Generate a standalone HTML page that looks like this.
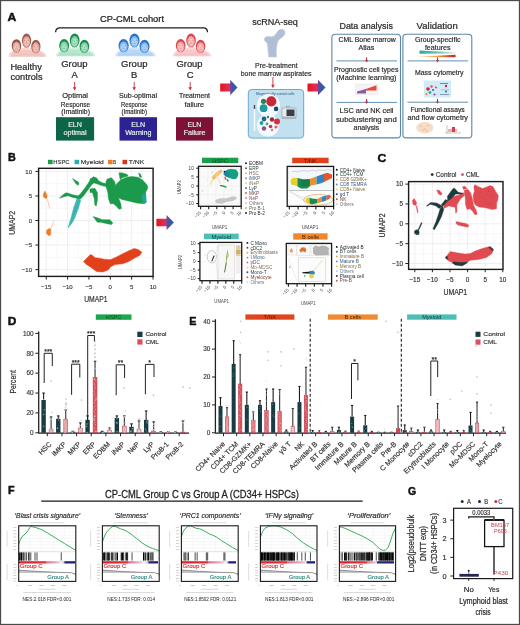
<!DOCTYPE html>
<html><head><meta charset="utf-8"><style>
html,body{margin:0;padding:0;background:#fff;}
svg{display:block;font-family:"Liberation Sans",sans-serif;will-change:transform;}
</style></head><body>
<svg width="520" height="625" viewBox="0 0 520 625">
<rect width="520" height="625" fill="#fff"/>
<text x="7.40" y="21.20" font-size="11.04" fill="#111" font-weight="bold" stroke="#111" stroke-width="0.45" textLength="8.80" lengthAdjust="spacingAndGlyphs" >A</text>
<text x="100.00" y="22.20" font-size="9.41" fill="#222" font-weight="normal" stroke="#222" stroke-width="0.24" textLength="64.00" lengthAdjust="spacingAndGlyphs" >CP-CML cohort</text>
<path d="M55.6,32.2 Q55.8,27.8 60,27.8 L203.5,27.8 Q207.4,27.8 207.5,32.2" fill="none" stroke="#1e1e1e" stroke-width="1.3" />
<path d="M8.50,56.70 Q9.26,50.85 16.48,50.05 Q21.80,47.35 26.55,47.05 Q31.30,47.35 35.86,50.05 Q45.74,50.85 46.50,56.70 Z" fill="#f7d8d4" stroke="none" stroke-width="1" />
<path d="M10.40,56.70 Q11.54,51.35 16.48,51.05 Q26.55,48.85 35.86,51.05 Q43.46,51.35 44.60,56.70 Z" fill="#eaa8a0" stroke="none" stroke-width="1" opacity="0.35"/>
<path d="M12.30,55.20 Q27.50,53.70 42.70,55.20" fill="none" stroke="#eaa8a0" stroke-width="0.5" opacity="0.6"/>
<rect x="24.27" y="44.00" width="4.56" height="3.70" fill="#eaa8a0" opacity="0.7"/>
<ellipse cx="26.55" cy="40.53" rx="4.64" ry="6.93" fill="#9a5e50"/>
<ellipse cx="26.55" cy="41.69" rx="3.62" ry="5.54" fill="#eaa8a0"/>
<ellipse cx="26.55" cy="42.15" rx="2.32" ry="3.47" fill="#f7d8d4" opacity="0.55"/>
<circle cx="24.93" cy="40.53" r="0.45" fill="#9a5e50" opacity="0.8"/>
<circle cx="28.17" cy="40.53" r="0.45" fill="#9a5e50" opacity="0.8"/>
<line x1="26.55" y1="40.99" x2="26.55" y2="42.61" stroke="#9a5e50" stroke-width="0.4" opacity="0.6"/>
<line x1="25.16" y1="43.76" x2="27.94" y2="43.76" stroke="#9a5e50" stroke-width="0.45" opacity="0.7"/>
<rect x="14.20" y="49.19" width="4.56" height="3.70" fill="#eaa8a0" opacity="0.7"/>
<ellipse cx="16.48" cy="45.84" rx="4.75" ry="6.70" fill="#8a5646"/>
<ellipse cx="16.48" cy="47.00" rx="3.71" ry="5.36" fill="#eaa8a0"/>
<ellipse cx="16.48" cy="47.46" rx="2.38" ry="3.35" fill="#f7d8d4" opacity="0.55"/>
<circle cx="14.82" cy="45.84" r="0.45" fill="#9a5e50" opacity="0.8"/>
<circle cx="18.14" cy="45.84" r="0.45" fill="#9a5e50" opacity="0.8"/>
<line x1="16.48" y1="46.31" x2="16.48" y2="47.92" stroke="#9a5e50" stroke-width="0.4" opacity="0.6"/>
<line x1="15.05" y1="49.08" x2="17.91" y2="49.08" stroke="#9a5e50" stroke-width="0.45" opacity="0.7"/>
<rect x="33.58" y="49.89" width="4.56" height="3.70" fill="#eaa8a0" opacity="0.7"/>
<ellipse cx="35.86" cy="46.54" rx="4.64" ry="6.70" fill="#9a5e50"/>
<ellipse cx="35.86" cy="47.69" rx="3.62" ry="5.36" fill="#eaa8a0"/>
<ellipse cx="35.86" cy="48.15" rx="2.32" ry="3.35" fill="#f7d8d4" opacity="0.55"/>
<circle cx="34.24" cy="46.54" r="0.45" fill="#9a5e50" opacity="0.8"/>
<circle cx="37.48" cy="46.54" r="0.45" fill="#9a5e50" opacity="0.8"/>
<line x1="35.86" y1="47.00" x2="35.86" y2="48.62" stroke="#9a5e50" stroke-width="0.4" opacity="0.6"/>
<line x1="34.47" y1="49.77" x2="37.25" y2="49.77" stroke="#9a5e50" stroke-width="0.45" opacity="0.7"/>
<path d="M55.80,56.20 Q56.59,50.52 64.14,49.72 Q69.69,47.02 74.66,46.72 Q79.62,47.02 84.38,49.72 Q94.71,50.52 95.50,56.20 Z" fill="#d2f0e0" stroke="none" stroke-width="1" />
<path d="M57.78,56.20 Q58.98,51.02 64.14,50.72 Q74.66,48.52 84.38,50.72 Q92.32,51.02 93.52,56.20 Z" fill="#86d2aa" stroke="none" stroke-width="1" opacity="0.35"/>
<path d="M59.77,54.70 Q75.65,53.20 91.53,54.70" fill="none" stroke="#86d2aa" stroke-width="0.5" opacity="0.6"/>
<rect x="72.28" y="43.77" width="4.76" height="3.62" fill="#86d2aa" opacity="0.7"/>
<ellipse cx="74.66" cy="40.38" rx="4.84" ry="6.78" fill="#1c8a4e"/>
<ellipse cx="74.66" cy="41.51" rx="3.78" ry="5.42" fill="#86d2aa"/>
<ellipse cx="74.66" cy="41.96" rx="2.42" ry="3.39" fill="#d2f0e0" opacity="0.55"/>
<circle cx="72.96" cy="40.38" r="0.45" fill="#1c8a4e" opacity="0.8"/>
<circle cx="76.35" cy="40.38" r="0.45" fill="#1c8a4e" opacity="0.8"/>
<line x1="74.66" y1="40.83" x2="74.66" y2="42.41" stroke="#1c8a4e" stroke-width="0.4" opacity="0.6"/>
<line x1="73.20" y1="43.54" x2="76.11" y2="43.54" stroke="#1c8a4e" stroke-width="0.45" opacity="0.7"/>
<rect x="61.76" y="48.86" width="4.76" height="3.62" fill="#86d2aa" opacity="0.7"/>
<ellipse cx="64.14" cy="45.58" rx="4.96" ry="6.55" fill="#1c8a4e"/>
<ellipse cx="64.14" cy="46.71" rx="3.87" ry="5.24" fill="#86d2aa"/>
<ellipse cx="64.14" cy="47.16" rx="2.48" ry="3.28" fill="#d2f0e0" opacity="0.55"/>
<circle cx="62.40" cy="45.58" r="0.45" fill="#1c8a4e" opacity="0.8"/>
<circle cx="65.87" cy="45.58" r="0.45" fill="#1c8a4e" opacity="0.8"/>
<line x1="64.14" y1="46.03" x2="64.14" y2="47.61" stroke="#1c8a4e" stroke-width="0.4" opacity="0.6"/>
<line x1="62.65" y1="48.74" x2="65.63" y2="48.74" stroke="#1c8a4e" stroke-width="0.45" opacity="0.7"/>
<rect x="82.00" y="49.53" width="4.76" height="3.62" fill="#86d2aa" opacity="0.7"/>
<ellipse cx="84.38" cy="46.26" rx="4.84" ry="6.55" fill="#1c8a4e"/>
<ellipse cx="84.38" cy="47.39" rx="3.78" ry="5.24" fill="#86d2aa"/>
<ellipse cx="84.38" cy="47.84" rx="2.42" ry="3.28" fill="#d2f0e0" opacity="0.55"/>
<circle cx="82.69" cy="46.26" r="0.45" fill="#1c8a4e" opacity="0.8"/>
<circle cx="86.08" cy="46.26" r="0.45" fill="#1c8a4e" opacity="0.8"/>
<line x1="84.38" y1="46.71" x2="84.38" y2="48.29" stroke="#1c8a4e" stroke-width="0.4" opacity="0.6"/>
<line x1="82.93" y1="49.42" x2="85.84" y2="49.42" stroke="#1c8a4e" stroke-width="0.45" opacity="0.7"/>
<path d="M115.00,56.20 Q115.82,50.52 123.61,49.72 Q129.35,47.02 134.47,46.72 Q139.60,47.02 144.52,49.72 Q155.18,50.52 156.00,56.20 Z" fill="#d2e6f9" stroke="none" stroke-width="1" />
<path d="M117.05,56.20 Q118.28,51.02 123.61,50.72 Q134.47,48.52 144.52,50.72 Q152.72,51.02 153.95,56.20 Z" fill="#8cbcee" stroke="none" stroke-width="1" opacity="0.35"/>
<path d="M119.10,54.70 Q135.50,53.20 151.90,54.70" fill="none" stroke="#8cbcee" stroke-width="0.5" opacity="0.6"/>
<rect x="132.01" y="43.77" width="4.92" height="3.62" fill="#8cbcee" opacity="0.7"/>
<ellipse cx="134.47" cy="40.38" rx="5.00" ry="6.78" fill="#2a72c8"/>
<ellipse cx="134.47" cy="41.51" rx="3.90" ry="5.42" fill="#8cbcee"/>
<ellipse cx="134.47" cy="41.96" rx="2.50" ry="3.39" fill="#d2e6f9" opacity="0.55"/>
<circle cx="132.72" cy="40.38" r="0.45" fill="#2a72c8" opacity="0.8"/>
<circle cx="136.23" cy="40.38" r="0.45" fill="#2a72c8" opacity="0.8"/>
<line x1="134.47" y1="40.83" x2="134.47" y2="42.41" stroke="#2a72c8" stroke-width="0.4" opacity="0.6"/>
<line x1="132.97" y1="43.54" x2="135.98" y2="43.54" stroke="#2a72c8" stroke-width="0.45" opacity="0.7"/>
<rect x="121.15" y="48.86" width="4.92" height="3.62" fill="#8cbcee" opacity="0.7"/>
<ellipse cx="123.61" cy="45.58" rx="5.12" ry="6.55" fill="#2a72c8"/>
<ellipse cx="123.61" cy="46.71" rx="4.00" ry="5.24" fill="#8cbcee"/>
<ellipse cx="123.61" cy="47.16" rx="2.56" ry="3.28" fill="#d2e6f9" opacity="0.55"/>
<circle cx="121.82" cy="45.58" r="0.45" fill="#2a72c8" opacity="0.8"/>
<circle cx="125.40" cy="45.58" r="0.45" fill="#2a72c8" opacity="0.8"/>
<line x1="123.61" y1="46.03" x2="123.61" y2="47.61" stroke="#2a72c8" stroke-width="0.4" opacity="0.6"/>
<line x1="122.07" y1="48.74" x2="125.15" y2="48.74" stroke="#2a72c8" stroke-width="0.45" opacity="0.7"/>
<rect x="142.06" y="49.53" width="4.92" height="3.62" fill="#8cbcee" opacity="0.7"/>
<ellipse cx="144.52" cy="46.26" rx="5.00" ry="6.55" fill="#2a72c8"/>
<ellipse cx="144.52" cy="47.39" rx="3.90" ry="5.24" fill="#8cbcee"/>
<ellipse cx="144.52" cy="47.84" rx="2.50" ry="3.28" fill="#d2e6f9" opacity="0.55"/>
<circle cx="142.77" cy="46.26" r="0.45" fill="#2a72c8" opacity="0.8"/>
<circle cx="146.27" cy="46.26" r="0.45" fill="#2a72c8" opacity="0.8"/>
<line x1="144.52" y1="46.71" x2="144.52" y2="48.29" stroke="#2a72c8" stroke-width="0.4" opacity="0.6"/>
<line x1="143.02" y1="49.42" x2="146.02" y2="49.42" stroke="#2a72c8" stroke-width="0.45" opacity="0.7"/>
<path d="M172.50,56.20 Q173.28,50.52 180.69,49.72 Q186.15,47.02 191.03,46.72 Q195.90,47.02 200.58,49.72 Q210.72,50.52 211.50,56.20 Z" fill="#fcdadb" stroke="none" stroke-width="1" />
<path d="M174.45,56.20 Q175.62,51.02 180.69,50.72 Q191.03,48.52 200.58,50.72 Q208.38,51.02 209.55,56.20 Z" fill="#f4a6a8" stroke="none" stroke-width="1" opacity="0.35"/>
<path d="M176.40,54.70 Q192.00,53.20 207.60,54.70" fill="none" stroke="#f4a6a8" stroke-width="0.5" opacity="0.6"/>
<rect x="188.69" y="43.77" width="4.68" height="3.62" fill="#f4a6a8" opacity="0.7"/>
<ellipse cx="191.03" cy="40.38" rx="4.76" ry="6.78" fill="#d84850"/>
<ellipse cx="191.03" cy="41.51" rx="3.71" ry="5.42" fill="#f4a6a8"/>
<ellipse cx="191.03" cy="41.96" rx="2.38" ry="3.39" fill="#fcdadb" opacity="0.55"/>
<circle cx="189.36" cy="40.38" r="0.45" fill="#d84850" opacity="0.8"/>
<circle cx="192.69" cy="40.38" r="0.45" fill="#d84850" opacity="0.8"/>
<line x1="191.03" y1="40.83" x2="191.03" y2="42.41" stroke="#d84850" stroke-width="0.4" opacity="0.6"/>
<line x1="189.60" y1="43.54" x2="192.45" y2="43.54" stroke="#d84850" stroke-width="0.45" opacity="0.7"/>
<rect x="178.35" y="48.86" width="4.68" height="3.62" fill="#f4a6a8" opacity="0.7"/>
<ellipse cx="180.69" cy="45.58" rx="4.88" ry="6.55" fill="#d84850"/>
<ellipse cx="180.69" cy="46.71" rx="3.80" ry="5.24" fill="#f4a6a8"/>
<ellipse cx="180.69" cy="47.16" rx="2.44" ry="3.28" fill="#fcdadb" opacity="0.55"/>
<circle cx="178.98" cy="45.58" r="0.45" fill="#d84850" opacity="0.8"/>
<circle cx="182.40" cy="45.58" r="0.45" fill="#d84850" opacity="0.8"/>
<line x1="180.69" y1="46.03" x2="180.69" y2="47.61" stroke="#d84850" stroke-width="0.4" opacity="0.6"/>
<line x1="179.23" y1="48.74" x2="182.15" y2="48.74" stroke="#d84850" stroke-width="0.45" opacity="0.7"/>
<rect x="198.24" y="49.53" width="4.68" height="3.62" fill="#f4a6a8" opacity="0.7"/>
<ellipse cx="200.58" cy="46.26" rx="4.76" ry="6.55" fill="#d84850"/>
<ellipse cx="200.58" cy="47.39" rx="3.71" ry="5.24" fill="#f4a6a8"/>
<ellipse cx="200.58" cy="47.84" rx="2.38" ry="3.28" fill="#fcdadb" opacity="0.55"/>
<circle cx="198.91" cy="46.26" r="0.45" fill="#d84850" opacity="0.8"/>
<circle cx="202.25" cy="46.26" r="0.45" fill="#d84850" opacity="0.8"/>
<line x1="200.58" y1="46.71" x2="200.58" y2="48.29" stroke="#d84850" stroke-width="0.4" opacity="0.6"/>
<line x1="199.15" y1="49.42" x2="202.01" y2="49.42" stroke="#d84850" stroke-width="0.45" opacity="0.7"/>
<text x="10.40" y="70.00" font-size="9.79" fill="#2a2a2a" font-weight="normal" stroke="#2a2a2a" stroke-width="0.24" textLength="31.50" lengthAdjust="spacingAndGlyphs" >Healthy</text>
<text x="10.40" y="80.40" font-size="9.79" fill="#2a2a2a" font-weight="normal" stroke="#2a2a2a" stroke-width="0.24" textLength="32.10" lengthAdjust="spacingAndGlyphs" >controls</text>
<text x="61.20" y="66.90" font-size="9.41" fill="#2a2a2a" font-weight="normal" stroke="#2a2a2a" stroke-width="0.24" textLength="26.50" lengthAdjust="spacingAndGlyphs" >Group</text>
<text x="74.60" y="77.70" font-size="9.41" fill="#2a2a2a" font-weight="normal" stroke="#2a2a2a" stroke-width="0.24" text-anchor="middle" >A</text>
<line x1="74.60" y1="82.00" x2="74.60" y2="88.00" stroke="#c7303c" stroke-width="0.9" />
<path d="M72.80,87.2 L76.40,87.2 L74.60,90.4 Z" fill="#c7303c" stroke="none" stroke-width="1" />
<text x="62.30" y="98.30" font-size="7.01" fill="#2a2a2a" font-weight="normal" stroke="#2a2a2a" stroke-width="0.18" textLength="25.70" lengthAdjust="spacingAndGlyphs" >Optimal</text>
<text x="60.80" y="106.50" font-size="7.01" fill="#2a2a2a" font-weight="normal" stroke="#2a2a2a" stroke-width="0.18" textLength="29.40" lengthAdjust="spacingAndGlyphs" >Response</text>
<text x="61.20" y="113.70" font-size="7.01" fill="#2a2a2a" font-weight="normal" stroke="#2a2a2a" stroke-width="0.18" textLength="28.80" lengthAdjust="spacingAndGlyphs" >(Imatinib)</text>
<rect x="56.00" y="117.20" width="38.10" height="23.40" fill="#0d6447" />
<text x="75.05" y="127.30" font-size="7.1" fill="#e4f0ec" font-weight="normal" stroke="#e4f0ec" stroke-width="0.18" text-anchor="middle" >ELN</text>
<text x="75.05" y="135.20" font-size="7.1" fill="#e4f0ec" font-weight="normal" stroke="#e4f0ec" stroke-width="0.18" text-anchor="middle" >optimal</text>
<text x="121.00" y="66.90" font-size="9.41" fill="#2a2a2a" font-weight="normal" stroke="#2a2a2a" stroke-width="0.24" textLength="26.50" lengthAdjust="spacingAndGlyphs" >Group</text>
<text x="134.20" y="77.70" font-size="9.41" fill="#2a2a2a" font-weight="normal" stroke="#2a2a2a" stroke-width="0.24" text-anchor="middle" >B</text>
<line x1="134.20" y1="82.00" x2="134.20" y2="88.00" stroke="#c7303c" stroke-width="0.9" />
<path d="M132.40,87.2 L136.00,87.2 L134.20,90.4 Z" fill="#c7303c" stroke="none" stroke-width="1" />
<text x="119.00" y="98.30" font-size="7.01" fill="#2a2a2a" font-weight="normal" stroke="#2a2a2a" stroke-width="0.18" textLength="38.00" lengthAdjust="spacingAndGlyphs" >Sub-optimal</text>
<text x="121.00" y="106.50" font-size="7.01" fill="#2a2a2a" font-weight="normal" stroke="#2a2a2a" stroke-width="0.18" textLength="26.50" lengthAdjust="spacingAndGlyphs" >Response</text>
<text x="121.40" y="113.70" font-size="7.01" fill="#2a2a2a" font-weight="normal" stroke="#2a2a2a" stroke-width="0.18" textLength="25.60" lengthAdjust="spacingAndGlyphs" >(Imatinib)</text>
<rect x="119.50" y="117.20" width="37.50" height="23.40" fill="#2c2291" />
<text x="138.25" y="127.30" font-size="7.1" fill="#e4f0ec" font-weight="normal" stroke="#e4f0ec" stroke-width="0.18" text-anchor="middle" >ELN</text>
<text x="138.25" y="135.20" font-size="7.1" fill="#e4f0ec" font-weight="normal" stroke="#e4f0ec" stroke-width="0.18" text-anchor="middle" >Warning</text>
<text x="176.50" y="66.90" font-size="9.41" fill="#2a2a2a" font-weight="normal" stroke="#2a2a2a" stroke-width="0.24" textLength="26.00" lengthAdjust="spacingAndGlyphs" >Group</text>
<text x="190.20" y="77.70" font-size="9.41" fill="#2a2a2a" font-weight="normal" stroke="#2a2a2a" stroke-width="0.24" text-anchor="middle" >C</text>
<line x1="190.20" y1="82.00" x2="190.20" y2="88.00" stroke="#c7303c" stroke-width="0.9" />
<path d="M188.40,87.2 L192.00,87.2 L190.20,90.4 Z" fill="#c7303c" stroke="none" stroke-width="1" />
<text x="179.00" y="98.30" font-size="7.01" fill="#2a2a2a" font-weight="normal" stroke="#2a2a2a" stroke-width="0.18" textLength="31.00" lengthAdjust="spacingAndGlyphs" >Treatment</text>
<text x="184.50" y="106.50" font-size="7.01" fill="#2a2a2a" font-weight="normal" stroke="#2a2a2a" stroke-width="0.18" textLength="19.50" lengthAdjust="spacingAndGlyphs" >failure</text>
<rect x="176.00" y="117.20" width="37.00" height="23.40" fill="#7e1137" />
<text x="194.50" y="127.30" font-size="7.1" fill="#e4f0ec" font-weight="normal" stroke="#e4f0ec" stroke-width="0.18" text-anchor="middle" >ELN</text>
<text x="194.50" y="135.20" font-size="7.1" fill="#e4f0ec" font-weight="normal" stroke="#e4f0ec" stroke-width="0.18" text-anchor="middle" >Failure</text>
<defs><linearGradient id="ga" x1="0" x2="1" y1="0" y2="0">
<stop offset="0" stop-color="#e8121c"/><stop offset="0.5" stop-color="#e0305a"/><stop offset="0.6" stop-color="#6a4a9a"/><stop offset="0.8" stop-color="#3458a4"/><stop offset="1" stop-color="#2a6aa8"/></linearGradient></defs>
<path d="M220.20,83.60 L230.23,83.60 L230.23,79.70 L237.50,87.50 L230.23,95.30 L230.23,91.40 L220.20,91.40 Z" fill="url(#ga)" stroke="none" stroke-width="1" />
<path d="M307.50,83.60 L317.94,83.60 L317.94,79.70 L325.50,87.50 L317.94,95.30 L317.94,91.40 L307.50,91.40 Z" fill="url(#ga)" stroke="none" stroke-width="1" />
<text x="252.20" y="25.30" font-size="9.22" fill="#2a2a2a" font-weight="normal" stroke="#2a2a2a" stroke-width="0.23" textLength="45.70" lengthAdjust="spacingAndGlyphs" >scRNA-seq</text>
<path d="M268.8,57 C268.2,53 267.8,49 267.6,45.5 C267.4,43 266,42 264.8,40.8 C263.8,39.6 264.4,37.4 266.2,36.8 C268.2,36.2 270.5,37.2 272.5,36.6 C274.5,36 276,34 277.2,32 C278.2,30 280.5,28.8 282.8,29.4 C285.2,30.2 285.6,33 284.4,35 C283.2,37 280.6,38 279.2,39.6 C277.6,41.4 277,44 276.6,47 C276.2,50.5 276.2,54 276.6,57 Z" fill="#b0bfd6" stroke="#c2cde0" stroke-width="0.6" />
<text x="255.00" y="67.80" font-size="7.39" fill="#2a2a2a" font-weight="normal" stroke="#2a2a2a" stroke-width="0.18" textLength="42.60" lengthAdjust="spacingAndGlyphs" >Pre-treatment</text>
<text x="240.70" y="75.60" font-size="7.39" fill="#2a2a2a" font-weight="normal" stroke="#2a2a2a" stroke-width="0.18" textLength="70.80" lengthAdjust="spacingAndGlyphs" >bone marrow aspirates</text>
<line x1="272.90" y1="77.00" x2="272.90" y2="85.50" stroke="#c7303c" stroke-width="0.9" />
<path d="M271.2,84.8 L274.6,84.8 L272.9,88.2 Z" fill="#c7303c" stroke="none" stroke-width="1" />
<rect x="248.3" y="89.5" width="55.4" height="48.6" rx="3.5" fill="#c1e1f1" stroke="#5e9fc6" stroke-width="0.9"/>
<text x="256.00" y="94.60" font-size="2.88" fill="#2d4f7a" font-weight="normal" textLength="38.50" lengthAdjust="spacingAndGlyphs" >Magnetically sorted cells</text>
<circle cx="268.50" cy="105.50" r="11.50" fill="#f4fafd" />
<circle cx="268.00" cy="125.50" r="11.00" fill="#f4fafd" />
<circle cx="263.50" cy="101.30" r="2.60" fill="#1f8a4e" />
<circle cx="271.30" cy="101.40" r="5.10" fill="#c8283a" />
<circle cx="263.60" cy="108.20" r="3.90" fill="#1f9b9b" />
<circle cx="276.10" cy="108.90" r="2.30" fill="#1b4a70" />
<circle cx="264.00" cy="119.00" r="2.40" fill="#1f6a80" />
<circle cx="268.00" cy="117.00" r="1.20" fill="#1f8a6e" />
<circle cx="272.00" cy="119.50" r="2.20" fill="#a02838" />
<circle cx="277.00" cy="121.50" r="3.00" fill="#d83040" />
<circle cx="261.50" cy="123.00" r="1.90" fill="#1f9b9b" />
<circle cx="267.00" cy="124.00" r="1.40" fill="#2bb08f" />
<circle cx="270.50" cy="126.50" r="1.80" fill="#d83040" />
<circle cx="264.00" cy="128.50" r="2.20" fill="#9a4a8a" />
<circle cx="276.00" cy="127.00" r="1.60" fill="#d86070" />
<circle cx="272.00" cy="130.00" r="1.20" fill="#e07080" />
<rect x="253.80" y="105.00" width="1.40" height="26.00" fill="#f7fbfd" />
<rect x="253.80" y="105.00" width="1.40" height="4.00" fill="#404850" />
<rect x="282" y="108" width="14" height="10.5" rx="1" fill="#e8ecef" stroke="#7a8088" stroke-width="0.5"/>
<rect x="286.50" y="109.50" width="8.00" height="6.50" fill="#3a3e48" />
<rect x="282.00" y="116.50" width="14.00" height="2.00" fill="#b0b4b8" />
<text x="286.00" y="106.80" font-size="2.4" fill="#333" font-weight="normal" >10X</text>
<text x="339.50" y="28.90" font-size="9.22" fill="#2a2a2a" font-weight="normal" stroke="#2a2a2a" stroke-width="0.23" textLength="53.40" lengthAdjust="spacingAndGlyphs" >Data analysis</text>
<text x="416.60" y="28.90" font-size="9.22" fill="#2a2a2a" font-weight="normal" stroke="#2a2a2a" stroke-width="0.23" textLength="41.10" lengthAdjust="spacingAndGlyphs" >Validation</text>
<rect x="331.9" y="34.3" width="68.6" height="103.6" rx="3.5" fill="none" stroke="#5a86a8" stroke-width="1.1"/>
<rect x="402.9" y="34.3" width="68.9" height="103.6" rx="3.5" fill="none" stroke="#5a86a8" stroke-width="1.1"/>
<line x1="336.50" y1="60.90" x2="397.00" y2="60.90" stroke="#4f84a8" stroke-width="0.9" />
<rect x="366.05" y="57.50" width="1.10" height="3.00" fill="#b8284a" />
<path d="M365.10,60.10 L368.10,60.10 L366.60,62.50 Z" fill="#c8283f" stroke="none" stroke-width="1" />
<line x1="336.50" y1="102.40" x2="397.00" y2="102.40" stroke="#4f84a8" stroke-width="0.9" />
<rect x="366.05" y="99.00" width="1.10" height="3.00" fill="#b8284a" />
<path d="M365.10,101.60 L368.10,101.60 L366.60,104.00 Z" fill="#c8283f" stroke="none" stroke-width="1" />
<line x1="407.50" y1="60.90" x2="468.00" y2="60.90" stroke="#4f84a8" stroke-width="0.9" />
<rect x="436.95" y="57.50" width="1.10" height="3.00" fill="#b8284a" />
<path d="M436.00,60.10 L439.00,60.10 L437.50,62.50 Z" fill="#c8283f" stroke="none" stroke-width="1" />
<line x1="407.50" y1="102.20" x2="468.00" y2="102.20" stroke="#4f84a8" stroke-width="0.9" />
<rect x="436.95" y="98.80" width="1.10" height="3.00" fill="#b8284a" />
<path d="M436.00,101.40 L439.00,101.40 L437.50,103.80 Z" fill="#c8283f" stroke="none" stroke-width="1" />
<text x="338.50" y="41.60" font-size="7.1" fill="#2a2a2a" font-weight="normal" stroke="#2a2a2a" stroke-width="0.18" textLength="57.20" lengthAdjust="spacingAndGlyphs" >CML Bone marrow</text>
<text x="366.30" y="49.70" font-size="7.1" fill="#2a2a2a" font-weight="normal" stroke="#2a2a2a" stroke-width="0.18" text-anchor="middle" >Atlas</text>
<text x="334.00" y="72.30" font-size="7.1" fill="#2a2a2a" font-weight="normal" stroke="#2a2a2a" stroke-width="0.18" textLength="64.40" lengthAdjust="spacingAndGlyphs" >Prognostic cell types</text>
<text x="336.20" y="80.10" font-size="7.1" fill="#2a2a2a" font-weight="normal" stroke="#2a2a2a" stroke-width="0.18" textLength="60.30" lengthAdjust="spacingAndGlyphs" >(Machine learning)</text>
<text x="339.50" y="112.90" font-size="7.1" fill="#2a2a2a" font-weight="normal" stroke="#2a2a2a" stroke-width="0.18" textLength="54.00" lengthAdjust="spacingAndGlyphs" >LSC and NK cell</text>
<text x="336.00" y="121.60" font-size="7.1" fill="#2a2a2a" font-weight="normal" stroke="#2a2a2a" stroke-width="0.18" textLength="60.70" lengthAdjust="spacingAndGlyphs" >subclustering and</text>
<text x="366.30" y="130.20" font-size="7.1" fill="#2a2a2a" font-weight="normal" stroke="#2a2a2a" stroke-width="0.18" text-anchor="middle" >analysis</text>
<rect x="355.50" y="84.00" width="22.50" height="10.50" fill="#f5f2f6" stroke="#ddd" stroke-width="0.3"/>
<path d="M357,91.5 L366,89 L366,93.5 L357,93.5 Z" fill="#8a5aa8" stroke="none" stroke-width="1" />
<path d="M366,89 L376.5,85.2 L376.5,90.5 L366,90.5 Z" fill="#e24a3a" stroke="none" stroke-width="1" />
<text x="415.00" y="41.60" font-size="7.1" fill="#2a2a2a" font-weight="normal" stroke="#2a2a2a" stroke-width="0.18" textLength="45.50" lengthAdjust="spacingAndGlyphs" >Group-specific</text>
<text x="437.70" y="49.80" font-size="7.1" fill="#2a2a2a" font-weight="normal" stroke="#2a2a2a" stroke-width="0.18" text-anchor="middle" >features</text>
<defs><linearGradient id="gt" x1="0" x2="1"><stop offset="0" stop-color="#2aa8a0"/><stop offset="0.6" stop-color="#7ec8c0"/><stop offset="1" stop-color="#f4f0e0"/></linearGradient>
<linearGradient id="gr" x1="0" x2="1"><stop offset="0" stop-color="#f6e6c0"/><stop offset="0.5" stop-color="#f0a040"/><stop offset="1" stop-color="#c8202a"/></linearGradient></defs>
<path d="M419.5,50.4 L455.5,52.2 L455.5,53.5 L419.5,53.8 Z" fill="url(#gt)" stroke="none" stroke-width="1" />
<path d="M419.5,56.4 L455.5,54.8 L455.5,57.2 L419.5,57 Z" fill="url(#gr)" stroke="none" stroke-width="1" />
<text x="415.00" y="74.60" font-size="7.1" fill="#2a2a2a" font-weight="normal" stroke="#2a2a2a" stroke-width="0.18" textLength="48.50" lengthAdjust="spacingAndGlyphs" >Mass cytometry</text>
<rect x="424.00" y="80.50" width="27.00" height="17.00" fill="#d2ebf6" />
<circle cx="428.00" cy="89.00" r="1.80" fill="#c8283a" />
<circle cx="431.50" cy="86.50" r="1.20" fill="#e05060" />
<circle cx="430.00" cy="92.50" r="1.30" fill="#1f9b9b" />
<circle cx="433.00" cy="90.00" r="1.00" fill="#2a5aa0" />
<circle cx="426.50" cy="94.00" r="1.00" fill="#e88030" />
<circle cx="434.50" cy="94.50" r="1.10" fill="#9a4a8a" />
<circle cx="436.00" cy="87.50" r="0.90" fill="#d83040" />
<circle cx="446.00" cy="86.00" r="1.20" fill="#c8283a" />
<circle cx="446.00" cy="91.50" r="1.00" fill="#2a5aa0" />
<rect x="440.00" y="83.00" width="8.00" height="1.00" fill="#6a8aa8" />
<rect x="440.00" y="94.00" width="9.00" height="0.80" fill="#6a8aa8" />
<rect x="441.00" y="89.50" width="8.00" height="0.80" fill="#a0b8c8" />
<text x="410.40" y="111.80" font-size="7.1" fill="#2a2a2a" font-weight="normal" stroke="#2a2a2a" stroke-width="0.18" textLength="54.30" lengthAdjust="spacingAndGlyphs" >Functional assays</text>
<text x="407.40" y="120.20" font-size="7.1" fill="#2a2a2a" font-weight="normal" stroke="#2a2a2a" stroke-width="0.18" textLength="60.60" lengthAdjust="spacingAndGlyphs" >and flow cytometry</text>
<ellipse cx="424.8" cy="127.7" rx="8.6" ry="5.8" fill="#f7dcc6"/>
<circle cx="421.00" cy="126.00" r="0.45" fill="#8a5a4a" />
<circle cx="425.00" cy="129.00" r="0.45" fill="#8a5a4a" />
<circle cx="428.00" cy="125.50" r="0.45" fill="#8a5a4a" />
<circle cx="423.00" cy="130.00" r="0.45" fill="#8a5a4a" />
<circle cx="427.00" cy="131.00" r="0.45" fill="#8a5a4a" />
<line x1="447.00" y1="125.00" x2="447.00" y2="133.00" stroke="#666" stroke-width="0.4" />
<line x1="445.00" y1="133.00" x2="461.00" y2="133.00" stroke="#666" stroke-width="0.4" />
<rect x="448.00" y="129.00" width="9.00" height="3.00" fill="#f0b0b0" />
<rect x="452.00" y="127.00" width="3.00" height="5.00" fill="#d04050" />
<text x="8.00" y="161.20" font-size="11.04" fill="#111" font-weight="bold" stroke="#111" stroke-width="0.45" textLength="7.80" lengthAdjust="spacingAndGlyphs" >B</text>
<rect x="48.00" y="159.80" width="4.60" height="4.40" fill="#1e9b4c" />
<text x="53.30" y="164.10" font-size="6.05" fill="#333" font-weight="normal" stroke="#333" stroke-width="0.15" textLength="16.30" lengthAdjust="spacingAndGlyphs" >HSPC</text>
<rect x="74.50" y="159.80" width="4.60" height="4.40" fill="#25b1ad" />
<text x="80.80" y="164.10" font-size="6.05" fill="#333" font-weight="normal" stroke="#333" stroke-width="0.15" textLength="23.00" lengthAdjust="spacingAndGlyphs" >Myeloid</text>
<rect x="108.00" y="159.80" width="4.60" height="4.40" fill="#f07a28" />
<text x="113.00" y="164.10" font-size="6.05" fill="#333" font-weight="normal" stroke="#333" stroke-width="0.15" textLength="3.20" lengthAdjust="spacingAndGlyphs" >B</text>
<rect x="122.50" y="159.80" width="4.60" height="4.40" fill="#de3219" />
<text x="128.80" y="164.10" font-size="6.05" fill="#333" font-weight="normal" stroke="#333" stroke-width="0.15" textLength="15.40" lengthAdjust="spacingAndGlyphs" >T/NK</text>
<line x1="46.25" y1="168.30" x2="46.25" y2="276.40" stroke="#e4e4e4" stroke-width="0.6" />
<line x1="67.60" y1="168.30" x2="67.60" y2="276.40" stroke="#e4e4e4" stroke-width="0.6" />
<line x1="88.95" y1="168.30" x2="88.95" y2="276.40" stroke="#e4e4e4" stroke-width="0.6" />
<line x1="110.30" y1="168.30" x2="110.30" y2="276.40" stroke="#e4e4e4" stroke-width="0.6" />
<line x1="131.65" y1="168.30" x2="131.65" y2="276.40" stroke="#e4e4e4" stroke-width="0.6" />
<line x1="153.00" y1="168.30" x2="153.00" y2="276.40" stroke="#e4e4e4" stroke-width="0.6" />
<line x1="38.60" y1="171.40" x2="153.10" y2="171.40" stroke="#e4e4e4" stroke-width="0.6" />
<line x1="38.60" y1="195.95" x2="153.10" y2="195.95" stroke="#e4e4e4" stroke-width="0.6" />
<line x1="38.60" y1="220.50" x2="153.10" y2="220.50" stroke="#e4e4e4" stroke-width="0.6" />
<line x1="38.60" y1="245.05" x2="153.10" y2="245.05" stroke="#e4e4e4" stroke-width="0.6" />
<line x1="38.60" y1="269.60" x2="153.10" y2="269.60" stroke="#e4e4e4" stroke-width="0.6" />
<line x1="56.92" y1="168.30" x2="56.92" y2="276.40" stroke="#f0f0f0" stroke-width="0.5" />
<line x1="78.28" y1="168.30" x2="78.28" y2="276.40" stroke="#f0f0f0" stroke-width="0.5" />
<line x1="99.62" y1="168.30" x2="99.62" y2="276.40" stroke="#f0f0f0" stroke-width="0.5" />
<line x1="120.97" y1="168.30" x2="120.97" y2="276.40" stroke="#f0f0f0" stroke-width="0.5" />
<line x1="142.32" y1="168.30" x2="142.32" y2="276.40" stroke="#f0f0f0" stroke-width="0.5" />
<line x1="38.60" y1="183.68" x2="153.10" y2="183.68" stroke="#f0f0f0" stroke-width="0.5" />
<line x1="38.60" y1="208.22" x2="153.10" y2="208.22" stroke="#f0f0f0" stroke-width="0.5" />
<line x1="38.60" y1="232.78" x2="153.10" y2="232.78" stroke="#f0f0f0" stroke-width="0.5" />
<line x1="38.60" y1="257.33" x2="153.10" y2="257.33" stroke="#f0f0f0" stroke-width="0.5" />
<path d="M120.80,179.70 L126.90,177.20 L131.80,176.60 L138.00,177.20 L142.90,180.30 L147.20,185.20 L147.80,188.30 L146.00,191.40 L144.20,196.30 L146.00,202.50 L144.20,203.70 L136.80,203.10 L129.40,201.20 L122.00,199.40 L117.70,197.50 L115.20,193.80 L114.60,188.90 L116.50,184.00 Z" fill="#1a9a4a" stroke="#1a9a4a" stroke-width="0.5" stroke-linejoin="round"/>
<path d="M118.90,172.90 L121.40,172.70 L126.90,174.20 L128.20,176.00 L122.00,177.80 L120.20,179.70 Z" fill="#1a9a4a" stroke="#1a9a4a" stroke-width="0.5" stroke-linejoin="round"/>
<path d="M138.60,172.90 L140.50,174.20 L141.70,177.20 L139.80,177.20 Z" fill="#1a9a4a" stroke="#1a9a4a" stroke-width="0.5" stroke-linejoin="round"/>
<path d="M107.20,179.10 L111.50,177.80 L114.60,181.50 L115.80,186.50 L116.50,192.60 L118.30,197.50 L120.80,203.70 L121.40,208.60 L118.90,209.20 L116.50,206.20 L113.40,203.70 L110.30,203.70 L108.50,198.80 L107.80,192.60 L106.00,186.50 L106.00,181.50 Z" fill="#1a9a4a" stroke="#1a9a4a" stroke-width="0.5" stroke-linejoin="round"/>
<path d="M90.00,179.10 L93.70,177.20 L97.40,180.30 L102.30,182.80 L107.20,184.00 L107.20,186.50 L102.30,185.80 L97.40,184.00 L93.70,182.80 L90.00,184.00 Z" fill="#1a9a4a" stroke="#1a9a4a" stroke-width="0.5" stroke-linejoin="round"/>
<path d="M90.00,188.90 L94.90,188.30 L97.40,192.60 L97.40,200.00 L96.20,206.20 L94.90,204.90 L94.30,198.80 L92.50,192.60 L90.00,192.60 Z" fill="#1a9a4a" stroke="#1a9a4a" stroke-width="0.5" stroke-linejoin="round"/>
<path d="M76.10,198.00 L80.70,193.40 L85.30,187.60 L89.90,180.70 L93.40,176.70 L96.20,177.80 L98.00,179.50 L98.00,182.50 L95.00,181.50 L91.50,185.00 L87.50,190.50 L83.50,196.00 L80.20,199.20 Z" fill="#1a9a4a" stroke="#1a9a4a" stroke-width="0.5" stroke-linejoin="round"/>
<path d="M59.30,198.20 L64.50,193.60 L66.80,192.80 L72.60,194.80 L77.80,195.70 L77.20,198.20 L72.60,197.40 L68.00,195.70 L64.00,196.80 Z" fill="#1a9a4a" stroke="#1a9a4a" stroke-width="0.5" stroke-linejoin="round"/>
<path d="M72.60,178.40 L76.10,180.70 L78.90,182.40 L78.40,185.30 L76.10,184.10 L74.30,181.30 Z" fill="#1a9a4a" stroke="#1a9a4a" stroke-width="0.5" stroke-linejoin="round"/>
<path d="M93.10,216.60 L97.40,217.80 L102.30,219.70 L109.70,219.70 L112.80,222.80 L111.50,224.60 L106.00,223.40 L101.10,222.20 L97.40,222.20 L95.50,219.70 Z" fill="#1a9a4a" stroke="#1a9a4a" stroke-width="0.5" stroke-linejoin="round"/>
<path d="M77.20,198.00 L80.70,200.30 L78.40,208.40 L74.90,217.60 L72.60,222.20 L68.00,228.00 L69.70,222.20 L71.40,216.40 L73.80,207.20 Z" fill="#26aeab" stroke="#26aeab" stroke-width="0.5" stroke-linejoin="round" opacity="0.9"/>
<path d="M43.20,194.50 L44.90,191.10 L47.20,195.70 L46.70,198.60 L43.80,197.40 Z" fill="#f07a28" stroke="#f07a28" stroke-width="0.5" stroke-linejoin="round"/>
<path d="M47.20,199.20 L47.60,199.10 L49.80,208.30 L49.40,208.40 Z" fill="#f07a28" stroke="#f07a28" stroke-width="0.2" stroke-linejoin="round" opacity="0.55"/>
<path d="M46.70,230.30 L49.00,228.60 L50.70,229.10 L50.70,234.90 L48.40,235.50 L46.30,233.20 Z" fill="#f07a28" stroke="#f07a28" stroke-width="0.5" stroke-linejoin="round"/>
<path d="M53.90,220.40 L54.30,220.60 L50.90,228.70 L50.50,228.50 Z" fill="#f07a28" stroke="#f07a28" stroke-width="0.2" stroke-linejoin="round" opacity="0.55"/>
<path d="M83.50,261.50 L87.30,257.70 L90.40,254.60 L92.70,255.40 L95.00,257.70 L99.60,258.20 L104.20,259.20 L110.40,259.70 L116.50,256.90 L122.70,253.80 L128.80,250.80 L134.20,248.50 L138.10,249.50 L141.90,252.30 L139.60,255.40 L135.00,257.70 L128.80,261.50 L122.70,263.80 L115.00,264.60 L110.40,266.90 L108.10,270.00 L102.70,272.00 L96.50,271.50 L93.50,269.20 L90.40,266.90 L86.50,264.60 Z" fill="#e2401b" stroke="#e2401b" stroke-width="0.5" stroke-linejoin="round"/>
<path d="M141.70,195.10 L146.00,192.60 L146.60,202.50 L142.90,203.70 Z" fill="#1fa596" stroke="none" stroke-width="1" />
<rect x="38.60" y="168.30" width="114.50" height="108.10" fill="none" stroke="#1a1a1a" stroke-width="1.4"/>
<line x1="35.40" y1="171.40" x2="38.60" y2="171.40" stroke="#222" stroke-width="1.0" />
<text x="32.10" y="173.60" font-size="6.05" fill="#3a3a3a" font-weight="normal" stroke="#3a3a3a" stroke-width="0.15" text-anchor="end" >10</text>
<line x1="35.40" y1="195.95" x2="38.60" y2="195.95" stroke="#222" stroke-width="1.0" />
<text x="32.10" y="198.15" font-size="6.05" fill="#3a3a3a" font-weight="normal" stroke="#3a3a3a" stroke-width="0.15" text-anchor="end" >5</text>
<line x1="35.40" y1="220.50" x2="38.60" y2="220.50" stroke="#222" stroke-width="1.0" />
<text x="32.10" y="222.70" font-size="6.05" fill="#3a3a3a" font-weight="normal" stroke="#3a3a3a" stroke-width="0.15" text-anchor="end" >0</text>
<line x1="35.40" y1="245.05" x2="38.60" y2="245.05" stroke="#222" stroke-width="1.0" />
<text x="32.10" y="247.25" font-size="6.05" fill="#3a3a3a" font-weight="normal" stroke="#3a3a3a" stroke-width="0.15" text-anchor="end" >−5</text>
<line x1="35.40" y1="269.60" x2="38.60" y2="269.60" stroke="#222" stroke-width="1.0" />
<text x="32.10" y="271.80" font-size="6.05" fill="#3a3a3a" font-weight="normal" stroke="#3a3a3a" stroke-width="0.15" text-anchor="end" >−10</text>
<line x1="46.25" y1="276.40" x2="46.25" y2="279.60" stroke="#222" stroke-width="1.0" />
<text x="46.25" y="289.10" font-size="6.05" fill="#3a3a3a" font-weight="normal" stroke="#3a3a3a" stroke-width="0.15" text-anchor="middle" >−15</text>
<line x1="67.60" y1="276.40" x2="67.60" y2="279.60" stroke="#222" stroke-width="1.0" />
<text x="67.60" y="289.10" font-size="6.05" fill="#3a3a3a" font-weight="normal" stroke="#3a3a3a" stroke-width="0.15" text-anchor="middle" >−10</text>
<line x1="88.95" y1="276.40" x2="88.95" y2="279.60" stroke="#222" stroke-width="1.0" />
<text x="88.95" y="289.10" font-size="6.05" fill="#3a3a3a" font-weight="normal" stroke="#3a3a3a" stroke-width="0.15" text-anchor="middle" >−5</text>
<line x1="110.30" y1="276.40" x2="110.30" y2="279.60" stroke="#222" stroke-width="1.0" />
<text x="110.30" y="289.10" font-size="6.05" fill="#3a3a3a" font-weight="normal" stroke="#3a3a3a" stroke-width="0.15" text-anchor="middle" >0</text>
<line x1="131.65" y1="276.40" x2="131.65" y2="279.60" stroke="#222" stroke-width="1.0" />
<text x="131.65" y="289.10" font-size="6.05" fill="#3a3a3a" font-weight="normal" stroke="#3a3a3a" stroke-width="0.15" text-anchor="middle" >5</text>
<line x1="153.00" y1="276.40" x2="153.00" y2="279.60" stroke="#222" stroke-width="1.0" />
<text x="153.00" y="289.10" font-size="6.05" fill="#3a3a3a" font-weight="normal" stroke="#3a3a3a" stroke-width="0.15" text-anchor="middle" >10</text>
<text x="84.20" y="301.90" font-size="8.26" fill="#3a3a3a" font-weight="normal" stroke="#3a3a3a" stroke-width="0.21" textLength="23.30" lengthAdjust="spacingAndGlyphs" >UMAP1</text>
<text x="-12.00" y="0.00" font-size="8.26" fill="#3a3a3a" font-weight="normal" stroke="#3a3a3a" stroke-width="0.21" textLength="24.00" lengthAdjust="spacingAndGlyphs" transform="translate(15.4,222.8) rotate(-90)">UMAP2</text>
<path d="M156.40,218.80 L166.55,218.80 L166.55,215.10 L173.90,222.50 L166.55,229.90 L166.55,226.20 L156.40,226.20 Z" fill="url(#ga)" stroke="none" stroke-width="1" />
<rect x="202.00" y="157.70" width="36.30" height="5.40" fill="#1aa04c" />
<text x="220.10" y="162.60" font-size="5.66" fill="#0e4a22" font-weight="normal" text-anchor="middle" >HSPC</text>
<rect x="198.50" y="166.30" width="42.70" height="40.00" fill="#fafafa" />
<line x1="198.50" y1="168.20" x2="241.20" y2="168.20" stroke="#e8e8e8" stroke-width="0.4" />
<line x1="198.50" y1="177.03" x2="241.20" y2="177.03" stroke="#e8e8e8" stroke-width="0.4" />
<line x1="198.50" y1="185.86" x2="241.20" y2="185.86" stroke="#e8e8e8" stroke-width="0.4" />
<line x1="198.50" y1="194.69" x2="241.20" y2="194.69" stroke="#e8e8e8" stroke-width="0.4" />
<line x1="198.50" y1="203.52" x2="241.20" y2="203.52" stroke="#e8e8e8" stroke-width="0.4" />
<line x1="200.00" y1="166.30" x2="200.00" y2="206.30" stroke="#e8e8e8" stroke-width="0.4" />
<line x1="207.90" y1="166.30" x2="207.90" y2="206.30" stroke="#e8e8e8" stroke-width="0.4" />
<line x1="215.80" y1="166.30" x2="215.80" y2="206.30" stroke="#e8e8e8" stroke-width="0.4" />
<line x1="223.70" y1="166.30" x2="223.70" y2="206.30" stroke="#e8e8e8" stroke-width="0.4" />
<line x1="231.60" y1="166.30" x2="231.60" y2="206.30" stroke="#e8e8e8" stroke-width="0.4" />
<line x1="239.50" y1="166.30" x2="239.50" y2="206.30" stroke="#e8e8e8" stroke-width="0.4" />
<path d="M215.40,200.00 L219.10,198.60 L226.50,198.20 L232.90,196.30 L236.20,196.80 L236.60,199.10 L232.90,200.90 L226.50,201.90 L221.90,203.70 L217.20,203.20 L215.40,201.90 Z" fill="#c6c6c6" stroke="none" stroke-width="1" stroke-linejoin="round" />
<path d="M223.80,172.20 L227.60,169.50 L230.70,169.10 L236.10,169.50 L238.40,172.90 L238.00,176.00 L236.10,179.10 L232.20,179.10 L228.40,177.50 L225.30,176.00 L223.80,174.50 Z" fill="#12a083" stroke="none" stroke-width="1" stroke-linejoin="round" />
<path d="M223.80,172.20 L226.50,170.50 L228.50,172.50 L229.00,176.50 L228.40,177.50 L225.30,176.00 L223.80,174.50 Z" fill="#1f84a0" stroke="none" stroke-width="1" stroke-linejoin="round" />
<path d="M210.7,183.7 L212.3,180.5 L213.8,177.5" fill="none" stroke="#e8e0a0" stroke-width="2.2" stroke-linecap="round" opacity="0.7"/>
<path d="M213.8,177.5 L216.5,174.5 L220.7,171.4" fill="none" stroke="#f2b458" stroke-width="3.6" stroke-linecap="round" opacity="0.85"/>
<path d="M216,174.5 L219.5,172" fill="none" stroke="#f6cc68" stroke-width="2.0" stroke-linecap="round"/>
<path d="M216.5,176 L219,180 L220,183" fill="none" stroke="#f4e0b0" stroke-width="2.0" stroke-linecap="round" opacity="0.6"/>
<path d="M211.30,171.40 L213.00,171.20 L213.20,173.00 L211.60,173.20 Z" fill="#b8ccd8" stroke="none" stroke-width="1" stroke-linejoin="round" opacity="0.7"/>
<path d="M224.50,176.80 L226.00,176.60 L226.20,179.50 L224.70,179.70 Z" fill="#e05a30" stroke="none" stroke-width="1" stroke-linejoin="round" />
<path d="M226.8,179.1 L228.4,181.4" fill="none" stroke="#1a7a50" stroke-width="1.2" />
<path d="M220.7,185.6 L223.5,186.2 L226,187.2" fill="none" stroke="#1f8a48" stroke-width="1.3" stroke-linecap="round"/>
<circle cx="224.50" cy="171.50" r="0.80" fill="#111" />
<circle cx="202.50" cy="190.80" r="0.70" fill="#c8c8c8" />
<circle cx="207.50" cy="180.00" r="0.40" fill="#c8c8c8" />
<rect x="198.50" y="166.30" width="42.70" height="40.00" fill="none" stroke="#1a1a1a" stroke-width="1.3"/>
<line x1="196.30" y1="168.20" x2="198.50" y2="168.20" stroke="#1a1a1a" stroke-width="1.1" />
<text x="193.80" y="169.90" font-size="4.7" fill="#3a3a3a" font-weight="normal" text-anchor="end" >10</text>
<line x1="196.30" y1="176.90" x2="198.50" y2="176.90" stroke="#1a1a1a" stroke-width="1.1" />
<text x="193.80" y="178.60" font-size="4.7" fill="#3a3a3a" font-weight="normal" text-anchor="end" >5</text>
<line x1="196.30" y1="186.00" x2="198.50" y2="186.00" stroke="#1a1a1a" stroke-width="1.1" />
<text x="193.80" y="187.70" font-size="4.7" fill="#3a3a3a" font-weight="normal" text-anchor="end" >0</text>
<line x1="196.30" y1="194.80" x2="198.50" y2="194.80" stroke="#1a1a1a" stroke-width="1.1" />
<text x="193.80" y="196.50" font-size="4.7" fill="#3a3a3a" font-weight="normal" text-anchor="end" >−5</text>
<line x1="196.30" y1="203.50" x2="198.50" y2="203.50" stroke="#1a1a1a" stroke-width="1.1" />
<text x="193.80" y="205.20" font-size="4.7" fill="#3a3a3a" font-weight="normal" text-anchor="end" >−10</text>
<text x="-7.00" y="0.00" font-size="5.18" fill="#4a4a4a" font-weight="normal" textLength="14.00" lengthAdjust="spacingAndGlyphs" transform="translate(180.9,187.2) rotate(-90)">UMAP2</text>
<line x1="200.60" y1="206.30" x2="200.60" y2="209.30" stroke="#1a1a1a" stroke-width="1.1" />
<text x="0.00" y="0.00" font-size="4.42" fill="#3a3a3a" font-weight="normal" text-anchor="end" transform="translate(201.20,212.90) rotate(-45)">−15</text>
<line x1="208.72" y1="206.30" x2="208.72" y2="209.30" stroke="#1a1a1a" stroke-width="1.1" />
<text x="0.00" y="0.00" font-size="4.42" fill="#3a3a3a" font-weight="normal" text-anchor="end" transform="translate(209.32,212.90) rotate(-45)">−10</text>
<line x1="216.84" y1="206.30" x2="216.84" y2="209.30" stroke="#1a1a1a" stroke-width="1.1" />
<text x="0.00" y="0.00" font-size="4.42" fill="#3a3a3a" font-weight="normal" text-anchor="end" transform="translate(217.44,212.90) rotate(-45)">−5</text>
<line x1="224.96" y1="206.30" x2="224.96" y2="209.30" stroke="#1a1a1a" stroke-width="1.1" />
<text x="0.00" y="0.00" font-size="4.42" fill="#3a3a3a" font-weight="normal" text-anchor="end" transform="translate(225.56,212.90) rotate(-45)">0</text>
<line x1="233.08" y1="206.30" x2="233.08" y2="209.30" stroke="#1a1a1a" stroke-width="1.1" />
<text x="0.00" y="0.00" font-size="4.42" fill="#3a3a3a" font-weight="normal" text-anchor="end" transform="translate(233.68,212.90) rotate(-45)">5</text>
<line x1="241.20" y1="206.30" x2="241.20" y2="209.30" stroke="#1a1a1a" stroke-width="1.1" />
<text x="0.00" y="0.00" font-size="4.42" fill="#3a3a3a" font-weight="normal" text-anchor="end" transform="translate(241.80,212.90) rotate(-45)">10</text>
<text x="211.90" y="228.60" font-size="5.47" fill="#4a4a4a" font-weight="normal" textLength="15.40" lengthAdjust="spacingAndGlyphs" >UMAP1</text>
<circle cx="246.00" cy="163.30" r="0.95" fill="#111" />
<text x="249.00" y="165.05" font-size="4.7" fill="#1e1e27" font-weight="normal" >EOBM</text>
<circle cx="246.00" cy="168.26" r="0.95" fill="#2a6a4a" />
<text x="249.00" y="170.01" font-size="4.7" fill="#2a4641" font-weight="normal" >ERP</text>
<circle cx="246.00" cy="173.22" r="0.95" fill="#e8b070" />
<text x="249.00" y="174.97" font-size="4.7" fill="#7f6652" font-weight="normal" >HSC</text>
<circle cx="246.00" cy="178.18" r="0.95" fill="#6a9ad0" />
<text x="249.00" y="179.93" font-size="4.7" fill="#465c7d" font-weight="normal" >iMKP</text>
<circle cx="246.00" cy="183.14" r="0.95" fill="#e0e060" />
<text x="249.00" y="184.89" font-size="4.7" fill="#7b7b4b" font-weight="normal" >iNeP</text>
<circle cx="246.00" cy="188.10" r="0.95" fill="#2a4a9a" />
<text x="249.00" y="189.85" font-size="4.7" fill="#2a3865" font-weight="normal" >LyP</text>
<circle cx="246.00" cy="193.06" r="0.95" fill="#d06040" />
<text x="249.00" y="194.81" font-size="4.7" fill="#74423c" font-weight="normal" >MKP</text>
<circle cx="246.00" cy="198.02" r="0.95" fill="#d08090" />
<text x="249.00" y="199.77" font-size="4.7" fill="#745060" font-weight="normal" >NeP</text>
<circle cx="246.00" cy="202.98" r="0.95" fill="#c8c8c8" />
<text x="249.00" y="204.73" font-size="4.7" fill="#717179" font-weight="normal" >Others</text>
<circle cx="246.00" cy="207.94" r="0.95" fill="#90c070" />
<text x="249.00" y="209.69" font-size="4.7" fill="#576d52" font-weight="normal" >Pro B-1</text>
<circle cx="246.00" cy="212.90" r="0.95" fill="#111" />
<text x="249.00" y="214.65" font-size="4.7" fill="#1e1e27" font-weight="normal" >Pro B-2</text>
<rect x="292.20" y="157.70" width="36.40" height="5.50" fill="#e0401b" />
<text x="310.40" y="162.60" font-size="5.66" fill="#5a1406" font-weight="normal" text-anchor="middle" >T/NK</text>
<rect x="287.20" y="166.40" width="46.40" height="40.00" fill="#fdfdfd" />
<rect x="288.70" y="167.90" width="43.40" height="22.50" fill="#f6f6f6" stroke="#cfcfcf" stroke-width="0.4"/>
<line x1="287.20" y1="170.00" x2="333.60" y2="170.00" stroke="#ececec" stroke-width="0.35" />
<line x1="287.20" y1="178.80" x2="333.60" y2="178.80" stroke="#ececec" stroke-width="0.35" />
<line x1="287.20" y1="187.60" x2="333.60" y2="187.60" stroke="#ececec" stroke-width="0.35" />
<line x1="287.20" y1="196.40" x2="333.60" y2="196.40" stroke="#ececec" stroke-width="0.35" />
<line x1="287.20" y1="205.20" x2="333.60" y2="205.20" stroke="#ececec" stroke-width="0.35" />
<line x1="288.70" y1="190.20" x2="332.10" y2="190.20" stroke="#b0b0b0" stroke-width="0.5" />
<line x1="289.00" y1="192.00" x2="306.00" y2="199.00" stroke="#c8c8c8" stroke-width="0.4" />
<defs><clipPath id="rt"><path d="M290.5,180 L293,177.7 L297.7,178 L303,179.3 L309.5,179 L316.4,176.5 L322,174.5 L327,172.8 L332,174.5 L332.1,178 L327,180.5 L322,183 L316.4,184.6 L311,185.5 L307,188.5 L301,188.5 L296.8,186 L291,184.6 Z"/></clipPath><clipPath id="rb"><path d="M305.5,199 L308,197.3 L312,198.5 L317,199 L321,197 L326,195.5 L329.5,194.8 L331,196.5 L329,199 L325,201 L320,202.5 L316,203.5 L312,204.2 L308,203 L305.5,201.5 Z"/></clipPath></defs>
<rect x="289.00" y="168.20" width="44.00" height="22.20" fill="#f4f8fb" />
<line x1="289.00" y1="190.50" x2="333.00" y2="190.50" stroke="#a8a8a8" stroke-width="0.6" />
<path d="M292,171.5 L300,171.2 L304,170.5 L308,171.3 L312,170 L316,171 L320,169.8 L324,170.6 L328,169.5 L332,170.5" fill="none" stroke="#b0a8b8" stroke-width="0.5" />
<line x1="289.90" y1="190.50" x2="304.60" y2="201.30" stroke="#c8c8c8" stroke-width="0.5" />
<rect x="290.00" y="170.00" width="7.50" height="20.00" fill="#e2d032" clip-path="url(#rt)"/>
<rect x="297.50" y="170.00" width="12.50" height="20.00" fill="#1a8a4e" clip-path="url(#rt)"/>
<rect x="310.00" y="170.00" width="6.50" height="20.00" fill="#e8922e" clip-path="url(#rt)"/>
<rect x="316.50" y="170.00" width="7.50" height="20.00" fill="#2a86c6" clip-path="url(#rt)"/>
<rect x="324.00" y="170.00" width="9.00" height="20.00" fill="#e25a2a" clip-path="url(#rt)"/>
<rect x="301.00" y="180.00" width="8.00" height="6.00" fill="#127040" clip-path="url(#rt)" opacity="0.5"/>
<rect x="305.00" y="193.00" width="4.50" height="13.00" fill="#e2d032" clip-path="url(#rb)"/>
<rect x="309.50" y="193.00" width="8.00" height="13.00" fill="#1a8a4e" clip-path="url(#rb)"/>
<rect x="317.50" y="193.00" width="4.00" height="13.00" fill="#e8922e" clip-path="url(#rb)"/>
<rect x="321.50" y="193.00" width="5.00" height="13.00" fill="#2a86c6" clip-path="url(#rb)"/>
<rect x="326.50" y="193.00" width="5.50" height="13.00" fill="#e25a2a" clip-path="url(#rb)"/>
<ellipse cx="318.3" cy="199.8" rx="14.7" ry="5.4" fill="none" stroke="#d89050" stroke-width="0.6"/>
<rect x="287.20" y="166.40" width="46.40" height="40.00" fill="none" stroke="#1a1a1a" stroke-width="1.3"/>
<line x1="289.30" y1="206.40" x2="289.30" y2="209.40" stroke="#1a1a1a" stroke-width="1.1" />
<text x="0.00" y="0.00" font-size="4.42" fill="#3a3a3a" font-weight="normal" text-anchor="end" transform="translate(289.90,213.00) rotate(-45)">−15</text>
<line x1="298.16" y1="206.40" x2="298.16" y2="209.40" stroke="#1a1a1a" stroke-width="1.1" />
<text x="0.00" y="0.00" font-size="4.42" fill="#3a3a3a" font-weight="normal" text-anchor="end" transform="translate(298.76,213.00) rotate(-45)">−10</text>
<line x1="307.02" y1="206.40" x2="307.02" y2="209.40" stroke="#1a1a1a" stroke-width="1.1" />
<text x="0.00" y="0.00" font-size="4.42" fill="#3a3a3a" font-weight="normal" text-anchor="end" transform="translate(307.62,213.00) rotate(-45)">−5</text>
<line x1="315.88" y1="206.40" x2="315.88" y2="209.40" stroke="#1a1a1a" stroke-width="1.1" />
<text x="0.00" y="0.00" font-size="4.42" fill="#3a3a3a" font-weight="normal" text-anchor="end" transform="translate(316.48,213.00) rotate(-45)">0</text>
<line x1="324.74" y1="206.40" x2="324.74" y2="209.40" stroke="#1a1a1a" stroke-width="1.1" />
<text x="0.00" y="0.00" font-size="4.42" fill="#3a3a3a" font-weight="normal" text-anchor="end" transform="translate(325.34,213.00) rotate(-45)">5</text>
<line x1="333.60" y1="206.40" x2="333.60" y2="209.40" stroke="#1a1a1a" stroke-width="1.1" />
<text x="0.00" y="0.00" font-size="4.42" fill="#3a3a3a" font-weight="normal" text-anchor="end" transform="translate(334.20,213.00) rotate(-45)">10</text>
<text x="301.90" y="228.60" font-size="5.47" fill="#4a4a4a" font-weight="normal" textLength="16.60" lengthAdjust="spacingAndGlyphs" >UMAP1</text>
<circle cx="336.80" cy="169.80" r="0.95" fill="#111" />
<text x="339.80" y="171.55" font-size="4.7" fill="#1e1e27" font-weight="normal" >CD4+ Naive</text>
<circle cx="336.80" cy="174.70" r="0.95" fill="#2a6a4a" />
<text x="339.80" y="176.45" font-size="4.7" fill="#2a4641" font-weight="normal" >CD4+ TCM</text>
<circle cx="336.80" cy="179.60" r="0.95" fill="#e8a040" />
<text x="339.80" y="181.35" font-size="4.7" fill="#7f5f3c" font-weight="normal" >CD8 GZMK+</text>
<circle cx="336.80" cy="184.50" r="0.95" fill="#4a90d0" />
<text x="339.80" y="186.25" font-size="4.7" fill="#38577d" font-weight="normal" >CD8 TEMRA</text>
<circle cx="336.80" cy="189.40" r="0.95" fill="#e8d040" />
<text x="339.80" y="191.15" font-size="4.7" fill="#7f743c" font-weight="normal" >CD8+ Naive</text>
<circle cx="336.80" cy="194.30" r="0.95" fill="#2a4a9a" />
<text x="339.80" y="196.05" font-size="4.7" fill="#2a3865" font-weight="normal" >gd T</text>
<circle cx="336.80" cy="199.20" r="0.95" fill="#d05030" />
<text x="339.80" y="200.95" font-size="4.7" fill="#743b35" font-weight="normal" >NK</text>
<circle cx="336.80" cy="204.10" r="0.95" fill="#c8c8c8" />
<text x="339.80" y="205.85" font-size="4.7" fill="#717179" font-weight="normal" >Others</text>
<rect x="204.00" y="233.60" width="34.70" height="5.60" fill="#4cbfb7" />
<text x="221.30" y="238.60" font-size="5.66" fill="#0c3a35" font-weight="normal" text-anchor="middle" >Myeloid</text>
<rect x="199.90" y="242.40" width="41.80" height="38.30" fill="#fcfcfc" />
<ellipse cx="211.8" cy="256.8" rx="4.6" ry="6.2" fill="none" stroke="#9a9a9a" stroke-width="0.5"/>
<rect x="218.00" y="245.00" width="16.50" height="34.00" fill="#f7f7f7" stroke="#c0c0c0" stroke-width="0.4"/>
<line x1="216.00" y1="253.00" x2="218.00" y2="245.00" stroke="#c0c0c0" stroke-width="0.3" />
<line x1="216.00" y1="261.00" x2="218.00" y2="279.00" stroke="#c0c0c0" stroke-width="0.3" />
<path d="M224.1,272.3 L225.6,264 L227.4,249 L227.6,252 L226.6,264 L225,272.5 Z" fill="#3f7a3a" stroke="none" stroke-width="1" />
<path d="M225.6,264 L227.2,256 L226.9,262 Z" fill="#e0d060" stroke="none" stroke-width="1" />
<path d="M227,258 L229,252 L228.6,257 Z" fill="#e0c050" stroke="none" stroke-width="1" />
<rect x="236.00" y="245.30" width="4.50" height="10.60" fill="#d8cdb8" />
<rect x="236.00" y="250.00" width="4.50" height="4.00" fill="#dcb058" />
<rect x="236.00" y="256.00" width="4.50" height="17.50" fill="#efefef" />
<path d="M211.3,261.2 L213.6,255.3 L214.6,255.9 L212.2,261.4 Z" fill="#2a3a2a" stroke="none" stroke-width="1" />
<circle cx="205.00" cy="255.00" r="0.40" fill="#aaa" />
<circle cx="204.00" cy="262.00" r="0.40" fill="#aaa" />
<rect x="199.90" y="242.40" width="41.80" height="38.30" fill="none" stroke="#1a1a1a" stroke-width="1.3"/>
<line x1="197.70" y1="243.70" x2="199.90" y2="243.70" stroke="#1a1a1a" stroke-width="1.1" />
<text x="195.60" y="245.40" font-size="4.7" fill="#3a3a3a" font-weight="normal" text-anchor="end" >10</text>
<line x1="197.70" y1="252.60" x2="199.90" y2="252.60" stroke="#1a1a1a" stroke-width="1.1" />
<text x="195.60" y="254.30" font-size="4.7" fill="#3a3a3a" font-weight="normal" text-anchor="end" >5</text>
<line x1="197.70" y1="261.50" x2="199.90" y2="261.50" stroke="#1a1a1a" stroke-width="1.1" />
<text x="195.60" y="263.20" font-size="4.7" fill="#3a3a3a" font-weight="normal" text-anchor="end" >0</text>
<line x1="197.70" y1="270.00" x2="199.90" y2="270.00" stroke="#1a1a1a" stroke-width="1.1" />
<text x="195.60" y="271.70" font-size="4.7" fill="#3a3a3a" font-weight="normal" text-anchor="end" >−5</text>
<line x1="197.70" y1="278.60" x2="199.90" y2="278.60" stroke="#1a1a1a" stroke-width="1.1" />
<text x="195.60" y="280.30" font-size="4.7" fill="#3a3a3a" font-weight="normal" text-anchor="end" >−10</text>
<text x="-7.00" y="0.00" font-size="5.18" fill="#4a4a4a" font-weight="normal" textLength="14.00" lengthAdjust="spacingAndGlyphs" transform="translate(182,262) rotate(-90)">UMAP2</text>
<line x1="202.00" y1="280.70" x2="202.00" y2="283.70" stroke="#1a1a1a" stroke-width="1.1" />
<text x="0.00" y="0.00" font-size="4.42" fill="#3a3a3a" font-weight="normal" text-anchor="end" transform="translate(202.60,287.30) rotate(-45)">−15</text>
<line x1="209.94" y1="280.70" x2="209.94" y2="283.70" stroke="#1a1a1a" stroke-width="1.1" />
<text x="0.00" y="0.00" font-size="4.42" fill="#3a3a3a" font-weight="normal" text-anchor="end" transform="translate(210.54,287.30) rotate(-45)">−10</text>
<line x1="217.88" y1="280.70" x2="217.88" y2="283.70" stroke="#1a1a1a" stroke-width="1.1" />
<text x="0.00" y="0.00" font-size="4.42" fill="#3a3a3a" font-weight="normal" text-anchor="end" transform="translate(218.48,287.30) rotate(-45)">−5</text>
<line x1="225.82" y1="280.70" x2="225.82" y2="283.70" stroke="#1a1a1a" stroke-width="1.1" />
<text x="0.00" y="0.00" font-size="4.42" fill="#3a3a3a" font-weight="normal" text-anchor="end" transform="translate(226.42,287.30) rotate(-45)">0</text>
<line x1="233.76" y1="280.70" x2="233.76" y2="283.70" stroke="#1a1a1a" stroke-width="1.1" />
<text x="0.00" y="0.00" font-size="4.42" fill="#3a3a3a" font-weight="normal" text-anchor="end" transform="translate(234.36,287.30) rotate(-45)">5</text>
<line x1="241.70" y1="280.70" x2="241.70" y2="283.70" stroke="#1a1a1a" stroke-width="1.1" />
<text x="0.00" y="0.00" font-size="4.42" fill="#3a3a3a" font-weight="normal" text-anchor="end" transform="translate(242.30,287.30) rotate(-45)">10</text>
<text x="214.30" y="303.40" font-size="5.47" fill="#4a4a4a" font-weight="normal" textLength="14.70" lengthAdjust="spacingAndGlyphs" >UMAP1</text>
<circle cx="247.40" cy="242.90" r="0.95" fill="#111" />
<text x="250.40" y="244.65" font-size="4.7" fill="#1e1e27" font-weight="normal" >C Mono</text>
<circle cx="247.40" cy="247.80" r="0.95" fill="#2a6a4a" />
<text x="250.40" y="249.55" font-size="4.7" fill="#2a4641" font-weight="normal" >cDC2</text>
<circle cx="247.40" cy="252.70" r="0.95" fill="#e8a070" />
<text x="250.40" y="254.45" font-size="4.7" fill="#7f5f52" font-weight="normal" >Erythroblasts</text>
<circle cx="247.40" cy="257.60" r="0.95" fill="#4aa0c0" />
<text x="250.40" y="259.35" font-size="4.7" fill="#385f76" font-weight="normal" >I Mono</text>
<circle cx="247.40" cy="262.50" r="0.95" fill="#c070c0" />
<text x="250.40" y="264.25" font-size="4.7" fill="#6d4976" font-weight="normal" >pDC</text>
<circle cx="247.40" cy="267.40" r="0.95" fill="#f0d080" />
<text x="250.40" y="269.15" font-size="4.7" fill="#837459" font-weight="normal" >Mo-MDSC</text>
<circle cx="247.40" cy="272.30" r="0.95" fill="#2a4a9a" />
<text x="250.40" y="274.05" font-size="4.7" fill="#2a3865" font-weight="normal" >Mono-T</text>
<circle cx="247.40" cy="277.20" r="0.95" fill="#e06030" />
<text x="250.40" y="278.95" font-size="4.7" fill="#7b4235" font-weight="normal" >Myelocyte</text>
<circle cx="247.40" cy="282.10" r="0.95" fill="#c8d8f0" />
<text x="250.40" y="283.85" font-size="4.7" fill="#71788b" font-weight="normal" >Others</text>
<rect x="293.20" y="233.30" width="34.40" height="6.30" fill="#f0872e" />
<text x="310.40" y="238.70" font-size="5.66" fill="#3e1c04" font-weight="normal" text-anchor="middle" >B cells</text>
<rect x="286.30" y="243.40" width="45.30" height="40.30" fill="#fdfdfd" />
<rect x="288.00" y="245.00" width="8.50" height="10.00" fill="#fbfbfb" stroke="#d0d0d0" stroke-width="0.4"/>
<rect x="297.00" y="244.80" width="13.00" height="11.00" fill="#fbfbfb" stroke="#d0d0d0" stroke-width="0.4"/>
<rect x="311.00" y="244.80" width="19.00" height="11.00" fill="#fbfbfb" stroke="#d0d0d0" stroke-width="0.4"/>
<path d="M289.5,250 L292,248 L293,252 L290.5,253 Z" fill="#f0a060" stroke="none" stroke-width="1" />
<path d="M299.4,250 L301.5,247.4 L304.5,247.2 L306.4,249.5 L305.5,252.5 L303,251.2 L300.5,252.5 Z" fill="#e0702e" stroke="none" stroke-width="1" />
<path d="M312.8,248 L315,245.6 L319,246.5 L322,245.4 L326,246 L329,248 L328.5,252 L329,255 L322,255.2 L316,255.4 L313,253.5 Z" fill="#b2b2b2" stroke="none" stroke-width="1" />
<rect x="298.40" y="257.80" width="27.00" height="23.50" fill="#fcfcfc" stroke="#c4c4c4" stroke-width="0.5"/>
<line x1="312.80" y1="271.70" x2="322.50" y2="260.20" stroke="#f0c890" stroke-width="0.7" />
<path d="M302.3,272.2 L308,271.8 L312.8,272 L313,273.4 L307,273.6 L302.5,273.3 Z" fill="#151515" stroke="none" stroke-width="1" />
<path d="M309,271 L313.5,270.8 L314.8,272.5 L314.5,274.6 L310,274.6 Z" fill="#2a8ab0" stroke="none" stroke-width="1" />
<path d="M309,274.6 L313.8,274.6 L313.8,277.6 L311,278.5 L309.2,277 Z" fill="#f0d040" stroke="none" stroke-width="1" />
<circle cx="304.70" cy="276.00" r="0.70" fill="#2a8a50" />
<line x1="288.50" y1="259.00" x2="297.00" y2="281.00" stroke="#dcdcdc" stroke-width="0.4" />
<circle cx="289.80" cy="266.90" r="0.60" fill="#666" />
<rect x="286.30" y="243.40" width="45.30" height="40.30" fill="none" stroke="#1a1a1a" stroke-width="1.3"/>
<line x1="288.40" y1="283.70" x2="288.40" y2="286.70" stroke="#1a1a1a" stroke-width="1.1" />
<text x="0.00" y="0.00" font-size="4.42" fill="#3a3a3a" font-weight="normal" text-anchor="end" transform="translate(289.00,290.30) rotate(-45)">−15</text>
<line x1="297.04" y1="283.70" x2="297.04" y2="286.70" stroke="#1a1a1a" stroke-width="1.1" />
<text x="0.00" y="0.00" font-size="4.42" fill="#3a3a3a" font-weight="normal" text-anchor="end" transform="translate(297.64,290.30) rotate(-45)">−10</text>
<line x1="305.68" y1="283.70" x2="305.68" y2="286.70" stroke="#1a1a1a" stroke-width="1.1" />
<text x="0.00" y="0.00" font-size="4.42" fill="#3a3a3a" font-weight="normal" text-anchor="end" transform="translate(306.28,290.30) rotate(-45)">−5</text>
<line x1="314.32" y1="283.70" x2="314.32" y2="286.70" stroke="#1a1a1a" stroke-width="1.1" />
<text x="0.00" y="0.00" font-size="4.42" fill="#3a3a3a" font-weight="normal" text-anchor="end" transform="translate(314.92,290.30) rotate(-45)">0</text>
<line x1="322.96" y1="283.70" x2="322.96" y2="286.70" stroke="#1a1a1a" stroke-width="1.1" />
<text x="0.00" y="0.00" font-size="4.42" fill="#3a3a3a" font-weight="normal" text-anchor="end" transform="translate(323.56,290.30) rotate(-45)">5</text>
<line x1="331.60" y1="283.70" x2="331.60" y2="286.70" stroke="#1a1a1a" stroke-width="1.1" />
<text x="0.00" y="0.00" font-size="4.42" fill="#3a3a3a" font-weight="normal" text-anchor="end" transform="translate(332.20,290.30) rotate(-45)">10</text>
<text x="300.90" y="305.20" font-size="5.47" fill="#4a4a4a" font-weight="normal" textLength="14.70" lengthAdjust="spacingAndGlyphs" >UMAP1</text>
<circle cx="336.80" cy="246.90" r="0.95" fill="#111" />
<text x="339.80" y="248.65" font-size="4.7" fill="#1e1e27" font-weight="normal" >Activated B</text>
<circle cx="336.80" cy="251.73" r="0.95" fill="#2a6a4a" />
<text x="339.80" y="253.48" font-size="4.7" fill="#2a4641" font-weight="normal" >BT cells</text>
<circle cx="336.80" cy="256.56" r="0.95" fill="#e8a040" />
<text x="339.80" y="258.31" font-size="4.7" fill="#7f5f3c" font-weight="normal" >Immature B</text>
<circle cx="336.80" cy="261.39" r="0.95" fill="#4a90d0" />
<text x="339.80" y="263.14" font-size="4.7" fill="#38577d" font-weight="normal" >Mature B</text>
<circle cx="336.80" cy="266.22" r="0.95" fill="#e8d040" />
<text x="339.80" y="267.97" font-size="4.7" fill="#7f743c" font-weight="normal" >Memory B</text>
<circle cx="336.80" cy="271.05" r="0.95" fill="#b8d0f0" />
<text x="339.80" y="272.80" font-size="4.7" fill="#69748b" font-weight="normal" >Others</text>
<circle cx="336.80" cy="275.88" r="0.95" fill="#1a2a3a" />
<text x="339.80" y="277.63" font-size="4.7" fill="#222a3a" font-weight="normal" >Plasma cell</text>
<circle cx="336.80" cy="280.71" r="0.95" fill="#d06040" />
<text x="339.80" y="282.46" font-size="4.7" fill="#74423c" font-weight="normal" >Pre-B</text>
<text x="377.50" y="161.90" font-size="11.04" fill="#111" font-weight="bold" stroke="#111" stroke-width="0.45" textLength="8.80" lengthAdjust="spacingAndGlyphs" >C</text>
<circle cx="432.20" cy="174.60" r="1.45" fill="#1f2e30" />
<text x="435.70" y="176.60" font-size="6.43" fill="#333" font-weight="normal" stroke="#333" stroke-width="0.16" textLength="20.70" lengthAdjust="spacingAndGlyphs" >Control</text>
<circle cx="462.50" cy="174.60" r="1.45" fill="#e04850" />
<text x="465.90" y="176.60" font-size="6.43" fill="#333" font-weight="normal" stroke="#333" stroke-width="0.16" textLength="13.50" lengthAdjust="spacingAndGlyphs" >CML</text>
<line x1="414.80" y1="181.60" x2="414.80" y2="269.40" stroke="#e4e4e4" stroke-width="0.6" />
<line x1="432.40" y1="181.60" x2="432.40" y2="269.40" stroke="#e4e4e4" stroke-width="0.6" />
<line x1="450.00" y1="181.60" x2="450.00" y2="269.40" stroke="#e4e4e4" stroke-width="0.6" />
<line x1="467.60" y1="181.60" x2="467.60" y2="269.40" stroke="#e4e4e4" stroke-width="0.6" />
<line x1="485.20" y1="181.60" x2="485.20" y2="269.40" stroke="#e4e4e4" stroke-width="0.6" />
<line x1="502.80" y1="181.60" x2="502.80" y2="269.40" stroke="#e4e4e4" stroke-width="0.6" />
<line x1="408.60" y1="184.10" x2="503.00" y2="184.10" stroke="#e4e4e4" stroke-width="0.6" />
<line x1="408.60" y1="203.95" x2="503.00" y2="203.95" stroke="#e4e4e4" stroke-width="0.6" />
<line x1="408.60" y1="223.80" x2="503.00" y2="223.80" stroke="#e4e4e4" stroke-width="0.6" />
<line x1="408.60" y1="243.65" x2="503.00" y2="243.65" stroke="#e4e4e4" stroke-width="0.6" />
<line x1="408.60" y1="263.50" x2="503.00" y2="263.50" stroke="#e4e4e4" stroke-width="0.6" />
<line x1="423.60" y1="181.60" x2="423.60" y2="269.40" stroke="#f0f0f0" stroke-width="0.5" />
<line x1="441.20" y1="181.60" x2="441.20" y2="269.40" stroke="#f0f0f0" stroke-width="0.5" />
<line x1="458.80" y1="181.60" x2="458.80" y2="269.40" stroke="#f0f0f0" stroke-width="0.5" />
<line x1="476.40" y1="181.60" x2="476.40" y2="269.40" stroke="#f0f0f0" stroke-width="0.5" />
<line x1="494.00" y1="181.60" x2="494.00" y2="269.40" stroke="#f0f0f0" stroke-width="0.5" />
<line x1="408.60" y1="194.03" x2="503.00" y2="194.03" stroke="#f0f0f0" stroke-width="0.5" />
<line x1="408.60" y1="213.88" x2="503.00" y2="213.88" stroke="#f0f0f0" stroke-width="0.5" />
<line x1="408.60" y1="233.73" x2="503.00" y2="233.73" stroke="#f0f0f0" stroke-width="0.5" />
<line x1="408.60" y1="253.57" x2="503.00" y2="253.57" stroke="#f0f0f0" stroke-width="0.5" />
<path d="M474.90,184.70 L478.10,186.50 L482.70,188.40 L490.10,185.60 L492.90,186.50 L495.60,191.20 L498.40,195.80 L497.90,199.50 L496.60,203.20 L496.60,208.70 L491.90,209.60 L485.50,207.80 L479.00,206.90 L475.30,205.00 L473.50,201.30 L473.00,195.80 L474.40,191.20 L473.90,186.50 Z" fill="#e24a52" stroke="#e24a52" stroke-width="0.4" stroke-linejoin="round"/>
<path d="M464.20,190.20 L467.90,189.30 L470.70,193.00 L472.50,199.50 L473.50,205.00 L476.20,210.50 L477.20,214.20 L474.90,214.70 L472.10,210.50 L469.80,208.70 L467.00,209.60 L465.60,205.00 L465.20,197.60 Z" fill="#e24a52" stroke="#e24a52" stroke-width="0.4" stroke-linejoin="round"/>
<path d="M443.80,203.60 L448.50,198.90 L453.30,196.50 L458.10,195.30 L462.00,193.50 L465.00,195.00 L460.40,198.90 L456.90,204.80 L456.90,212.00 L455.70,213.20 L455.10,207.20 L448.50,206.00 L443.80,208.40 Z" fill="#e24a52" stroke="#e24a52" stroke-width="0.4" stroke-linejoin="round"/>
<path d="M436.60,189.90 L439.50,190.50 L442.00,193.50 L441.00,195.30 L438.50,194.00 Z" fill="#e24a52" stroke="#e24a52" stroke-width="0.4" stroke-linejoin="round"/>
<path d="M455.90,221.60 L460.50,222.60 L466.10,223.50 L468.90,225.30 L467.90,227.20 L463.30,226.20 L458.70,225.30 L456.40,223.90 Z" fill="#e24a52" stroke="#e24a52" stroke-width="0.4" stroke-linejoin="round"/>
<path d="M412.40,200.50 L414.20,198.50 L416.50,202.50 L416.00,205.50 L413.00,204.50 Z" fill="#e24a52" stroke="#e24a52" stroke-width="0.4" stroke-linejoin="round"/>
<path d="M416.20,206.00 L416.90,205.80 L418.10,212.50 L417.40,212.70 Z" fill="#e24a52" stroke="#e24a52" stroke-width="0.4" stroke-linejoin="round"/>
<path d="M462.50,186.80 L465.00,186.20 L467.00,188.50 L463.50,189.60 Z" fill="#e24a52" stroke="#e24a52" stroke-width="0.4" stroke-linejoin="round"/>
<path d="M445.50,257.50 L450.20,251.40 L456.90,252.80 L465.00,254.10 L470.40,253.50 L475.80,250.80 L483.80,248.10 L489.20,246.70 L493.30,249.40 L491.90,253.50 L486.50,257.50 L478.50,259.50 L470.40,260.20 L466.30,262.90 L462.30,265.60 L455.60,264.90 L451.50,262.20 L447.50,260.20 Z" fill="#e24a52" stroke="#e24a52" stroke-width="0.4" stroke-linejoin="round"/>
<path d="M453.50,261.80 L460.00,262.50 L467.50,262.20 L466.30,263.60 L462.30,265.80 L455.60,265.10 L452.50,263.20 Z" fill="#1f3a3c" stroke="#1f3a3c" stroke-width="0.4" stroke-linejoin="round"/>
<path d="M445.30,257.20 L447.20,256.20 L448.00,258.80 L446.20,258.80 Z" fill="#1f3a3c" stroke="#1f3a3c" stroke-width="0.4" stroke-linejoin="round"/>
<path d="M488.50,247.30 L490.30,246.60 L493.40,249.30 L492.60,251.20 L490.50,249.50 Z" fill="#5a3a40" stroke="#5a3a40" stroke-width="0.4" stroke-linejoin="round"/>
<path d="M447.30,196.50 L450.30,192.20 L453.30,188.20 L455.10,188.70 L458.10,192.30 L461.60,192.90 L464.50,193.20 L461.00,193.90 L455.70,194.10 L450.90,198.90 L447.90,200.70 Z" fill="#1f3a3c" stroke="#1f3a3c" stroke-width="0.4" stroke-linejoin="round"/>
<path d="M426.50,206.00 L430.60,202.50 L436.60,203.00 L440.20,204.80 L442.60,206.60 L439.00,208.40 L436.00,206.00 L430.60,204.20 L427.10,206.30 Z" fill="#1f3a3c" stroke="#1f3a3c" stroke-width="0.4" stroke-linejoin="round"/>
<path d="M440.20,208.40 L442.60,206.60 L443.80,209.60 L441.40,216.80 L437.80,223.90 L434.20,229.90 L433.00,228.70 L436.00,221.50 L438.40,214.40 Z" fill="#1f3a3c" stroke="#1f3a3c" stroke-width="0.4" stroke-linejoin="round"/>
<path d="M445.50,199.50 L447.90,200.70 L444.50,204.50 L442.60,206.60 L441.50,204.50 Z" fill="#1f3a3c" stroke="#1f3a3c" stroke-width="0.4" stroke-linejoin="round"/>
<path d="M414.60,230.80 L417.20,229.60 L419.20,231.50 L419.00,234.40 L416.20,234.80 L414.40,233.00 Z" fill="#1f3a3c" stroke="#1f3a3c" stroke-width="0.4" stroke-linejoin="round"/>
<path d="M421.30,222.50 L422.10,222.90 L418.60,230.80 L417.80,230.40 Z" fill="#1f3a3c" stroke="#1f3a3c" stroke-width="0.4" stroke-linejoin="round"/>
<circle cx="481.81" cy="197.71" r="0.45" fill="#9a3a42" opacity="0.45"/>
<circle cx="483.92" cy="198.66" r="0.45" fill="#9a3a42" opacity="0.45"/>
<circle cx="488.01" cy="190.05" r="0.45" fill="#9a3a42" opacity="0.45"/>
<circle cx="478.21" cy="202.40" r="0.45" fill="#9a3a42" opacity="0.45"/>
<circle cx="482.15" cy="192.75" r="0.45" fill="#9a3a42" opacity="0.45"/>
<circle cx="493.93" cy="196.52" r="0.45" fill="#9a3a42" opacity="0.45"/>
<circle cx="491.38" cy="196.62" r="0.45" fill="#9a3a42" opacity="0.45"/>
<circle cx="488.23" cy="191.41" r="0.45" fill="#9a3a42" opacity="0.45"/>
<circle cx="488.16" cy="202.89" r="0.45" fill="#9a3a42" opacity="0.45"/>
<circle cx="486.37" cy="200.86" r="0.45" fill="#9a3a42" opacity="0.45"/>
<circle cx="488.74" cy="190.02" r="0.45" fill="#9a3a42" opacity="0.45"/>
<circle cx="490.13" cy="198.46" r="0.45" fill="#9a3a42" opacity="0.45"/>
<circle cx="482.82" cy="189.50" r="0.45" fill="#9a3a42" opacity="0.45"/>
<circle cx="491.85" cy="196.56" r="0.45" fill="#9a3a42" opacity="0.45"/>
<circle cx="489.50" cy="203.06" r="0.45" fill="#9a3a42" opacity="0.45"/>
<circle cx="489.43" cy="203.74" r="0.45" fill="#9a3a42" opacity="0.45"/>
<circle cx="484.32" cy="201.81" r="0.45" fill="#9a3a42" opacity="0.45"/>
<circle cx="485.11" cy="203.97" r="0.45" fill="#9a3a42" opacity="0.45"/>
<circle cx="492.06" cy="190.56" r="0.45" fill="#9a3a42" opacity="0.45"/>
<circle cx="480.18" cy="192.47" r="0.45" fill="#9a3a42" opacity="0.45"/>
<circle cx="493.45" cy="195.98" r="0.45" fill="#9a3a42" opacity="0.45"/>
<circle cx="488.03" cy="193.82" r="0.45" fill="#9a3a42" opacity="0.45"/>
<circle cx="486.12" cy="195.17" r="0.45" fill="#9a3a42" opacity="0.45"/>
<circle cx="483.61" cy="198.36" r="0.45" fill="#9a3a42" opacity="0.45"/>
<circle cx="487.35" cy="203.47" r="0.45" fill="#9a3a42" opacity="0.45"/>
<circle cx="488.91" cy="203.86" r="0.45" fill="#9a3a42" opacity="0.45"/>
<circle cx="491.70" cy="204.86" r="0.45" fill="#9a3a42" opacity="0.45"/>
<circle cx="488.74" cy="191.61" r="0.45" fill="#9a3a42" opacity="0.45"/>
<circle cx="491.77" cy="204.43" r="0.45" fill="#9a3a42" opacity="0.45"/>
<circle cx="492.48" cy="198.11" r="0.45" fill="#9a3a42" opacity="0.45"/>
<rect x="408.60" y="181.60" width="94.40" height="87.80" fill="none" stroke="#1a1a1a" stroke-width="1.4"/>
<line x1="405.40" y1="184.10" x2="408.60" y2="184.10" stroke="#222" stroke-width="1.0" />
<text x="403.00" y="186.40" font-size="6.34" fill="#333" font-weight="normal" stroke="#333" stroke-width="0.16" text-anchor="end" >10</text>
<line x1="405.40" y1="203.95" x2="408.60" y2="203.95" stroke="#222" stroke-width="1.0" />
<text x="403.00" y="206.25" font-size="6.34" fill="#333" font-weight="normal" stroke="#333" stroke-width="0.16" text-anchor="end" >5</text>
<line x1="405.40" y1="223.80" x2="408.60" y2="223.80" stroke="#222" stroke-width="1.0" />
<text x="403.00" y="226.10" font-size="6.34" fill="#333" font-weight="normal" stroke="#333" stroke-width="0.16" text-anchor="end" >0</text>
<line x1="405.40" y1="243.65" x2="408.60" y2="243.65" stroke="#222" stroke-width="1.0" />
<text x="403.00" y="245.95" font-size="6.34" fill="#333" font-weight="normal" stroke="#333" stroke-width="0.16" text-anchor="end" >−5</text>
<line x1="405.40" y1="263.50" x2="408.60" y2="263.50" stroke="#222" stroke-width="1.0" />
<text x="403.00" y="265.80" font-size="6.34" fill="#333" font-weight="normal" stroke="#333" stroke-width="0.16" text-anchor="end" >−10</text>
<line x1="414.80" y1="269.40" x2="414.80" y2="272.20" stroke="#222" stroke-width="1.0" />
<text x="414.80" y="282.20" font-size="6.34" fill="#333" font-weight="normal" stroke="#333" stroke-width="0.16" text-anchor="middle" >−15</text>
<line x1="432.40" y1="269.40" x2="432.40" y2="272.20" stroke="#222" stroke-width="1.0" />
<text x="432.40" y="282.20" font-size="6.34" fill="#333" font-weight="normal" stroke="#333" stroke-width="0.16" text-anchor="middle" >−10</text>
<line x1="450.00" y1="269.40" x2="450.00" y2="272.20" stroke="#222" stroke-width="1.0" />
<text x="450.00" y="282.20" font-size="6.34" fill="#333" font-weight="normal" stroke="#333" stroke-width="0.16" text-anchor="middle" >−5</text>
<line x1="467.60" y1="269.40" x2="467.60" y2="272.20" stroke="#222" stroke-width="1.0" />
<text x="467.60" y="282.20" font-size="6.34" fill="#333" font-weight="normal" stroke="#333" stroke-width="0.16" text-anchor="middle" >0</text>
<line x1="485.20" y1="269.40" x2="485.20" y2="272.20" stroke="#222" stroke-width="1.0" />
<text x="485.20" y="282.20" font-size="6.34" fill="#333" font-weight="normal" stroke="#333" stroke-width="0.16" text-anchor="middle" >5</text>
<line x1="502.80" y1="269.40" x2="502.80" y2="272.20" stroke="#222" stroke-width="1.0" />
<text x="502.80" y="282.20" font-size="6.34" fill="#333" font-weight="normal" stroke="#333" stroke-width="0.16" text-anchor="middle" >10</text>
<text x="443.40" y="295.30" font-size="8.64" fill="#333" font-weight="normal" stroke="#333" stroke-width="0.22" textLength="23.80" lengthAdjust="spacingAndGlyphs" >UMAP1</text>
<text x="-12.00" y="0.00" font-size="8.64" fill="#333" font-weight="normal" stroke="#333" stroke-width="0.22" textLength="24.00" lengthAdjust="spacingAndGlyphs" transform="translate(385.4,225.4) rotate(-90)">UMAP2</text>
<text x="7.70" y="325.20" font-size="11.04" fill="#111" font-weight="bold" stroke="#111" stroke-width="0.45" textLength="8.60" lengthAdjust="spacingAndGlyphs" >D</text>
<rect x="95.80" y="314.40" width="35.70" height="5.40" fill="#1ba84b" />
<text x="113.60" y="319.10" font-size="5.57" fill="#0f4a22" font-weight="normal" text-anchor="middle" >HSPC</text>
<line x1="38.70" y1="331.40" x2="38.70" y2="433.40" stroke="#222" stroke-width="1.3" />
<line x1="35.30" y1="432.80" x2="38.70" y2="432.80" stroke="#222" stroke-width="1.0" />
<text x="33.60" y="435.10" font-size="6.43" fill="#3a3a3a" font-weight="normal" stroke="#3a3a3a" stroke-width="0.16" text-anchor="end" >0</text>
<line x1="35.30" y1="412.92" x2="38.70" y2="412.92" stroke="#222" stroke-width="1.0" />
<text x="33.60" y="415.22" font-size="6.43" fill="#3a3a3a" font-weight="normal" stroke="#3a3a3a" stroke-width="0.16" text-anchor="end" >20</text>
<line x1="35.30" y1="393.04" x2="38.70" y2="393.04" stroke="#222" stroke-width="1.0" />
<text x="33.60" y="395.34" font-size="6.43" fill="#3a3a3a" font-weight="normal" stroke="#3a3a3a" stroke-width="0.16" text-anchor="end" >40</text>
<line x1="35.30" y1="373.16" x2="38.70" y2="373.16" stroke="#222" stroke-width="1.0" />
<text x="33.60" y="375.46" font-size="6.43" fill="#3a3a3a" font-weight="normal" stroke="#3a3a3a" stroke-width="0.16" text-anchor="end" >60</text>
<line x1="35.30" y1="353.28" x2="38.70" y2="353.28" stroke="#222" stroke-width="1.0" />
<text x="33.60" y="355.58" font-size="6.43" fill="#3a3a3a" font-weight="normal" stroke="#3a3a3a" stroke-width="0.16" text-anchor="end" >80</text>
<line x1="35.30" y1="333.40" x2="38.70" y2="333.40" stroke="#222" stroke-width="1.0" />
<text x="33.60" y="335.70" font-size="6.43" fill="#3a3a3a" font-weight="normal" stroke="#3a3a3a" stroke-width="0.16" text-anchor="end" >100</text>
<text x="-11.70" y="0.00" font-size="9.22" fill="#333" font-weight="normal" stroke="#333" stroke-width="0.23" textLength="23.40" lengthAdjust="spacingAndGlyphs" transform="translate(15.7,381.8) rotate(-90)">Percent</text>
<line x1="38.70" y1="433.10" x2="189.00" y2="433.10" stroke="#222" stroke-width="1.2" />
<line x1="47.30" y1="433.10" x2="47.30" y2="436.20" stroke="#222" stroke-width="1.0" />
<rect x="41.40" y="400.00" width="4.40" height="32.80" fill="#193c42" />
<rect x="49.15" y="429.07" width="3.90" height="3.73" fill="#efc0c2" stroke="#b8384a" stroke-width="0.5"/>
<circle cx="50.99" cy="430.07" r="0.45" fill="#fbe8ea" opacity="0.85"/>
<line x1="43.60" y1="400.00" x2="43.60" y2="393.04" stroke="#222" stroke-width="1.1" />
<line x1="42.30" y1="393.04" x2="44.90" y2="393.04" stroke="#222" stroke-width="1.1" />
<line x1="51.10" y1="428.82" x2="51.10" y2="416.90" stroke="#333" stroke-width="1.1" />
<line x1="49.80" y1="416.90" x2="52.40" y2="416.90" stroke="#333" stroke-width="1.1" />
<circle cx="43.53" cy="399.45" r="0.70" fill="#9ab4b6" opacity="0.85"/>
<circle cx="43.77" cy="414.48" r="0.70" fill="#9ab4b6" opacity="0.85"/>
<circle cx="43.62" cy="426.14" r="0.70" fill="#9ab4b6" opacity="0.85"/>
<circle cx="44.19" cy="410.07" r="0.70" fill="#9ab4b6" opacity="0.85"/>
<circle cx="50.63" cy="430.85" r="0.75" fill="#c4c4c4" opacity="0.9"/>
<circle cx="51.84" cy="430.93" r="0.75" fill="#c4c4c4" opacity="0.9"/>
<circle cx="50.00" cy="418.46" r="0.75" fill="#c4c4c4" opacity="0.9"/>
<circle cx="52.22" cy="412.49" r="0.75" fill="#c4c4c4" opacity="0.9"/>
<circle cx="51.38" cy="419.28" r="0.75" fill="#c4c4c4" opacity="0.9"/>
<circle cx="49.94" cy="429.54" r="0.75" fill="#c4c4c4" opacity="0.9"/>
<circle cx="50.04" cy="421.88" r="0.75" fill="#c4c4c4" opacity="0.9"/>
<text x="0.00" y="0.00" font-size="7.01" fill="#333" font-weight="normal" stroke="#333" stroke-width="0.18" text-anchor="end" transform="translate(52.00,444.70) rotate(-45)">HSC</text>
<line x1="61.95" y1="433.10" x2="61.95" y2="436.20" stroke="#222" stroke-width="1.0" />
<rect x="56.05" y="418.88" width="4.40" height="13.92" fill="#193c42" />
<rect x="63.80" y="419.13" width="3.90" height="13.67" fill="#e6a4a8" stroke="#b8384a" stroke-width="0.5"/>
<circle cx="65.01" cy="419.88" r="0.45" fill="#fbe8ea" opacity="0.85"/>
<circle cx="64.62" cy="422.26" r="0.45" fill="#fbe8ea" opacity="0.85"/>
<circle cx="65.61" cy="424.76" r="0.45" fill="#fbe8ea" opacity="0.85"/>
<circle cx="65.80" cy="426.80" r="0.45" fill="#fbe8ea" opacity="0.85"/>
<circle cx="65.75" cy="429.01" r="0.45" fill="#fbe8ea" opacity="0.85"/>
<circle cx="65.65" cy="430.91" r="0.45" fill="#fbe8ea" opacity="0.85"/>
<line x1="58.25" y1="418.88" x2="58.25" y2="415.90" stroke="#222" stroke-width="1.1" />
<line x1="56.95" y1="415.90" x2="59.55" y2="415.90" stroke="#222" stroke-width="1.1" />
<line x1="65.75" y1="418.88" x2="65.75" y2="409.94" stroke="#333" stroke-width="1.1" />
<line x1="64.45" y1="409.94" x2="67.05" y2="409.94" stroke="#333" stroke-width="1.1" />
<circle cx="59.24" cy="417.53" r="0.70" fill="#9ab4b6" opacity="0.85"/>
<circle cx="58.67" cy="419.94" r="0.70" fill="#9ab4b6" opacity="0.85"/>
<circle cx="57.71" cy="427.97" r="0.70" fill="#9ab4b6" opacity="0.85"/>
<circle cx="57.39" cy="428.38" r="0.70" fill="#9ab4b6" opacity="0.85"/>
<circle cx="65.51" cy="410.03" r="0.75" fill="#c4c4c4" opacity="0.9"/>
<circle cx="65.48" cy="407.64" r="0.75" fill="#c4c4c4" opacity="0.9"/>
<circle cx="66.58" cy="404.33" r="0.75" fill="#c4c4c4" opacity="0.9"/>
<circle cx="65.05" cy="432.78" r="0.75" fill="#c4c4c4" opacity="0.9"/>
<circle cx="65.68" cy="405.75" r="0.75" fill="#c4c4c4" opacity="0.9"/>
<circle cx="65.50" cy="403.66" r="0.75" fill="#c4c4c4" opacity="0.9"/>
<circle cx="66.06" cy="430.63" r="0.75" fill="#c4c4c4" opacity="0.9"/>
<text x="0.00" y="0.00" font-size="7.01" fill="#333" font-weight="normal" stroke="#333" stroke-width="0.18" text-anchor="end" transform="translate(66.65,444.70) rotate(-45)">iMKP</text>
<line x1="76.60" y1="433.10" x2="76.60" y2="436.20" stroke="#222" stroke-width="1.0" />
<rect x="70.70" y="431.81" width="4.40" height="0.99" fill="#193c42" />
<rect x="78.45" y="428.08" width="3.90" height="4.72" fill="#efc4c6" stroke="#b8384a" stroke-width="0.5"/>
<circle cx="81.07" cy="428.85" r="0.45" fill="#fbe8ea" opacity="0.85"/>
<circle cx="79.41" cy="431.10" r="0.45" fill="#fbe8ea" opacity="0.85"/>
<line x1="72.90" y1="431.81" x2="72.90" y2="431.31" stroke="#222" stroke-width="1.1" />
<line x1="71.60" y1="431.31" x2="74.20" y2="431.31" stroke="#222" stroke-width="1.1" />
<line x1="80.40" y1="427.83" x2="80.40" y2="422.86" stroke="#333" stroke-width="1.1" />
<line x1="79.10" y1="422.86" x2="81.70" y2="422.86" stroke="#333" stroke-width="1.1" />
<circle cx="73.42" cy="431.75" r="0.70" fill="#9ab4b6" opacity="0.85"/>
<circle cx="72.39" cy="432.67" r="0.70" fill="#9ab4b6" opacity="0.85"/>
<circle cx="72.02" cy="432.69" r="0.70" fill="#9ab4b6" opacity="0.85"/>
<circle cx="72.26" cy="431.93" r="0.70" fill="#9ab4b6" opacity="0.85"/>
<circle cx="80.27" cy="425.57" r="0.75" fill="#c4c4c4" opacity="0.9"/>
<circle cx="80.96" cy="430.34" r="0.75" fill="#c4c4c4" opacity="0.9"/>
<circle cx="80.74" cy="431.11" r="0.75" fill="#c4c4c4" opacity="0.9"/>
<circle cx="80.21" cy="431.29" r="0.75" fill="#c4c4c4" opacity="0.9"/>
<circle cx="79.85" cy="430.05" r="0.75" fill="#c4c4c4" opacity="0.9"/>
<circle cx="81.13" cy="420.25" r="0.75" fill="#c4c4c4" opacity="0.9"/>
<circle cx="81.32" cy="428.87" r="0.75" fill="#c4c4c4" opacity="0.9"/>
<text x="0.00" y="0.00" font-size="7.01" fill="#333" font-weight="normal" stroke="#333" stroke-width="0.18" text-anchor="end" transform="translate(81.30,444.70) rotate(-45)">MKP</text>
<line x1="91.25" y1="433.10" x2="91.25" y2="436.20" stroke="#222" stroke-width="1.0" />
<rect x="85.35" y="419.88" width="4.40" height="12.92" fill="#193c42" />
<rect x="93.10" y="377.39" width="3.90" height="55.41" fill="#dc525c" stroke="#b8384a" stroke-width="0.5"/>
<circle cx="94.36" cy="378.25" r="0.45" fill="#fbe8ea" opacity="0.85"/>
<circle cx="95.90" cy="380.65" r="0.45" fill="#fbe8ea" opacity="0.85"/>
<circle cx="94.09" cy="383.13" r="0.45" fill="#fbe8ea" opacity="0.85"/>
<circle cx="94.36" cy="384.74" r="0.45" fill="#fbe8ea" opacity="0.85"/>
<circle cx="95.70" cy="387.00" r="0.45" fill="#fbe8ea" opacity="0.85"/>
<circle cx="94.56" cy="388.99" r="0.45" fill="#fbe8ea" opacity="0.85"/>
<circle cx="94.07" cy="391.60" r="0.45" fill="#fbe8ea" opacity="0.85"/>
<circle cx="94.43" cy="393.82" r="0.45" fill="#fbe8ea" opacity="0.85"/>
<circle cx="94.74" cy="395.90" r="0.45" fill="#fbe8ea" opacity="0.85"/>
<circle cx="96.15" cy="398.12" r="0.45" fill="#fbe8ea" opacity="0.85"/>
<circle cx="95.23" cy="400.63" r="0.45" fill="#fbe8ea" opacity="0.85"/>
<circle cx="94.29" cy="402.26" r="0.45" fill="#fbe8ea" opacity="0.85"/>
<circle cx="96.03" cy="404.99" r="0.45" fill="#fbe8ea" opacity="0.85"/>
<circle cx="94.45" cy="406.69" r="0.45" fill="#fbe8ea" opacity="0.85"/>
<circle cx="95.62" cy="409.49" r="0.45" fill="#fbe8ea" opacity="0.85"/>
<circle cx="94.32" cy="411.70" r="0.45" fill="#fbe8ea" opacity="0.85"/>
<circle cx="95.97" cy="413.62" r="0.45" fill="#fbe8ea" opacity="0.85"/>
<circle cx="94.86" cy="415.42" r="0.45" fill="#fbe8ea" opacity="0.85"/>
<circle cx="93.94" cy="418.31" r="0.45" fill="#fbe8ea" opacity="0.85"/>
<circle cx="94.42" cy="420.30" r="0.45" fill="#fbe8ea" opacity="0.85"/>
<circle cx="94.47" cy="422.59" r="0.45" fill="#fbe8ea" opacity="0.85"/>
<circle cx="95.28" cy="424.37" r="0.45" fill="#fbe8ea" opacity="0.85"/>
<circle cx="94.27" cy="426.91" r="0.45" fill="#fbe8ea" opacity="0.85"/>
<circle cx="94.02" cy="428.72" r="0.45" fill="#fbe8ea" opacity="0.85"/>
<circle cx="95.19" cy="431.42" r="0.45" fill="#fbe8ea" opacity="0.85"/>
<line x1="87.55" y1="419.88" x2="87.55" y2="415.90" stroke="#222" stroke-width="1.1" />
<line x1="86.25" y1="415.90" x2="88.85" y2="415.90" stroke="#222" stroke-width="1.1" />
<line x1="95.05" y1="377.14" x2="95.05" y2="361.23" stroke="#333" stroke-width="1.1" />
<line x1="93.75" y1="361.23" x2="96.35" y2="361.23" stroke="#333" stroke-width="1.1" />
<circle cx="87.11" cy="424.07" r="0.70" fill="#9ab4b6" opacity="0.85"/>
<circle cx="86.96" cy="419.76" r="0.70" fill="#9ab4b6" opacity="0.85"/>
<circle cx="87.09" cy="432.56" r="0.70" fill="#9ab4b6" opacity="0.85"/>
<circle cx="86.67" cy="426.46" r="0.70" fill="#9ab4b6" opacity="0.85"/>
<circle cx="94.74" cy="416.40" r="0.75" fill="#c4c4c4" opacity="0.9"/>
<circle cx="94.17" cy="379.57" r="0.75" fill="#c4c4c4" opacity="0.9"/>
<circle cx="95.99" cy="399.11" r="0.75" fill="#c4c4c4" opacity="0.9"/>
<circle cx="95.43" cy="341.58" r="0.75" fill="#c4c4c4" opacity="0.9"/>
<circle cx="95.25" cy="368.49" r="0.75" fill="#c4c4c4" opacity="0.9"/>
<circle cx="93.93" cy="419.74" r="0.75" fill="#c4c4c4" opacity="0.9"/>
<circle cx="96.03" cy="431.14" r="0.75" fill="#c4c4c4" opacity="0.9"/>
<text x="0.00" y="0.00" font-size="7.01" fill="#333" font-weight="normal" stroke="#333" stroke-width="0.18" text-anchor="end" transform="translate(95.95,444.70) rotate(-45)">ERP</text>
<line x1="105.90" y1="433.10" x2="105.90" y2="436.20" stroke="#222" stroke-width="1.0" />
<rect x="100.00" y="431.81" width="4.40" height="0.99" fill="#193c42" />
<rect x="107.75" y="430.07" width="3.90" height="2.73" fill="#eed0d2" stroke="#b8384a" stroke-width="0.5"/>
<circle cx="110.18" cy="431.39" r="0.45" fill="#fbe8ea" opacity="0.85"/>
<line x1="102.20" y1="431.81" x2="102.20" y2="431.31" stroke="#222" stroke-width="1.1" />
<line x1="100.90" y1="431.31" x2="103.50" y2="431.31" stroke="#222" stroke-width="1.1" />
<line x1="109.70" y1="429.82" x2="109.70" y2="427.83" stroke="#333" stroke-width="1.1" />
<line x1="108.40" y1="427.83" x2="111.00" y2="427.83" stroke="#333" stroke-width="1.1" />
<circle cx="102.47" cy="432.78" r="0.70" fill="#9ab4b6" opacity="0.85"/>
<circle cx="102.66" cy="432.27" r="0.70" fill="#9ab4b6" opacity="0.85"/>
<circle cx="103.20" cy="432.45" r="0.70" fill="#9ab4b6" opacity="0.85"/>
<circle cx="102.29" cy="432.72" r="0.70" fill="#9ab4b6" opacity="0.85"/>
<circle cx="110.66" cy="428.04" r="0.75" fill="#c4c4c4" opacity="0.9"/>
<circle cx="110.19" cy="428.04" r="0.75" fill="#c4c4c4" opacity="0.9"/>
<circle cx="110.70" cy="427.67" r="0.75" fill="#c4c4c4" opacity="0.9"/>
<text x="0.00" y="0.00" font-size="7.01" fill="#333" font-weight="normal" stroke="#333" stroke-width="0.18" text-anchor="end" transform="translate(110.60,444.70) rotate(-45)">EOBM</text>
<line x1="120.55" y1="433.10" x2="120.55" y2="436.20" stroke="#222" stroke-width="1.0" />
<rect x="114.65" y="417.89" width="4.40" height="14.91" fill="#193c42" />
<rect x="122.40" y="426.09" width="3.90" height="6.71" fill="#e8b4b6" stroke="#b8384a" stroke-width="0.5"/>
<circle cx="123.99" cy="427.19" r="0.45" fill="#fbe8ea" opacity="0.85"/>
<circle cx="125.31" cy="429.54" r="0.45" fill="#fbe8ea" opacity="0.85"/>
<circle cx="124.15" cy="431.67" r="0.45" fill="#fbe8ea" opacity="0.85"/>
<line x1="116.85" y1="417.89" x2="116.85" y2="415.90" stroke="#222" stroke-width="1.1" />
<line x1="115.55" y1="415.90" x2="118.15" y2="415.90" stroke="#222" stroke-width="1.1" />
<line x1="124.35" y1="425.84" x2="124.35" y2="415.90" stroke="#333" stroke-width="1.1" />
<line x1="123.05" y1="415.90" x2="125.65" y2="415.90" stroke="#333" stroke-width="1.1" />
<circle cx="117.00" cy="418.64" r="0.70" fill="#9ab4b6" opacity="0.85"/>
<circle cx="116.61" cy="422.55" r="0.70" fill="#9ab4b6" opacity="0.85"/>
<circle cx="117.07" cy="423.24" r="0.70" fill="#9ab4b6" opacity="0.85"/>
<circle cx="117.13" cy="431.48" r="0.70" fill="#9ab4b6" opacity="0.85"/>
<circle cx="125.26" cy="410.98" r="0.75" fill="#c4c4c4" opacity="0.9"/>
<circle cx="124.08" cy="416.80" r="0.75" fill="#c4c4c4" opacity="0.9"/>
<circle cx="124.54" cy="416.65" r="0.75" fill="#c4c4c4" opacity="0.9"/>
<circle cx="125.16" cy="423.12" r="0.75" fill="#c4c4c4" opacity="0.9"/>
<circle cx="124.95" cy="430.96" r="0.75" fill="#c4c4c4" opacity="0.9"/>
<circle cx="124.59" cy="432.15" r="0.75" fill="#c4c4c4" opacity="0.9"/>
<circle cx="123.70" cy="422.23" r="0.75" fill="#c4c4c4" opacity="0.9"/>
<text x="0.00" y="0.00" font-size="7.01" fill="#333" font-weight="normal" stroke="#333" stroke-width="0.18" text-anchor="end" transform="translate(125.25,444.70) rotate(-45)">iNeP</text>
<line x1="135.20" y1="433.10" x2="135.20" y2="436.20" stroke="#222" stroke-width="1.0" />
<rect x="129.30" y="426.84" width="4.40" height="5.96" fill="#193c42" />
<rect x="137.05" y="429.07" width="3.90" height="3.73" fill="#eed6d8" stroke="#b8384a" stroke-width="0.5"/>
<circle cx="139.48" cy="430.02" r="0.45" fill="#fbe8ea" opacity="0.85"/>
<line x1="131.50" y1="426.84" x2="131.50" y2="423.85" stroke="#222" stroke-width="1.1" />
<line x1="130.20" y1="423.85" x2="132.80" y2="423.85" stroke="#222" stroke-width="1.1" />
<line x1="139.00" y1="428.82" x2="139.00" y2="420.87" stroke="#333" stroke-width="1.1" />
<line x1="137.70" y1="420.87" x2="140.30" y2="420.87" stroke="#333" stroke-width="1.1" />
<circle cx="132.34" cy="428.77" r="0.70" fill="#9ab4b6" opacity="0.85"/>
<circle cx="130.52" cy="431.12" r="0.70" fill="#9ab4b6" opacity="0.85"/>
<circle cx="131.86" cy="430.83" r="0.70" fill="#9ab4b6" opacity="0.85"/>
<circle cx="130.84" cy="431.47" r="0.70" fill="#9ab4b6" opacity="0.85"/>
<circle cx="139.38" cy="418.76" r="0.75" fill="#c4c4c4" opacity="0.9"/>
<circle cx="139.94" cy="425.95" r="0.75" fill="#c4c4c4" opacity="0.9"/>
<circle cx="139.40" cy="427.73" r="0.75" fill="#c4c4c4" opacity="0.9"/>
<circle cx="138.83" cy="429.72" r="0.75" fill="#c4c4c4" opacity="0.9"/>
<circle cx="139.99" cy="420.30" r="0.75" fill="#c4c4c4" opacity="0.9"/>
<circle cx="138.72" cy="419.15" r="0.75" fill="#c4c4c4" opacity="0.9"/>
<circle cx="138.56" cy="423.76" r="0.75" fill="#c4c4c4" opacity="0.9"/>
<text x="0.00" y="0.00" font-size="7.01" fill="#333" font-weight="normal" stroke="#333" stroke-width="0.18" text-anchor="end" transform="translate(139.90,444.70) rotate(-45)">NeP</text>
<line x1="149.85" y1="433.10" x2="149.85" y2="436.20" stroke="#222" stroke-width="1.0" />
<rect x="143.95" y="419.88" width="4.40" height="12.92" fill="#193c42" />
<rect x="151.70" y="431.06" width="3.90" height="1.74" fill="#caa090" stroke="#b8384a" stroke-width="0.5"/>
<line x1="146.15" y1="419.88" x2="146.15" y2="410.93" stroke="#222" stroke-width="1.1" />
<line x1="144.85" y1="410.93" x2="147.45" y2="410.93" stroke="#222" stroke-width="1.1" />
<line x1="153.65" y1="430.81" x2="153.65" y2="421.87" stroke="#333" stroke-width="1.1" />
<line x1="152.35" y1="421.87" x2="154.95" y2="421.87" stroke="#333" stroke-width="1.1" />
<circle cx="146.14" cy="430.86" r="0.70" fill="#9ab4b6" opacity="0.85"/>
<circle cx="146.85" cy="420.90" r="0.70" fill="#9ab4b6" opacity="0.85"/>
<circle cx="147.05" cy="422.69" r="0.70" fill="#9ab4b6" opacity="0.85"/>
<circle cx="145.49" cy="428.87" r="0.70" fill="#9ab4b6" opacity="0.85"/>
<circle cx="153.11" cy="426.39" r="0.75" fill="#c4c4c4" opacity="0.9"/>
<circle cx="153.44" cy="429.76" r="0.75" fill="#c4c4c4" opacity="0.9"/>
<circle cx="153.64" cy="423.91" r="0.75" fill="#c4c4c4" opacity="0.9"/>
<text x="0.00" y="0.00" font-size="7.01" fill="#333" font-weight="normal" stroke="#333" stroke-width="0.18" text-anchor="end" transform="translate(154.55,444.70) rotate(-45)">LyP</text>
<line x1="164.50" y1="433.10" x2="164.50" y2="436.20" stroke="#222" stroke-width="1.0" />
<rect x="158.60" y="432.20" width="4.40" height="0.60" fill="#193c42" />
<rect x="166.35" y="432.45" width="3.90" height="0.35" fill="#e8d8d8" stroke="#b8384a" stroke-width="0.5"/>
<line x1="160.80" y1="432.20" x2="160.80" y2="431.81" stroke="#222" stroke-width="1.1" />
<line x1="159.50" y1="431.81" x2="162.10" y2="431.81" stroke="#222" stroke-width="1.1" />
<line x1="168.30" y1="432.20" x2="168.30" y2="431.81" stroke="#333" stroke-width="1.1" />
<line x1="167.00" y1="431.81" x2="169.60" y2="431.81" stroke="#333" stroke-width="1.1" />
<circle cx="161.48" cy="432.59" r="0.70" fill="#9ab4b6" opacity="0.85"/>
<circle cx="160.70" cy="432.16" r="0.70" fill="#9ab4b6" opacity="0.85"/>
<circle cx="159.86" cy="432.75" r="0.70" fill="#9ab4b6" opacity="0.85"/>
<circle cx="159.88" cy="432.23" r="0.70" fill="#9ab4b6" opacity="0.85"/>
<circle cx="168.47" cy="431.39" r="0.75" fill="#c4c4c4" opacity="0.9"/>
<circle cx="169.00" cy="432.19" r="0.75" fill="#c4c4c4" opacity="0.9"/>
<circle cx="167.43" cy="432.76" r="0.75" fill="#c4c4c4" opacity="0.9"/>
<text x="0.00" y="0.00" font-size="7.01" fill="#333" font-weight="normal" stroke="#333" stroke-width="0.18" text-anchor="end" transform="translate(169.20,444.70) rotate(-45)">ProB-1</text>
<line x1="179.15" y1="433.10" x2="179.15" y2="436.20" stroke="#222" stroke-width="1.0" />
<rect x="173.25" y="432.40" width="4.40" height="0.40" fill="#193c42" />
<rect x="181.00" y="432.06" width="3.90" height="0.74" fill="#caa090" stroke="#b8384a" stroke-width="0.5"/>
<line x1="175.45" y1="432.40" x2="175.45" y2="432.00" stroke="#222" stroke-width="1.1" />
<line x1="174.15" y1="432.00" x2="176.75" y2="432.00" stroke="#222" stroke-width="1.1" />
<line x1="182.95" y1="431.81" x2="182.95" y2="420.87" stroke="#333" stroke-width="1.1" />
<line x1="181.65" y1="420.87" x2="184.25" y2="420.87" stroke="#333" stroke-width="1.1" />
<circle cx="174.50" cy="432.60" r="0.70" fill="#9ab4b6" opacity="0.85"/>
<circle cx="174.92" cy="432.44" r="0.70" fill="#9ab4b6" opacity="0.85"/>
<circle cx="174.54" cy="432.74" r="0.70" fill="#9ab4b6" opacity="0.85"/>
<circle cx="175.34" cy="432.52" r="0.70" fill="#9ab4b6" opacity="0.85"/>
<circle cx="183.32" cy="423.03" r="0.75" fill="#c4c4c4" opacity="0.9"/>
<circle cx="184.05" cy="420.28" r="0.75" fill="#c4c4c4" opacity="0.9"/>
<circle cx="182.23" cy="422.19" r="0.75" fill="#c4c4c4" opacity="0.9"/>
<text x="0.00" y="0.00" font-size="7.01" fill="#333" font-weight="normal" stroke="#333" stroke-width="0.18" text-anchor="end" transform="translate(183.85,444.70) rotate(-45)">ProB-2</text>
<circle cx="51.00" cy="381.11" r="0.85" fill="#bdbdbd" />
<circle cx="81.50" cy="400.00" r="0.85" fill="#bdbdbd" />
<circle cx="124.00" cy="388.07" r="0.85" fill="#bdbdbd" />
<circle cx="153.50" cy="395.03" r="0.85" fill="#bdbdbd" />
<circle cx="66.00" cy="399.00" r="0.85" fill="#bdbdbd" />
<circle cx="66.00" cy="402.98" r="0.85" fill="#bdbdbd" />
<circle cx="95.00" cy="349.30" r="0.85" fill="#bdbdbd" />
<circle cx="95.00" cy="345.33" r="0.85" fill="#bdbdbd" />
<circle cx="95.00" cy="353.28" r="0.85" fill="#bdbdbd" />
<circle cx="95.00" cy="357.26" r="0.85" fill="#bdbdbd" />
<circle cx="183.00" cy="387.08" r="0.85" fill="#bdbdbd" />
<path d="M44.20,383.00 L44.20,353.30 L52.30,353.30 L52.30,366.00" fill="none" stroke="#222" stroke-width="1.0" />
<text x="44.20" y="353.90" font-size="6.91" fill="#222" font-weight="normal" stroke="#222" stroke-width="0.17" textLength="8.10" lengthAdjust="spacingAndGlyphs" >***</text>
<path d="M71.60,394.80 L71.60,364.20 L79.80,364.20 L79.80,377.50" fill="none" stroke="#222" stroke-width="1.0" />
<text x="71.65" y="364.80" font-size="6.91" fill="#222" font-weight="normal" stroke="#222" stroke-width="0.17" textLength="8.10" lengthAdjust="spacingAndGlyphs" >***</text>
<path d="M87.70,421.00 L87.70,335.50 L94.40,335.50 L94.40,341.40" fill="none" stroke="#222" stroke-width="1.0" />
<text x="87.00" y="336.10" font-size="6.91" fill="#222" font-weight="normal" stroke="#222" stroke-width="0.17" textLength="8.10" lengthAdjust="spacingAndGlyphs" >***</text>
<path d="M116.20,395.20 L116.20,364.80 L124.60,364.80 L124.60,377.90" fill="none" stroke="#222" stroke-width="1.0" />
<text x="117.70" y="365.40" font-size="6.91" fill="#222" font-weight="normal" stroke="#222" stroke-width="0.17" textLength="5.40" lengthAdjust="spacingAndGlyphs" >**</text>
<path d="M145.40,394.20 L145.40,364.40 L154.00,364.40 L154.00,377.00" fill="none" stroke="#222" stroke-width="1.0" />
<text x="148.35" y="365.00" font-size="6.91" fill="#222" font-weight="normal" stroke="#222" stroke-width="0.17" textLength="2.70" lengthAdjust="spacingAndGlyphs" >*</text>
<rect x="137.30" y="331.70" width="5.20" height="5.30" fill="#193c42" />
<text x="145.40" y="336.10" font-size="6.24" fill="#333" font-weight="normal" stroke="#333" stroke-width="0.16" textLength="21.10" lengthAdjust="spacingAndGlyphs" >Control</text>
<rect x="137.30" y="339.30" width="5.20" height="5.30" fill="#d9505a" />
<text x="145.40" y="343.50" font-size="6.24" fill="#333" font-weight="normal" stroke="#333" stroke-width="0.16" textLength="13.40" lengthAdjust="spacingAndGlyphs" >CML</text>
<text x="189.20" y="325.00" font-size="11.04" fill="#111" font-weight="bold" stroke="#111" stroke-width="0.45" textLength="7.20" lengthAdjust="spacingAndGlyphs" >E</text>
<line x1="215.40" y1="319.20" x2="215.40" y2="433.40" stroke="#222" stroke-width="1.3" />
<line x1="212.00" y1="432.80" x2="215.40" y2="432.80" stroke="#222" stroke-width="1.0" />
<text x="210.40" y="435.10" font-size="6.43" fill="#3a3a3a" font-weight="normal" stroke="#3a3a3a" stroke-width="0.16" text-anchor="end" >0</text>
<line x1="212.00" y1="404.90" x2="215.40" y2="404.90" stroke="#222" stroke-width="1.0" />
<text x="210.40" y="407.20" font-size="6.43" fill="#3a3a3a" font-weight="normal" stroke="#3a3a3a" stroke-width="0.16" text-anchor="end" >10</text>
<line x1="212.00" y1="377.00" x2="215.40" y2="377.00" stroke="#222" stroke-width="1.0" />
<text x="210.40" y="379.30" font-size="6.43" fill="#3a3a3a" font-weight="normal" stroke="#3a3a3a" stroke-width="0.16" text-anchor="end" >20</text>
<line x1="212.00" y1="349.10" x2="215.40" y2="349.10" stroke="#222" stroke-width="1.0" />
<text x="210.40" y="351.40" font-size="6.43" fill="#3a3a3a" font-weight="normal" stroke="#3a3a3a" stroke-width="0.16" text-anchor="end" >30</text>
<line x1="212.00" y1="321.20" x2="215.40" y2="321.20" stroke="#222" stroke-width="1.0" />
<text x="210.40" y="323.50" font-size="6.43" fill="#3a3a3a" font-weight="normal" stroke="#3a3a3a" stroke-width="0.16" text-anchor="end" >40</text>
<rect x="245.40" y="314.40" width="49.00" height="5.30" fill="#e0461e" />
<text x="269.90" y="319.10" font-size="5.57" fill="#5a1a08" font-weight="normal" text-anchor="middle" >T/NK</text>
<rect x="328.00" y="314.40" width="49.70" height="5.30" fill="#f08a30" />
<text x="352.80" y="319.10" font-size="5.57" fill="#4a2405" font-weight="normal" text-anchor="middle" >B cells</text>
<rect x="407.10" y="314.40" width="49.40" height="5.30" fill="#4dbdb5" />
<text x="431.80" y="319.10" font-size="5.57" fill="#0f3f3a" font-weight="normal" text-anchor="middle" >Myeloid</text>
<line x1="215.40" y1="433.10" x2="506.00" y2="433.10" stroke="#222" stroke-width="1.2" />
<line x1="223.50" y1="433.10" x2="223.50" y2="436.20" stroke="#222" stroke-width="1.0" />
<rect x="218.50" y="406.02" width="4.00" height="26.78" fill="#193c42" />
<rect x="225.25" y="416.87" width="3.50" height="15.93" fill="#e89094" stroke="#b8384a" stroke-width="0.5"/>
<circle cx="227.27" cy="418.01" r="0.45" fill="#fbe8ea" opacity="0.85"/>
<circle cx="227.65" cy="420.37" r="0.45" fill="#fbe8ea" opacity="0.85"/>
<circle cx="227.53" cy="422.56" r="0.45" fill="#fbe8ea" opacity="0.85"/>
<circle cx="225.96" cy="424.39" r="0.45" fill="#fbe8ea" opacity="0.85"/>
<circle cx="227.98" cy="426.74" r="0.45" fill="#fbe8ea" opacity="0.85"/>
<circle cx="227.88" cy="428.51" r="0.45" fill="#fbe8ea" opacity="0.85"/>
<circle cx="226.93" cy="430.82" r="0.45" fill="#fbe8ea" opacity="0.85"/>
<line x1="220.50" y1="406.02" x2="220.50" y2="397.65" stroke="#1a1a1a" stroke-width="1.1" />
<line x1="219.40" y1="397.65" x2="221.60" y2="397.65" stroke="#1a1a1a" stroke-width="1.1" />
<line x1="227.00" y1="416.62" x2="227.00" y2="407.69" stroke="#333" stroke-width="1.1" />
<line x1="225.90" y1="407.69" x2="228.10" y2="407.69" stroke="#333" stroke-width="1.1" />
<circle cx="220.57" cy="415.89" r="0.50" fill="#8fa8aa" opacity="0.8"/>
<circle cx="219.72" cy="426.41" r="0.50" fill="#8fa8aa" opacity="0.8"/>
<circle cx="220.15" cy="405.80" r="0.50" fill="#8fa8aa" opacity="0.8"/>
<circle cx="227.53" cy="427.79" r="0.50" fill="#c9c9c9" opacity="0.9"/>
<circle cx="227.59" cy="428.44" r="0.50" fill="#c9c9c9" opacity="0.9"/>
<circle cx="227.23" cy="428.82" r="0.50" fill="#c9c9c9" opacity="0.9"/>
<circle cx="226.00" cy="405.45" r="0.50" fill="#c9c9c9" opacity="0.9"/>
<circle cx="226.42" cy="426.04" r="0.50" fill="#c9c9c9" opacity="0.9"/>
<circle cx="227.96" cy="405.42" r="0.50" fill="#c9c9c9" opacity="0.9"/>
<text x="0.00" y="0.00" font-size="7.2" fill="#333" font-weight="normal" stroke="#333" stroke-width="0.18" text-anchor="end" transform="translate(225.70,444.50) rotate(-45)">CD4+ Naive</text>
<line x1="236.66" y1="433.10" x2="236.66" y2="436.20" stroke="#222" stroke-width="1.0" />
<rect x="231.66" y="363.89" width="4.00" height="68.91" fill="#193c42" />
<rect x="238.41" y="383.95" width="3.50" height="48.85" fill="#d9505a" stroke="#b8384a" stroke-width="0.5"/>
<circle cx="239.70" cy="385.27" r="0.45" fill="#fbe8ea" opacity="0.85"/>
<circle cx="240.25" cy="387.24" r="0.45" fill="#fbe8ea" opacity="0.85"/>
<circle cx="239.51" cy="389.65" r="0.45" fill="#fbe8ea" opacity="0.85"/>
<circle cx="240.58" cy="391.87" r="0.45" fill="#fbe8ea" opacity="0.85"/>
<circle cx="241.03" cy="393.54" r="0.45" fill="#fbe8ea" opacity="0.85"/>
<circle cx="239.85" cy="395.63" r="0.45" fill="#fbe8ea" opacity="0.85"/>
<circle cx="239.38" cy="397.75" r="0.45" fill="#fbe8ea" opacity="0.85"/>
<circle cx="239.72" cy="400.38" r="0.45" fill="#fbe8ea" opacity="0.85"/>
<circle cx="239.07" cy="402.64" r="0.45" fill="#fbe8ea" opacity="0.85"/>
<circle cx="239.80" cy="404.54" r="0.45" fill="#fbe8ea" opacity="0.85"/>
<circle cx="240.86" cy="406.88" r="0.45" fill="#fbe8ea" opacity="0.85"/>
<circle cx="239.75" cy="409.08" r="0.45" fill="#fbe8ea" opacity="0.85"/>
<circle cx="240.61" cy="410.94" r="0.45" fill="#fbe8ea" opacity="0.85"/>
<circle cx="241.21" cy="413.11" r="0.45" fill="#fbe8ea" opacity="0.85"/>
<circle cx="240.71" cy="415.97" r="0.45" fill="#fbe8ea" opacity="0.85"/>
<circle cx="239.10" cy="418.13" r="0.45" fill="#fbe8ea" opacity="0.85"/>
<circle cx="239.87" cy="420.16" r="0.45" fill="#fbe8ea" opacity="0.85"/>
<circle cx="239.08" cy="421.93" r="0.45" fill="#fbe8ea" opacity="0.85"/>
<circle cx="239.46" cy="424.86" r="0.45" fill="#fbe8ea" opacity="0.85"/>
<circle cx="239.49" cy="426.90" r="0.45" fill="#fbe8ea" opacity="0.85"/>
<circle cx="241.11" cy="429.25" r="0.45" fill="#fbe8ea" opacity="0.85"/>
<circle cx="239.82" cy="430.98" r="0.45" fill="#fbe8ea" opacity="0.85"/>
<line x1="233.66" y1="363.89" x2="233.66" y2="340.73" stroke="#1a1a1a" stroke-width="1.1" />
<line x1="232.56" y1="340.73" x2="234.76" y2="340.73" stroke="#1a1a1a" stroke-width="1.1" />
<line x1="240.16" y1="383.70" x2="240.16" y2="354.68" stroke="#333" stroke-width="1.1" />
<line x1="239.06" y1="354.68" x2="241.26" y2="354.68" stroke="#333" stroke-width="1.1" />
<circle cx="233.70" cy="374.01" r="0.50" fill="#8fa8aa" opacity="0.8"/>
<circle cx="233.03" cy="376.07" r="0.50" fill="#8fa8aa" opacity="0.8"/>
<circle cx="234.14" cy="367.63" r="0.50" fill="#8fa8aa" opacity="0.8"/>
<circle cx="239.23" cy="340.44" r="0.50" fill="#c9c9c9" opacity="0.9"/>
<circle cx="239.34" cy="399.53" r="0.50" fill="#c9c9c9" opacity="0.9"/>
<circle cx="240.38" cy="343.15" r="0.50" fill="#c9c9c9" opacity="0.9"/>
<circle cx="239.84" cy="342.55" r="0.50" fill="#c9c9c9" opacity="0.9"/>
<circle cx="240.25" cy="402.29" r="0.50" fill="#c9c9c9" opacity="0.9"/>
<circle cx="239.79" cy="415.47" r="0.50" fill="#c9c9c9" opacity="0.9"/>
<text x="0.00" y="0.00" font-size="7.2" fill="#333" font-weight="normal" stroke="#333" stroke-width="0.18" text-anchor="end" transform="translate(238.86,444.50) rotate(-45)">CD4+ TCM</text>
<line x1="249.82" y1="433.10" x2="249.82" y2="436.20" stroke="#222" stroke-width="1.0" />
<rect x="244.82" y="404.90" width="4.00" height="27.90" fill="#193c42" />
<rect x="251.57" y="420.50" width="3.50" height="12.31" fill="#e27c84" stroke="#b8384a" stroke-width="0.5"/>
<circle cx="252.39" cy="421.16" r="0.45" fill="#fbe8ea" opacity="0.85"/>
<circle cx="253.74" cy="424.04" r="0.45" fill="#fbe8ea" opacity="0.85"/>
<circle cx="252.58" cy="425.48" r="0.45" fill="#fbe8ea" opacity="0.85"/>
<circle cx="254.39" cy="428.07" r="0.45" fill="#fbe8ea" opacity="0.85"/>
<circle cx="253.11" cy="430.03" r="0.45" fill="#fbe8ea" opacity="0.85"/>
<line x1="246.82" y1="404.90" x2="246.82" y2="392.07" stroke="#1a1a1a" stroke-width="1.1" />
<line x1="245.72" y1="392.07" x2="247.92" y2="392.07" stroke="#1a1a1a" stroke-width="1.1" />
<line x1="253.32" y1="420.25" x2="253.32" y2="411.88" stroke="#333" stroke-width="1.1" />
<line x1="252.22" y1="411.88" x2="254.42" y2="411.88" stroke="#333" stroke-width="1.1" />
<circle cx="246.97" cy="407.44" r="0.50" fill="#8fa8aa" opacity="0.8"/>
<circle cx="246.75" cy="419.86" r="0.50" fill="#8fa8aa" opacity="0.8"/>
<circle cx="246.11" cy="404.69" r="0.50" fill="#8fa8aa" opacity="0.8"/>
<circle cx="252.39" cy="419.89" r="0.50" fill="#c9c9c9" opacity="0.9"/>
<circle cx="254.00" cy="429.38" r="0.50" fill="#c9c9c9" opacity="0.9"/>
<circle cx="253.78" cy="407.96" r="0.50" fill="#c9c9c9" opacity="0.9"/>
<circle cx="253.58" cy="412.19" r="0.50" fill="#c9c9c9" opacity="0.9"/>
<circle cx="252.53" cy="421.43" r="0.50" fill="#c9c9c9" opacity="0.9"/>
<circle cx="252.62" cy="410.70" r="0.50" fill="#c9c9c9" opacity="0.9"/>
<text x="0.00" y="0.00" font-size="7.2" fill="#333" font-weight="normal" stroke="#333" stroke-width="0.18" text-anchor="end" transform="translate(252.02,444.50) rotate(-45)">CD8-GZMK+</text>
<line x1="262.98" y1="433.10" x2="262.98" y2="436.20" stroke="#222" stroke-width="1.0" />
<rect x="257.98" y="404.90" width="4.00" height="27.90" fill="#193c42" />
<rect x="264.73" y="410.73" width="3.50" height="22.07" fill="#de6670" stroke="#b8384a" stroke-width="0.5"/>
<circle cx="266.03" cy="411.64" r="0.45" fill="#fbe8ea" opacity="0.85"/>
<circle cx="267.58" cy="414.16" r="0.45" fill="#fbe8ea" opacity="0.85"/>
<circle cx="267.53" cy="416.04" r="0.45" fill="#fbe8ea" opacity="0.85"/>
<circle cx="266.45" cy="418.46" r="0.45" fill="#fbe8ea" opacity="0.85"/>
<circle cx="266.43" cy="420.31" r="0.45" fill="#fbe8ea" opacity="0.85"/>
<circle cx="266.27" cy="422.40" r="0.45" fill="#fbe8ea" opacity="0.85"/>
<circle cx="266.21" cy="425.27" r="0.45" fill="#fbe8ea" opacity="0.85"/>
<circle cx="267.49" cy="427.18" r="0.45" fill="#fbe8ea" opacity="0.85"/>
<circle cx="266.48" cy="429.15" r="0.45" fill="#fbe8ea" opacity="0.85"/>
<circle cx="265.58" cy="431.30" r="0.45" fill="#fbe8ea" opacity="0.85"/>
<line x1="259.98" y1="404.90" x2="259.98" y2="400.72" stroke="#1a1a1a" stroke-width="1.1" />
<line x1="258.88" y1="400.72" x2="261.08" y2="400.72" stroke="#1a1a1a" stroke-width="1.1" />
<line x1="266.48" y1="410.48" x2="266.48" y2="389.00" stroke="#333" stroke-width="1.1" />
<line x1="265.38" y1="389.00" x2="267.58" y2="389.00" stroke="#333" stroke-width="1.1" />
<circle cx="260.43" cy="406.18" r="0.50" fill="#8fa8aa" opacity="0.8"/>
<circle cx="259.76" cy="408.68" r="0.50" fill="#8fa8aa" opacity="0.8"/>
<circle cx="260.42" cy="411.48" r="0.50" fill="#8fa8aa" opacity="0.8"/>
<circle cx="266.81" cy="391.21" r="0.50" fill="#c9c9c9" opacity="0.9"/>
<circle cx="266.21" cy="394.23" r="0.50" fill="#c9c9c9" opacity="0.9"/>
<circle cx="266.04" cy="406.21" r="0.50" fill="#c9c9c9" opacity="0.9"/>
<circle cx="267.02" cy="394.97" r="0.50" fill="#c9c9c9" opacity="0.9"/>
<circle cx="266.07" cy="381.03" r="0.50" fill="#c9c9c9" opacity="0.9"/>
<circle cx="266.78" cy="401.01" r="0.50" fill="#c9c9c9" opacity="0.9"/>
<text x="0.00" y="0.00" font-size="7.2" fill="#333" font-weight="normal" stroke="#333" stroke-width="0.18" text-anchor="end" transform="translate(265.18,444.50) rotate(-45)">CD8-TEMRA</text>
<line x1="276.14" y1="433.10" x2="276.14" y2="436.20" stroke="#222" stroke-width="1.0" />
<rect x="271.14" y="402.11" width="4.00" height="30.69" fill="#193c42" />
<rect x="277.89" y="411.29" width="3.50" height="21.51" fill="#de6670" stroke="#b8384a" stroke-width="0.5"/>
<circle cx="278.57" cy="412.28" r="0.45" fill="#fbe8ea" opacity="0.85"/>
<circle cx="279.09" cy="414.58" r="0.45" fill="#fbe8ea" opacity="0.85"/>
<circle cx="279.56" cy="416.89" r="0.45" fill="#fbe8ea" opacity="0.85"/>
<circle cx="279.96" cy="419.08" r="0.45" fill="#fbe8ea" opacity="0.85"/>
<circle cx="279.31" cy="421.15" r="0.45" fill="#fbe8ea" opacity="0.85"/>
<circle cx="280.16" cy="423.50" r="0.45" fill="#fbe8ea" opacity="0.85"/>
<circle cx="279.31" cy="425.71" r="0.45" fill="#fbe8ea" opacity="0.85"/>
<circle cx="280.45" cy="427.79" r="0.45" fill="#fbe8ea" opacity="0.85"/>
<circle cx="280.69" cy="430.20" r="0.45" fill="#fbe8ea" opacity="0.85"/>
<line x1="273.14" y1="402.11" x2="273.14" y2="389.00" stroke="#1a1a1a" stroke-width="1.1" />
<line x1="272.04" y1="389.00" x2="274.24" y2="389.00" stroke="#1a1a1a" stroke-width="1.1" />
<line x1="279.64" y1="411.04" x2="279.64" y2="389.56" stroke="#333" stroke-width="1.1" />
<line x1="278.54" y1="389.56" x2="280.74" y2="389.56" stroke="#333" stroke-width="1.1" />
<circle cx="273.17" cy="414.93" r="0.50" fill="#8fa8aa" opacity="0.8"/>
<circle cx="272.61" cy="404.56" r="0.50" fill="#8fa8aa" opacity="0.8"/>
<circle cx="273.84" cy="416.69" r="0.50" fill="#8fa8aa" opacity="0.8"/>
<circle cx="280.02" cy="393.90" r="0.50" fill="#c9c9c9" opacity="0.9"/>
<circle cx="280.10" cy="423.51" r="0.50" fill="#c9c9c9" opacity="0.9"/>
<circle cx="280.20" cy="401.40" r="0.50" fill="#c9c9c9" opacity="0.9"/>
<circle cx="279.97" cy="410.05" r="0.50" fill="#c9c9c9" opacity="0.9"/>
<circle cx="279.89" cy="390.92" r="0.50" fill="#c9c9c9" opacity="0.9"/>
<circle cx="279.91" cy="393.86" r="0.50" fill="#c9c9c9" opacity="0.9"/>
<text x="0.00" y="0.00" font-size="7.2" fill="#333" font-weight="normal" stroke="#333" stroke-width="0.18" text-anchor="end" transform="translate(278.34,444.50) rotate(-45)">CD8-Naive</text>
<line x1="289.30" y1="433.10" x2="289.30" y2="436.20" stroke="#222" stroke-width="1.0" />
<rect x="284.30" y="431.41" width="4.00" height="1.39" fill="#193c42" />
<rect x="291.05" y="426.63" width="3.50" height="6.17" fill="#f0c4c6" stroke="#b8384a" stroke-width="0.5"/>
<circle cx="291.76" cy="427.31" r="0.45" fill="#fbe8ea" opacity="0.85"/>
<circle cx="292.67" cy="429.90" r="0.45" fill="#fbe8ea" opacity="0.85"/>
<line x1="286.30" y1="431.41" x2="286.30" y2="430.01" stroke="#1a1a1a" stroke-width="1.1" />
<line x1="285.20" y1="430.01" x2="287.40" y2="430.01" stroke="#1a1a1a" stroke-width="1.1" />
<line x1="292.80" y1="426.38" x2="292.80" y2="408.53" stroke="#333" stroke-width="1.1" />
<line x1="291.70" y1="408.53" x2="293.90" y2="408.53" stroke="#333" stroke-width="1.1" />
<circle cx="285.85" cy="431.75" r="0.50" fill="#8fa8aa" opacity="0.8"/>
<circle cx="286.51" cy="432.74" r="0.50" fill="#8fa8aa" opacity="0.8"/>
<circle cx="286.25" cy="432.45" r="0.50" fill="#8fa8aa" opacity="0.8"/>
<circle cx="291.91" cy="428.75" r="0.50" fill="#c9c9c9" opacity="0.9"/>
<circle cx="292.43" cy="427.29" r="0.50" fill="#c9c9c9" opacity="0.9"/>
<text x="0.00" y="0.00" font-size="7.2" fill="#333" font-weight="normal" stroke="#333" stroke-width="0.18" text-anchor="end" transform="translate(291.50,444.50) rotate(-45)">γδ T</text>
<line x1="302.46" y1="433.10" x2="302.46" y2="436.20" stroke="#222" stroke-width="1.0" />
<rect x="297.46" y="402.11" width="4.00" height="30.69" fill="#193c42" />
<rect x="304.21" y="395.11" width="3.50" height="37.69" fill="#d9505a" stroke="#b8384a" stroke-width="0.5"/>
<circle cx="305.29" cy="395.68" r="0.45" fill="#fbe8ea" opacity="0.85"/>
<circle cx="305.88" cy="398.16" r="0.45" fill="#fbe8ea" opacity="0.85"/>
<circle cx="306.21" cy="400.53" r="0.45" fill="#fbe8ea" opacity="0.85"/>
<circle cx="305.38" cy="402.98" r="0.45" fill="#fbe8ea" opacity="0.85"/>
<circle cx="304.86" cy="404.78" r="0.45" fill="#fbe8ea" opacity="0.85"/>
<circle cx="305.47" cy="406.98" r="0.45" fill="#fbe8ea" opacity="0.85"/>
<circle cx="305.11" cy="409.52" r="0.45" fill="#fbe8ea" opacity="0.85"/>
<circle cx="305.68" cy="411.08" r="0.45" fill="#fbe8ea" opacity="0.85"/>
<circle cx="306.21" cy="413.33" r="0.45" fill="#fbe8ea" opacity="0.85"/>
<circle cx="306.06" cy="415.73" r="0.45" fill="#fbe8ea" opacity="0.85"/>
<circle cx="306.14" cy="418.42" r="0.45" fill="#fbe8ea" opacity="0.85"/>
<circle cx="306.66" cy="420.19" r="0.45" fill="#fbe8ea" opacity="0.85"/>
<circle cx="306.65" cy="422.57" r="0.45" fill="#fbe8ea" opacity="0.85"/>
<circle cx="305.67" cy="424.37" r="0.45" fill="#fbe8ea" opacity="0.85"/>
<circle cx="306.17" cy="426.91" r="0.45" fill="#fbe8ea" opacity="0.85"/>
<circle cx="306.97" cy="429.43" r="0.45" fill="#fbe8ea" opacity="0.85"/>
<circle cx="306.20" cy="431.14" r="0.45" fill="#fbe8ea" opacity="0.85"/>
<line x1="299.46" y1="402.11" x2="299.46" y2="386.49" stroke="#1a1a1a" stroke-width="1.1" />
<line x1="298.36" y1="386.49" x2="300.56" y2="386.49" stroke="#1a1a1a" stroke-width="1.1" />
<line x1="305.96" y1="394.86" x2="305.96" y2="367.24" stroke="#333" stroke-width="1.1" />
<line x1="304.86" y1="367.24" x2="307.06" y2="367.24" stroke="#333" stroke-width="1.1" />
<circle cx="300.09" cy="432.77" r="0.50" fill="#8fa8aa" opacity="0.8"/>
<circle cx="298.83" cy="413.70" r="0.50" fill="#8fa8aa" opacity="0.8"/>
<circle cx="299.64" cy="428.05" r="0.50" fill="#8fa8aa" opacity="0.8"/>
<circle cx="306.22" cy="359.75" r="0.50" fill="#c9c9c9" opacity="0.9"/>
<circle cx="305.71" cy="397.42" r="0.50" fill="#c9c9c9" opacity="0.9"/>
<circle cx="305.41" cy="408.91" r="0.50" fill="#c9c9c9" opacity="0.9"/>
<circle cx="306.90" cy="401.67" r="0.50" fill="#c9c9c9" opacity="0.9"/>
<circle cx="306.88" cy="357.91" r="0.50" fill="#c9c9c9" opacity="0.9"/>
<circle cx="306.15" cy="411.51" r="0.50" fill="#c9c9c9" opacity="0.9"/>
<text x="0.00" y="0.00" font-size="7.2" fill="#333" font-weight="normal" stroke="#333" stroke-width="0.18" text-anchor="end" transform="translate(304.66,444.50) rotate(-45)">NK</text>
<line x1="315.62" y1="433.10" x2="315.62" y2="436.20" stroke="#222" stroke-width="1.0" />
<rect x="310.62" y="431.96" width="4.00" height="0.84" fill="#193c42" />
<rect x="317.37" y="432.21" width="3.50" height="0.59" fill="#eed6d8" stroke="#b8384a" stroke-width="0.5"/>
<line x1="312.62" y1="431.96" x2="312.62" y2="430.57" stroke="#1a1a1a" stroke-width="1.1" />
<line x1="311.52" y1="430.57" x2="313.72" y2="430.57" stroke="#1a1a1a" stroke-width="1.1" />
<line x1="319.12" y1="431.96" x2="319.12" y2="430.57" stroke="#333" stroke-width="1.1" />
<line x1="318.02" y1="430.57" x2="320.22" y2="430.57" stroke="#333" stroke-width="1.1" />
<circle cx="313.39" cy="432.34" r="0.50" fill="#8fa8aa" opacity="0.8"/>
<circle cx="312.48" cy="432.51" r="0.50" fill="#8fa8aa" opacity="0.8"/>
<circle cx="313.39" cy="432.35" r="0.50" fill="#8fa8aa" opacity="0.8"/>
<circle cx="318.69" cy="430.80" r="0.50" fill="#c9c9c9" opacity="0.9"/>
<circle cx="318.36" cy="430.20" r="0.50" fill="#c9c9c9" opacity="0.9"/>
<text x="0.00" y="0.00" font-size="7.2" fill="#333" font-weight="normal" stroke="#333" stroke-width="0.18" text-anchor="end" transform="translate(317.82,444.50) rotate(-45)">Activated B</text>
<line x1="328.78" y1="433.10" x2="328.78" y2="436.20" stroke="#222" stroke-width="1.0" />
<rect x="323.78" y="432.24" width="4.00" height="0.56" fill="#193c42" />
<rect x="330.53" y="431.66" width="3.50" height="1.14" fill="#eed6d8" stroke="#b8384a" stroke-width="0.5"/>
<line x1="325.78" y1="432.24" x2="325.78" y2="431.41" stroke="#1a1a1a" stroke-width="1.1" />
<line x1="324.68" y1="431.41" x2="326.88" y2="431.41" stroke="#1a1a1a" stroke-width="1.1" />
<line x1="332.28" y1="431.41" x2="332.28" y2="427.22" stroke="#333" stroke-width="1.1" />
<line x1="331.18" y1="427.22" x2="333.38" y2="427.22" stroke="#333" stroke-width="1.1" />
<circle cx="325.69" cy="432.62" r="0.50" fill="#8fa8aa" opacity="0.8"/>
<circle cx="326.23" cy="432.29" r="0.50" fill="#8fa8aa" opacity="0.8"/>
<circle cx="325.00" cy="432.47" r="0.50" fill="#8fa8aa" opacity="0.8"/>
<circle cx="331.83" cy="426.28" r="0.50" fill="#c9c9c9" opacity="0.9"/>
<circle cx="332.84" cy="431.09" r="0.50" fill="#c9c9c9" opacity="0.9"/>
<text x="0.00" y="0.00" font-size="7.2" fill="#333" font-weight="normal" stroke="#333" stroke-width="0.18" text-anchor="end" transform="translate(330.98,444.50) rotate(-45)">BT cells</text>
<line x1="341.94" y1="433.10" x2="341.94" y2="436.20" stroke="#222" stroke-width="1.0" />
<rect x="336.94" y="430.01" width="4.00" height="2.79" fill="#193c42" />
<rect x="343.69" y="432.21" width="3.50" height="0.59" fill="#eed6d8" stroke="#b8384a" stroke-width="0.5"/>
<line x1="338.94" y1="430.01" x2="338.94" y2="427.22" stroke="#1a1a1a" stroke-width="1.1" />
<line x1="337.84" y1="427.22" x2="340.04" y2="427.22" stroke="#1a1a1a" stroke-width="1.1" />
<line x1="345.44" y1="431.96" x2="345.44" y2="431.13" stroke="#333" stroke-width="1.1" />
<line x1="344.34" y1="431.13" x2="346.54" y2="431.13" stroke="#333" stroke-width="1.1" />
<circle cx="338.57" cy="432.33" r="0.50" fill="#8fa8aa" opacity="0.8"/>
<circle cx="339.72" cy="431.90" r="0.50" fill="#8fa8aa" opacity="0.8"/>
<circle cx="339.11" cy="431.34" r="0.50" fill="#8fa8aa" opacity="0.8"/>
<circle cx="345.73" cy="430.27" r="0.50" fill="#c9c9c9" opacity="0.9"/>
<circle cx="345.93" cy="432.31" r="0.50" fill="#c9c9c9" opacity="0.9"/>
<text x="0.00" y="0.00" font-size="7.2" fill="#333" font-weight="normal" stroke="#333" stroke-width="0.18" text-anchor="end" transform="translate(344.14,444.50) rotate(-45)">Immature B</text>
<line x1="355.10" y1="433.10" x2="355.10" y2="436.20" stroke="#222" stroke-width="1.0" />
<rect x="350.10" y="416.62" width="4.00" height="16.18" fill="#193c42" />
<rect x="356.85" y="432.21" width="3.50" height="0.59" fill="#eed6d8" stroke="#b8384a" stroke-width="0.5"/>
<line x1="352.10" y1="416.62" x2="352.10" y2="405.46" stroke="#1a1a1a" stroke-width="1.1" />
<line x1="351.00" y1="405.46" x2="353.20" y2="405.46" stroke="#1a1a1a" stroke-width="1.1" />
<line x1="358.60" y1="431.96" x2="358.60" y2="431.13" stroke="#333" stroke-width="1.1" />
<line x1="357.50" y1="431.13" x2="359.70" y2="431.13" stroke="#333" stroke-width="1.1" />
<circle cx="352.52" cy="427.45" r="0.50" fill="#8fa8aa" opacity="0.8"/>
<circle cx="352.15" cy="426.82" r="0.50" fill="#8fa8aa" opacity="0.8"/>
<circle cx="351.77" cy="423.37" r="0.50" fill="#8fa8aa" opacity="0.8"/>
<circle cx="358.53" cy="431.29" r="0.50" fill="#c9c9c9" opacity="0.9"/>
<circle cx="359.09" cy="430.33" r="0.50" fill="#c9c9c9" opacity="0.9"/>
<text x="0.00" y="0.00" font-size="7.2" fill="#333" font-weight="normal" stroke="#333" stroke-width="0.18" text-anchor="end" transform="translate(357.30,444.50) rotate(-45)">Mature B</text>
<line x1="368.26" y1="433.10" x2="368.26" y2="436.20" stroke="#222" stroke-width="1.0" />
<rect x="363.26" y="425.27" width="4.00" height="7.53" fill="#193c42" />
<rect x="370.01" y="432.49" width="3.50" height="0.31" fill="#eed6d8" stroke="#b8384a" stroke-width="0.5"/>
<line x1="365.26" y1="425.27" x2="365.26" y2="415.50" stroke="#1a1a1a" stroke-width="1.1" />
<line x1="364.16" y1="415.50" x2="366.36" y2="415.50" stroke="#1a1a1a" stroke-width="1.1" />
<line x1="371.76" y1="432.24" x2="371.76" y2="431.41" stroke="#333" stroke-width="1.1" />
<line x1="370.66" y1="431.41" x2="372.86" y2="431.41" stroke="#333" stroke-width="1.1" />
<circle cx="364.52" cy="430.71" r="0.50" fill="#8fa8aa" opacity="0.8"/>
<circle cx="365.19" cy="425.20" r="0.50" fill="#8fa8aa" opacity="0.8"/>
<circle cx="365.88" cy="428.28" r="0.50" fill="#8fa8aa" opacity="0.8"/>
<circle cx="370.79" cy="429.54" r="0.50" fill="#c9c9c9" opacity="0.9"/>
<circle cx="371.62" cy="430.39" r="0.50" fill="#c9c9c9" opacity="0.9"/>
<text x="0.00" y="0.00" font-size="7.2" fill="#333" font-weight="normal" stroke="#333" stroke-width="0.18" text-anchor="end" transform="translate(370.46,444.50) rotate(-45)">Memory B</text>
<line x1="381.42" y1="433.10" x2="381.42" y2="436.20" stroke="#222" stroke-width="1.0" />
<rect x="376.42" y="432.52" width="4.00" height="0.28" fill="#193c42" />
<rect x="383.17" y="432.77" width="3.50" height="0.03" fill="#eed6d8" stroke="#b8384a" stroke-width="0.5"/>
<line x1="378.42" y1="432.52" x2="378.42" y2="432.24" stroke="#1a1a1a" stroke-width="1.1" />
<line x1="377.32" y1="432.24" x2="379.52" y2="432.24" stroke="#1a1a1a" stroke-width="1.1" />
<line x1="384.92" y1="432.52" x2="384.92" y2="432.24" stroke="#333" stroke-width="1.1" />
<line x1="383.82" y1="432.24" x2="386.02" y2="432.24" stroke="#333" stroke-width="1.1" />
<circle cx="378.75" cy="432.61" r="0.50" fill="#8fa8aa" opacity="0.8"/>
<circle cx="378.39" cy="432.52" r="0.50" fill="#8fa8aa" opacity="0.8"/>
<circle cx="378.24" cy="432.68" r="0.50" fill="#8fa8aa" opacity="0.8"/>
<circle cx="385.62" cy="431.98" r="0.50" fill="#c9c9c9" opacity="0.9"/>
<circle cx="384.51" cy="429.33" r="0.50" fill="#c9c9c9" opacity="0.9"/>
<text x="0.00" y="0.00" font-size="7.2" fill="#333" font-weight="normal" stroke="#333" stroke-width="0.18" text-anchor="end" transform="translate(383.62,444.50) rotate(-45)">Plasma cells</text>
<line x1="394.58" y1="433.10" x2="394.58" y2="436.20" stroke="#222" stroke-width="1.0" />
<rect x="389.58" y="432.52" width="4.00" height="0.28" fill="#193c42" />
<rect x="396.33" y="428.59" width="3.50" height="4.21" fill="#c83040" stroke="#b8384a" stroke-width="0.5"/>
<circle cx="397.13" cy="429.81" r="0.45" fill="#fbe8ea" opacity="0.85"/>
<circle cx="398.51" cy="431.68" r="0.45" fill="#fbe8ea" opacity="0.85"/>
<line x1="391.58" y1="432.52" x2="391.58" y2="432.24" stroke="#1a1a1a" stroke-width="1.1" />
<line x1="390.48" y1="432.24" x2="392.68" y2="432.24" stroke="#1a1a1a" stroke-width="1.1" />
<line x1="398.08" y1="428.34" x2="398.08" y2="406.02" stroke="#333" stroke-width="1.1" />
<line x1="396.98" y1="406.02" x2="399.18" y2="406.02" stroke="#333" stroke-width="1.1" />
<circle cx="391.24" cy="432.56" r="0.50" fill="#8fa8aa" opacity="0.8"/>
<circle cx="392.24" cy="432.76" r="0.50" fill="#8fa8aa" opacity="0.8"/>
<circle cx="391.55" cy="432.63" r="0.50" fill="#8fa8aa" opacity="0.8"/>
<circle cx="398.08" cy="421.73" r="0.50" fill="#c9c9c9" opacity="0.9"/>
<circle cx="397.39" cy="413.19" r="0.50" fill="#c9c9c9" opacity="0.9"/>
<text x="0.00" y="0.00" font-size="7.2" fill="#333" font-weight="normal" stroke="#333" stroke-width="0.18" text-anchor="end" transform="translate(396.78,444.50) rotate(-45)">Pre-B</text>
<line x1="407.74" y1="433.10" x2="407.74" y2="436.20" stroke="#222" stroke-width="1.0" />
<rect x="402.74" y="430.01" width="4.00" height="2.79" fill="#193c42" />
<rect x="409.49" y="431.66" width="3.50" height="1.14" fill="#eed6d8" stroke="#b8384a" stroke-width="0.5"/>
<line x1="404.74" y1="430.01" x2="404.74" y2="424.99" stroke="#1a1a1a" stroke-width="1.1" />
<line x1="403.64" y1="424.99" x2="405.84" y2="424.99" stroke="#1a1a1a" stroke-width="1.1" />
<line x1="411.24" y1="431.41" x2="411.24" y2="428.06" stroke="#333" stroke-width="1.1" />
<line x1="410.14" y1="428.06" x2="412.34" y2="428.06" stroke="#333" stroke-width="1.1" />
<circle cx="405.24" cy="432.59" r="0.50" fill="#8fa8aa" opacity="0.8"/>
<circle cx="404.31" cy="430.28" r="0.50" fill="#8fa8aa" opacity="0.8"/>
<circle cx="405.21" cy="430.76" r="0.50" fill="#8fa8aa" opacity="0.8"/>
<circle cx="410.29" cy="428.52" r="0.50" fill="#c9c9c9" opacity="0.9"/>
<circle cx="412.20" cy="426.88" r="0.50" fill="#c9c9c9" opacity="0.9"/>
<text x="0.00" y="0.00" font-size="7.2" fill="#333" font-weight="normal" stroke="#333" stroke-width="0.18" text-anchor="end" transform="translate(409.94,444.50) rotate(-45)">C Monocyte</text>
<line x1="420.90" y1="433.10" x2="420.90" y2="436.20" stroke="#222" stroke-width="1.0" />
<rect x="415.90" y="431.96" width="4.00" height="0.84" fill="#193c42" />
<rect x="422.65" y="432.21" width="3.50" height="0.59" fill="#eed6d8" stroke="#b8384a" stroke-width="0.5"/>
<line x1="417.90" y1="431.96" x2="417.90" y2="430.01" stroke="#1a1a1a" stroke-width="1.1" />
<line x1="416.80" y1="430.01" x2="419.00" y2="430.01" stroke="#1a1a1a" stroke-width="1.1" />
<line x1="424.40" y1="431.96" x2="424.40" y2="427.22" stroke="#333" stroke-width="1.1" />
<line x1="423.30" y1="427.22" x2="425.50" y2="427.22" stroke="#333" stroke-width="1.1" />
<circle cx="418.22" cy="432.75" r="0.50" fill="#8fa8aa" opacity="0.8"/>
<circle cx="418.45" cy="432.60" r="0.50" fill="#8fa8aa" opacity="0.8"/>
<circle cx="418.13" cy="431.92" r="0.50" fill="#8fa8aa" opacity="0.8"/>
<circle cx="424.82" cy="431.86" r="0.50" fill="#c9c9c9" opacity="0.9"/>
<circle cx="423.98" cy="426.40" r="0.50" fill="#c9c9c9" opacity="0.9"/>
<text x="0.00" y="0.00" font-size="7.2" fill="#333" font-weight="normal" stroke="#333" stroke-width="0.18" text-anchor="end" transform="translate(423.10,444.50) rotate(-45)">cDC2</text>
<line x1="434.06" y1="433.10" x2="434.06" y2="436.20" stroke="#222" stroke-width="1.0" />
<rect x="429.06" y="431.41" width="4.00" height="1.39" fill="#193c42" />
<rect x="435.81" y="419.66" width="3.50" height="13.14" fill="#f4b4b8" stroke="#b8384a" stroke-width="0.5"/>
<circle cx="436.79" cy="420.70" r="0.45" fill="#fbe8ea" opacity="0.85"/>
<circle cx="437.37" cy="422.54" r="0.45" fill="#fbe8ea" opacity="0.85"/>
<circle cx="437.83" cy="424.64" r="0.45" fill="#fbe8ea" opacity="0.85"/>
<circle cx="436.70" cy="427.11" r="0.45" fill="#fbe8ea" opacity="0.85"/>
<circle cx="436.62" cy="429.05" r="0.45" fill="#fbe8ea" opacity="0.85"/>
<circle cx="437.73" cy="431.80" r="0.45" fill="#fbe8ea" opacity="0.85"/>
<line x1="431.06" y1="431.41" x2="431.06" y2="430.01" stroke="#1a1a1a" stroke-width="1.1" />
<line x1="429.96" y1="430.01" x2="432.16" y2="430.01" stroke="#1a1a1a" stroke-width="1.1" />
<line x1="437.56" y1="419.41" x2="437.56" y2="403.50" stroke="#333" stroke-width="1.1" />
<line x1="436.46" y1="403.50" x2="438.66" y2="403.50" stroke="#333" stroke-width="1.1" />
<circle cx="431.67" cy="432.59" r="0.50" fill="#8fa8aa" opacity="0.8"/>
<circle cx="430.95" cy="432.32" r="0.50" fill="#8fa8aa" opacity="0.8"/>
<circle cx="431.22" cy="432.05" r="0.50" fill="#8fa8aa" opacity="0.8"/>
<circle cx="438.44" cy="419.10" r="0.50" fill="#c9c9c9" opacity="0.9"/>
<circle cx="436.67" cy="407.27" r="0.50" fill="#c9c9c9" opacity="0.9"/>
<circle cx="436.86" cy="409.68" r="0.50" fill="#c9c9c9" opacity="0.9"/>
<circle cx="437.57" cy="399.46" r="0.50" fill="#c9c9c9" opacity="0.9"/>
<circle cx="437.67" cy="410.06" r="0.50" fill="#c9c9c9" opacity="0.9"/>
<circle cx="437.09" cy="412.60" r="0.50" fill="#c9c9c9" opacity="0.9"/>
<text x="0.00" y="0.00" font-size="7.2" fill="#333" font-weight="normal" stroke="#333" stroke-width="0.18" text-anchor="end" transform="translate(436.26,444.50) rotate(-45)">Erythroblasts</text>
<line x1="447.22" y1="433.10" x2="447.22" y2="436.20" stroke="#222" stroke-width="1.0" />
<rect x="442.22" y="431.96" width="4.00" height="0.84" fill="#193c42" />
<rect x="448.97" y="432.49" width="3.50" height="0.31" fill="#eed6d8" stroke="#b8384a" stroke-width="0.5"/>
<line x1="444.22" y1="431.96" x2="444.22" y2="430.01" stroke="#1a1a1a" stroke-width="1.1" />
<line x1="443.12" y1="430.01" x2="445.32" y2="430.01" stroke="#1a1a1a" stroke-width="1.1" />
<line x1="450.72" y1="432.24" x2="450.72" y2="431.41" stroke="#333" stroke-width="1.1" />
<line x1="449.62" y1="431.41" x2="451.82" y2="431.41" stroke="#333" stroke-width="1.1" />
<circle cx="443.83" cy="432.11" r="0.50" fill="#8fa8aa" opacity="0.8"/>
<circle cx="444.25" cy="432.68" r="0.50" fill="#8fa8aa" opacity="0.8"/>
<circle cx="443.80" cy="432.46" r="0.50" fill="#8fa8aa" opacity="0.8"/>
<circle cx="451.19" cy="432.05" r="0.50" fill="#c9c9c9" opacity="0.9"/>
<circle cx="451.15" cy="430.06" r="0.50" fill="#c9c9c9" opacity="0.9"/>
<text x="0.00" y="0.00" font-size="7.2" fill="#333" font-weight="normal" stroke="#333" stroke-width="0.18" text-anchor="end" transform="translate(449.42,444.50) rotate(-45)">I Monocyte</text>
<line x1="460.38" y1="433.10" x2="460.38" y2="436.20" stroke="#222" stroke-width="1.0" />
<rect x="455.38" y="431.96" width="4.00" height="0.84" fill="#193c42" />
<rect x="462.13" y="432.21" width="3.50" height="0.59" fill="#eed6d8" stroke="#b8384a" stroke-width="0.5"/>
<line x1="457.38" y1="431.96" x2="457.38" y2="430.57" stroke="#1a1a1a" stroke-width="1.1" />
<line x1="456.28" y1="430.57" x2="458.48" y2="430.57" stroke="#1a1a1a" stroke-width="1.1" />
<line x1="463.88" y1="431.96" x2="463.88" y2="430.57" stroke="#333" stroke-width="1.1" />
<line x1="462.78" y1="430.57" x2="464.98" y2="430.57" stroke="#333" stroke-width="1.1" />
<circle cx="456.72" cy="432.19" r="0.50" fill="#8fa8aa" opacity="0.8"/>
<circle cx="456.73" cy="432.69" r="0.50" fill="#8fa8aa" opacity="0.8"/>
<circle cx="457.53" cy="432.58" r="0.50" fill="#8fa8aa" opacity="0.8"/>
<circle cx="464.63" cy="430.79" r="0.50" fill="#c9c9c9" opacity="0.9"/>
<circle cx="463.53" cy="429.47" r="0.50" fill="#c9c9c9" opacity="0.9"/>
<text x="0.00" y="0.00" font-size="7.2" fill="#333" font-weight="normal" stroke="#333" stroke-width="0.18" text-anchor="end" transform="translate(462.58,444.50) rotate(-45)">pDC</text>
<line x1="473.54" y1="433.10" x2="473.54" y2="436.20" stroke="#222" stroke-width="1.0" />
<rect x="468.54" y="425.55" width="4.00" height="7.25" fill="#193c42" />
<rect x="475.29" y="423.01" width="3.50" height="9.79" fill="#ec9ca2" stroke="#b8384a" stroke-width="0.5"/>
<circle cx="476.00" cy="424.14" r="0.45" fill="#fbe8ea" opacity="0.85"/>
<circle cx="476.06" cy="425.88" r="0.45" fill="#fbe8ea" opacity="0.85"/>
<circle cx="478.03" cy="428.50" r="0.45" fill="#fbe8ea" opacity="0.85"/>
<circle cx="476.43" cy="430.25" r="0.45" fill="#fbe8ea" opacity="0.85"/>
<line x1="470.54" y1="425.55" x2="470.54" y2="412.43" stroke="#1a1a1a" stroke-width="1.1" />
<line x1="469.44" y1="412.43" x2="471.64" y2="412.43" stroke="#1a1a1a" stroke-width="1.1" />
<line x1="477.04" y1="422.76" x2="477.04" y2="402.11" stroke="#333" stroke-width="1.1" />
<line x1="475.94" y1="402.11" x2="478.14" y2="402.11" stroke="#333" stroke-width="1.1" />
<circle cx="471.30" cy="427.49" r="0.50" fill="#8fa8aa" opacity="0.8"/>
<circle cx="471.05" cy="431.68" r="0.50" fill="#8fa8aa" opacity="0.8"/>
<circle cx="470.74" cy="429.97" r="0.50" fill="#8fa8aa" opacity="0.8"/>
<circle cx="476.51" cy="420.02" r="0.50" fill="#c9c9c9" opacity="0.9"/>
<circle cx="477.27" cy="419.42" r="0.50" fill="#c9c9c9" opacity="0.9"/>
<circle cx="476.81" cy="427.57" r="0.50" fill="#c9c9c9" opacity="0.9"/>
<circle cx="477.70" cy="407.95" r="0.50" fill="#c9c9c9" opacity="0.9"/>
<circle cx="477.65" cy="416.17" r="0.50" fill="#c9c9c9" opacity="0.9"/>
<circle cx="477.74" cy="412.95" r="0.50" fill="#c9c9c9" opacity="0.9"/>
<text x="0.00" y="0.00" font-size="7.2" fill="#333" font-weight="normal" stroke="#333" stroke-width="0.18" text-anchor="end" transform="translate(475.74,444.50) rotate(-45)">Mo-MDSC</text>
<line x1="486.70" y1="433.10" x2="486.70" y2="436.20" stroke="#222" stroke-width="1.0" />
<rect x="481.70" y="431.96" width="4.00" height="0.84" fill="#193c42" />
<rect x="488.45" y="432.49" width="3.50" height="0.31" fill="#eed6d8" stroke="#b8384a" stroke-width="0.5"/>
<line x1="483.70" y1="431.96" x2="483.70" y2="430.01" stroke="#1a1a1a" stroke-width="1.1" />
<line x1="482.60" y1="430.01" x2="484.80" y2="430.01" stroke="#1a1a1a" stroke-width="1.1" />
<line x1="490.20" y1="432.24" x2="490.20" y2="431.41" stroke="#333" stroke-width="1.1" />
<line x1="489.10" y1="431.41" x2="491.30" y2="431.41" stroke="#333" stroke-width="1.1" />
<circle cx="483.85" cy="432.27" r="0.50" fill="#8fa8aa" opacity="0.8"/>
<circle cx="484.08" cy="432.44" r="0.50" fill="#8fa8aa" opacity="0.8"/>
<circle cx="483.06" cy="432.77" r="0.50" fill="#8fa8aa" opacity="0.8"/>
<circle cx="489.60" cy="432.63" r="0.50" fill="#c9c9c9" opacity="0.9"/>
<circle cx="490.98" cy="430.79" r="0.50" fill="#c9c9c9" opacity="0.9"/>
<text x="0.00" y="0.00" font-size="7.2" fill="#333" font-weight="normal" stroke="#333" stroke-width="0.18" text-anchor="end" transform="translate(488.90,444.50) rotate(-45)">Mono-T</text>
<line x1="499.86" y1="433.10" x2="499.86" y2="436.20" stroke="#222" stroke-width="1.0" />
<rect x="494.86" y="432.24" width="4.00" height="0.56" fill="#193c42" />
<rect x="501.61" y="431.66" width="3.50" height="1.14" fill="#eed6d8" stroke="#b8384a" stroke-width="0.5"/>
<line x1="496.86" y1="432.24" x2="496.86" y2="431.41" stroke="#1a1a1a" stroke-width="1.1" />
<line x1="495.76" y1="431.41" x2="497.96" y2="431.41" stroke="#1a1a1a" stroke-width="1.1" />
<line x1="503.36" y1="431.41" x2="503.36" y2="427.22" stroke="#333" stroke-width="1.1" />
<line x1="502.26" y1="427.22" x2="504.46" y2="427.22" stroke="#333" stroke-width="1.1" />
<circle cx="497.28" cy="432.80" r="0.50" fill="#8fa8aa" opacity="0.8"/>
<circle cx="496.81" cy="432.25" r="0.50" fill="#8fa8aa" opacity="0.8"/>
<circle cx="497.05" cy="432.54" r="0.50" fill="#8fa8aa" opacity="0.8"/>
<circle cx="503.29" cy="432.10" r="0.50" fill="#c9c9c9" opacity="0.9"/>
<circle cx="502.67" cy="431.69" r="0.50" fill="#c9c9c9" opacity="0.9"/>
<text x="0.00" y="0.00" font-size="7.2" fill="#333" font-weight="normal" stroke="#333" stroke-width="0.18" text-anchor="end" transform="translate(502.06,444.50) rotate(-45)">Myelocyte</text>
<circle cx="240.50" cy="321.20" r="0.80" fill="#bdbdbd" />
<circle cx="240.50" cy="332.36" r="0.80" fill="#bdbdbd" />
<circle cx="268.00" cy="351.89" r="0.80" fill="#bdbdbd" />
<circle cx="268.00" cy="360.26" r="0.80" fill="#bdbdbd" />
<circle cx="281.00" cy="351.89" r="0.80" fill="#bdbdbd" />
<circle cx="281.00" cy="365.84" r="0.80" fill="#bdbdbd" />
<circle cx="294.00" cy="349.10" r="0.80" fill="#bdbdbd" />
<circle cx="190.00" cy="388.16" r="0.80" fill="#bdbdbd" />
<circle cx="386.00" cy="321.20" r="0.80" fill="#bdbdbd" />
<circle cx="398.00" cy="332.36" r="0.80" fill="#bdbdbd" />
<circle cx="450.00" cy="399.32" r="0.80" fill="#bdbdbd" />
<circle cx="462.00" cy="390.95" r="0.80" fill="#bdbdbd" />
<circle cx="476.00" cy="346.31" r="0.80" fill="#bdbdbd" />
<circle cx="477.00" cy="377.00" r="0.80" fill="#bdbdbd" />
<circle cx="477.00" cy="393.74" r="0.80" fill="#bdbdbd" />
<circle cx="491.00" cy="413.27" r="0.80" fill="#bdbdbd" />
<circle cx="491.00" cy="404.90" r="0.80" fill="#bdbdbd" />
<line x1="310.20" y1="318.70" x2="310.20" y2="432.50" stroke="#222" stroke-width="1.1" stroke-dasharray="3,2"/>
<line x1="401.30" y1="318.70" x2="401.30" y2="432.50" stroke="#222" stroke-width="1.1" stroke-dasharray="3,2"/>
<path d="M351.50,399.00 L351.50,363.50 L357.90,363.50 L357.90,380.40" fill="none" stroke="#222" stroke-width="1.0" />
<text x="353.35" y="364.10" font-size="6.91" fill="#222" font-weight="normal" stroke="#222" stroke-width="0.17" textLength="2.70" lengthAdjust="spacingAndGlyphs" >*</text>
<path d="M430.80,396.00 L430.80,361.00 L437.70,361.00 L437.70,377.00" fill="none" stroke="#222" stroke-width="1.0" />
<text x="431.55" y="361.60" font-size="6.91" fill="#222" font-weight="normal" stroke="#222" stroke-width="0.17" textLength="5.40" lengthAdjust="spacingAndGlyphs" >**</text>
<rect x="475.50" y="331.70" width="5.00" height="5.20" fill="#193c42" />
<text x="483.30" y="336.10" font-size="6.24" fill="#333" font-weight="normal" stroke="#333" stroke-width="0.16" textLength="21.70" lengthAdjust="spacingAndGlyphs" >Control</text>
<rect x="475.50" y="339.50" width="5.00" height="5.20" fill="#d9505a" />
<text x="483.30" y="343.60" font-size="6.24" fill="#333" font-weight="normal" stroke="#333" stroke-width="0.16" textLength="13.50" lengthAdjust="spacingAndGlyphs" >CML</text>
<text x="8.00" y="494.40" font-size="11.04" fill="#111" font-weight="bold" stroke="#111" stroke-width="0.45" textLength="6.60" lengthAdjust="spacingAndGlyphs" >F</text>
<text x="105.00" y="498.20" font-size="10.37" fill="#222" font-weight="normal" stroke="#222" stroke-width="0.26" textLength="193.90" lengthAdjust="spacingAndGlyphs" >CP-CML Group C vs Group A (CD34+ HSPCs)</text>
<line x1="41.20" y1="501.20" x2="362.70" y2="501.20" stroke="#1a1a1a" stroke-width="1.3" />
<defs><linearGradient id="gcb" x1="0" x2="1"><stop offset="0" stop-color="#e41e26"/><stop offset="0.48" stop-color="#e8303a"/><stop offset="0.5" stop-color="#e07090"/><stop offset="0.72" stop-color="#e8c0d0"/><stop offset="0.8" stop-color="#f4f0f6"/><stop offset="0.84" stop-color="#2a2a8a"/><stop offset="1" stop-color="#1e1e78"/></linearGradient></defs>
<defs><linearGradient id="gcb1" x1="0" x2="1"><stop offset="0" stop-color="#e41e26"/><stop offset="0.47" stop-color="#e8303a"/><stop offset="0.48" stop-color="#e06c8c"/><stop offset="0.7" stop-color="#e8c4d4"/><stop offset="0.745" stop-color="#f6f2f6"/><stop offset="0.79" stop-color="#c8c0dc"/><stop offset="0.81" stop-color="#26267e"/><stop offset="0.98" stop-color="#1e1e78"/><stop offset="0.985" stop-color="#ffffff"/><stop offset="1" stop-color="#ffffff"/></linearGradient></defs>
<text x="14.60" y="517.80" font-size="7.3" fill="#2a2a2a" font-weight="normal" font-style="italic" stroke="#2a2a2a" stroke-width="0.18" textLength="65.60" lengthAdjust="spacingAndGlyphs" >‘Blast crisis signature’</text>
<rect x="30.12" y="522.30" width="34.26" height="0.90" fill="#d8d8d8" />
<line x1="18.70" y1="528.95" x2="75.80" y2="528.95" stroke="#eeeeee" stroke-width="0.4" />
<line x1="18.70" y1="532.10" x2="75.80" y2="532.10" stroke="#eeeeee" stroke-width="0.4" />
<line x1="18.70" y1="535.25" x2="75.80" y2="535.25" stroke="#eeeeee" stroke-width="0.4" />
<line x1="18.70" y1="538.40" x2="75.80" y2="538.40" stroke="#eeeeee" stroke-width="0.4" />
<line x1="18.70" y1="541.55" x2="75.80" y2="541.55" stroke="#eeeeee" stroke-width="0.4" />
<line x1="18.70" y1="544.70" x2="75.80" y2="544.70" stroke="#eeeeee" stroke-width="0.4" />
<line x1="18.70" y1="547.85" x2="75.80" y2="547.85" stroke="#eeeeee" stroke-width="0.4" />
<line x1="30.12" y1="525.80" x2="30.12" y2="551.00" stroke="#eeeeee" stroke-width="0.4" />
<line x1="41.54" y1="525.80" x2="41.54" y2="551.00" stroke="#eeeeee" stroke-width="0.4" />
<line x1="52.96" y1="525.80" x2="52.96" y2="551.00" stroke="#eeeeee" stroke-width="0.4" />
<line x1="64.38" y1="525.80" x2="64.38" y2="551.00" stroke="#eeeeee" stroke-width="0.4" />
<rect x="18.70" y="551.00" width="57.10" height="1.30" fill="#e6e6e6" />
<path d="M18.70,543.94 L20.41,539.66 L22.13,536.38 L23.84,535.38 L24.98,533.86 L26.12,533.36 L27.27,531.34 L28.41,530.34 L29.55,527.82 L30.69,526.30 L32.40,526.81 L35.83,527.56 L41.54,529.58 L47.25,532.86 L52.96,536.38 L58.67,539.91 L64.38,543.44 L70.09,546.97 L75.80,550.24" fill="none" stroke="#34a853" stroke-width="0.95" />
<line x1="19.39" y1="552.40" x2="19.39" y2="560.60" stroke="#000" stroke-width="1.051813539374054" />
<line x1="20.76" y1="552.40" x2="20.76" y2="560.60" stroke="#000" stroke-width="0.883280377645961" />
<line x1="21.48" y1="552.40" x2="21.48" y2="560.60" stroke="#000" stroke-width="1.1341066865601972" />
<line x1="22.94" y1="552.40" x2="22.94" y2="560.60" stroke="#000" stroke-width="0.9099649917100745" />
<line x1="23.75" y1="552.40" x2="23.75" y2="560.60" stroke="#000" stroke-width="0.6888450907969684" />
<line x1="24.98" y1="552.40" x2="24.98" y2="560.60" stroke="#000" stroke-width="0.7" />
<line x1="26.60" y1="552.40" x2="26.60" y2="560.60" stroke="#000" stroke-width="0.7" />
<line x1="28.55" y1="552.40" x2="28.55" y2="560.60" stroke="#000" stroke-width="0.7" />
<line x1="29.22" y1="552.40" x2="29.22" y2="560.60" stroke="#000" stroke-width="0.7" />
<line x1="30.80" y1="552.40" x2="30.80" y2="560.60" stroke="#000" stroke-width="0.7" />
<line x1="35.02" y1="552.40" x2="35.02" y2="560.60" stroke="#000" stroke-width="0.7" />
<line x1="37.02" y1="552.40" x2="37.02" y2="560.60" stroke="#000" stroke-width="0.7" />
<line x1="61.25" y1="552.40" x2="61.25" y2="560.60" stroke="#000" stroke-width="0.7" />
<rect x="18.70" y="561.20" width="57.10" height="2.30" fill="url(#gcb1)" />
<path d="M18.70,570.10 Q35.83,571.50 58.67,572.40 L71.23,572.70 Q74.66,573.50 75.80,575.10 L75.80,572.90 L18.70,572.90 Z" fill="#c4c4c4" stroke="none" stroke-width="1" />
<path d="M18.70,570.10 Q35.83,571.50 58.67,572.40 L71.23,572.70 Q74.66,573.50 75.80,575.10" fill="none" stroke="#707070" stroke-width="0.7" />
<text x="19.84" y="567.90" font-size="6.14" fill="#d42c3c" font-weight="normal" stroke="#d42c3c" stroke-width="0.15" textLength="22.84" lengthAdjust="spacingAndGlyphs" >Group C</text>
<text x="47.25" y="578.70" font-size="6.14" fill="#2f8a80" font-weight="normal" stroke="#2f8a80" stroke-width="0.15" textLength="21.70" lengthAdjust="spacingAndGlyphs" >Group A</text>
<rect x="18.70" y="525.80" width="57.10" height="55.60" fill="none" stroke="#1a1a1a" stroke-width="1.1"/>
<rect x="13.20" y="527.30" width="3.20" height="0.60" fill="#b8b8b8" />
<rect x="13.20" y="530.47" width="3.20" height="0.60" fill="#b8b8b8" />
<rect x="13.20" y="533.64" width="3.20" height="0.60" fill="#b8b8b8" />
<rect x="13.20" y="536.81" width="3.20" height="0.60" fill="#b8b8b8" />
<rect x="13.20" y="539.99" width="3.20" height="0.60" fill="#b8b8b8" />
<rect x="13.20" y="543.16" width="3.20" height="0.60" fill="#b8b8b8" />
<rect x="13.20" y="546.33" width="3.20" height="0.60" fill="#b8b8b8" />
<rect x="13.20" y="549.50" width="3.20" height="0.60" fill="#b8b8b8" />
<rect x="13.20" y="564.50" width="3.20" height="0.60" fill="#b8b8b8" />
<rect x="13.20" y="567.20" width="3.20" height="0.60" fill="#b8b8b8" />
<rect x="13.20" y="569.90" width="3.20" height="0.60" fill="#b8b8b8" />
<rect x="13.20" y="572.60" width="3.20" height="0.60" fill="#b8b8b8" />
<rect x="13.20" y="575.30" width="3.20" height="0.60" fill="#b8b8b8" />
<rect x="13.20" y="578.00" width="3.20" height="0.60" fill="#b8b8b8" />
<rect x="13.20" y="580.70" width="3.20" height="0.60" fill="#b8b8b8" />
<rect x="6.70" y="530.80" width="0.70" height="16.00" fill="#cfcfcf" />
<rect x="6.70" y="563.50" width="0.70" height="17.00" fill="#cfcfcf" />
<rect x="16.70" y="585.00" width="1.20" height="0.80" fill="#bbbbbb" />
<rect x="28.12" y="585.00" width="4.00" height="0.80" fill="#bbbbbb" />
<rect x="39.54" y="585.00" width="4.00" height="0.80" fill="#bbbbbb" />
<rect x="50.96" y="585.00" width="4.00" height="0.80" fill="#bbbbbb" />
<rect x="62.38" y="585.00" width="4.00" height="0.80" fill="#bbbbbb" />
<rect x="38.68" y="588.80" width="17.13" height="0.80" fill="#cccccc" />
<rect x="23.27" y="592.20" width="47.96" height="0.80" fill="#d2d2d2" />
<text x="22.60" y="600.50" font-size="5.76" fill="#222" font-weight="normal" textLength="48.80" lengthAdjust="spacingAndGlyphs" >NES:2.018  FDR&lt;0.001</text>
<defs><linearGradient id="gcb2" x1="0" x2="1"><stop offset="0" stop-color="#e41e26"/><stop offset="0.45" stop-color="#e8303a"/><stop offset="0.46" stop-color="#e06c8c"/><stop offset="0.67" stop-color="#e8c4d4"/><stop offset="0.7350000000000001" stop-color="#f6f2f6"/><stop offset="0.8" stop-color="#c8c0dc"/><stop offset="0.8200000000000001" stop-color="#26267e"/><stop offset="0.97" stop-color="#1e1e78"/><stop offset="0.975" stop-color="#ffffff"/><stop offset="1" stop-color="#ffffff"/></linearGradient></defs>
<text x="114.20" y="517.80" font-size="7.3" fill="#2a2a2a" font-weight="normal" font-style="italic" stroke="#2a2a2a" stroke-width="0.18" textLength="33.90" lengthAdjust="spacingAndGlyphs" >‘Stemness’</text>
<rect x="113.76" y="522.30" width="34.08" height="0.90" fill="#d8d8d8" />
<line x1="102.40" y1="528.95" x2="159.20" y2="528.95" stroke="#eeeeee" stroke-width="0.4" />
<line x1="102.40" y1="532.10" x2="159.20" y2="532.10" stroke="#eeeeee" stroke-width="0.4" />
<line x1="102.40" y1="535.25" x2="159.20" y2="535.25" stroke="#eeeeee" stroke-width="0.4" />
<line x1="102.40" y1="538.40" x2="159.20" y2="538.40" stroke="#eeeeee" stroke-width="0.4" />
<line x1="102.40" y1="541.55" x2="159.20" y2="541.55" stroke="#eeeeee" stroke-width="0.4" />
<line x1="102.40" y1="544.70" x2="159.20" y2="544.70" stroke="#eeeeee" stroke-width="0.4" />
<line x1="102.40" y1="547.85" x2="159.20" y2="547.85" stroke="#eeeeee" stroke-width="0.4" />
<line x1="113.76" y1="525.80" x2="113.76" y2="551.00" stroke="#eeeeee" stroke-width="0.4" />
<line x1="125.12" y1="525.80" x2="125.12" y2="551.00" stroke="#eeeeee" stroke-width="0.4" />
<line x1="136.48" y1="525.80" x2="136.48" y2="551.00" stroke="#eeeeee" stroke-width="0.4" />
<line x1="147.84" y1="525.80" x2="147.84" y2="551.00" stroke="#eeeeee" stroke-width="0.4" />
<rect x="102.40" y="551.00" width="56.80" height="1.30" fill="#e6e6e6" />
<path d="M102.40,542.18 L104.10,537.14 L105.81,533.36 L108.08,530.34 L110.35,528.32 L112.62,526.56 L114.90,526.30 L117.17,527.31 L120.58,528.82 L125.12,530.34 L130.80,533.86 L136.48,538.40 L142.16,542.94 L147.84,546.46 L152.38,548.48 L155.79,549.49 L159.20,550.75" fill="none" stroke="#34a853" stroke-width="0.95" />
<line x1="103.68" y1="552.40" x2="103.68" y2="560.60" stroke="#000" stroke-width="1.0909502015751689" />
<line x1="104.60" y1="552.40" x2="104.60" y2="560.60" stroke="#000" stroke-width="0.9927120711913124" />
<line x1="105.02" y1="552.40" x2="105.02" y2="560.60" stroke="#000" stroke-width="0.7631434770831427" />
<line x1="106.36" y1="552.40" x2="106.36" y2="560.60" stroke="#000" stroke-width="0.5926478484202395" />
<line x1="107.70" y1="552.40" x2="107.70" y2="560.60" stroke="#000" stroke-width="0.7947573126746663" />
<line x1="108.15" y1="552.40" x2="108.15" y2="560.60" stroke="#000" stroke-width="1.154007554581546" />
<line x1="109.14" y1="552.40" x2="109.14" y2="560.60" stroke="#000" stroke-width="1.2423550904962393" />
<line x1="111.28" y1="552.40" x2="111.28" y2="560.60" stroke="#000" stroke-width="0.9416022999790792" />
<line x1="112.33" y1="552.40" x2="112.33" y2="560.60" stroke="#000" stroke-width="0.8877629110282516" />
<line x1="113.34" y1="552.40" x2="113.34" y2="560.60" stroke="#000" stroke-width="0.5297116426822066" />
<line x1="115.02" y1="552.40" x2="115.02" y2="560.60" stroke="#000" stroke-width="0.6878928963817557" />
<line x1="116.08" y1="552.40" x2="116.08" y2="560.60" stroke="#000" stroke-width="0.666849772177901" />
<line x1="117.37" y1="552.40" x2="117.37" y2="560.60" stroke="#000" stroke-width="1.215172664272759" />
<line x1="121.28" y1="552.40" x2="121.28" y2="560.60" stroke="#000" stroke-width="1.1102341168963474" />
<line x1="122.44" y1="552.40" x2="122.44" y2="560.60" stroke="#000" stroke-width="1.0838059012349057" />
<line x1="123.34" y1="552.40" x2="123.34" y2="560.60" stroke="#000" stroke-width="0.8810603115495598" />
<line x1="125.32" y1="552.40" x2="125.32" y2="560.60" stroke="#000" stroke-width="0.6608635386301942" />
<line x1="126.73" y1="552.40" x2="126.73" y2="560.60" stroke="#000" stroke-width="1.2100477727402632" />
<line x1="127.58" y1="552.40" x2="127.58" y2="560.60" stroke="#000" stroke-width="0.7921764371067783" />
<line x1="132.06" y1="552.40" x2="132.06" y2="560.60" stroke="#000" stroke-width="0.7" />
<line x1="143.62" y1="552.40" x2="143.62" y2="560.60" stroke="#000" stroke-width="1.2958741812971382" />
<line x1="144.82" y1="552.40" x2="144.82" y2="560.60" stroke="#000" stroke-width="0.5214685310967007" />
<line x1="145.77" y1="552.40" x2="145.77" y2="560.60" stroke="#000" stroke-width="1.0744740528821823" />
<line x1="147.73" y1="552.40" x2="147.73" y2="560.60" stroke="#000" stroke-width="0.896808612363529" />
<line x1="148.51" y1="552.40" x2="148.51" y2="560.60" stroke="#000" stroke-width="0.9403447186909798" />
<line x1="149.92" y1="552.40" x2="149.92" y2="560.60" stroke="#000" stroke-width="0.6776264165134336" />
<line x1="151.00" y1="552.40" x2="151.00" y2="560.60" stroke="#000" stroke-width="0.9451896010636993" />
<line x1="152.21" y1="552.40" x2="152.21" y2="560.60" stroke="#000" stroke-width="0.6445418874602094" />
<line x1="153.03" y1="552.40" x2="153.03" y2="560.60" stroke="#000" stroke-width="0.7785658170798933" />
<rect x="102.40" y="561.20" width="56.80" height="2.30" fill="url(#gcb2)" />
<path d="M102.40,570.10 Q119.44,571.50 142.16,572.40 L154.66,572.70 Q158.06,573.50 159.20,575.10 L159.20,572.90 L102.40,572.90 Z" fill="#c4c4c4" stroke="none" stroke-width="1" />
<path d="M102.40,570.10 Q119.44,571.50 142.16,572.40 L154.66,572.70 Q158.06,573.50 159.20,575.10" fill="none" stroke="#707070" stroke-width="0.7" />
<text x="103.54" y="567.90" font-size="6.14" fill="#d42c3c" font-weight="normal" stroke="#d42c3c" stroke-width="0.15" textLength="22.72" lengthAdjust="spacingAndGlyphs" >Group C</text>
<text x="130.80" y="578.70" font-size="6.14" fill="#2f8a80" font-weight="normal" stroke="#2f8a80" stroke-width="0.15" textLength="21.58" lengthAdjust="spacingAndGlyphs" >Group A</text>
<rect x="102.40" y="525.80" width="56.80" height="55.60" fill="none" stroke="#1a1a1a" stroke-width="1.1"/>
<rect x="96.90" y="527.30" width="3.20" height="0.60" fill="#b8b8b8" />
<rect x="96.90" y="530.47" width="3.20" height="0.60" fill="#b8b8b8" />
<rect x="96.90" y="533.64" width="3.20" height="0.60" fill="#b8b8b8" />
<rect x="96.90" y="536.81" width="3.20" height="0.60" fill="#b8b8b8" />
<rect x="96.90" y="539.99" width="3.20" height="0.60" fill="#b8b8b8" />
<rect x="96.90" y="543.16" width="3.20" height="0.60" fill="#b8b8b8" />
<rect x="96.90" y="546.33" width="3.20" height="0.60" fill="#b8b8b8" />
<rect x="96.90" y="549.50" width="3.20" height="0.60" fill="#b8b8b8" />
<rect x="96.90" y="564.50" width="3.20" height="0.60" fill="#b8b8b8" />
<rect x="96.90" y="567.20" width="3.20" height="0.60" fill="#b8b8b8" />
<rect x="96.90" y="569.90" width="3.20" height="0.60" fill="#b8b8b8" />
<rect x="96.90" y="572.60" width="3.20" height="0.60" fill="#b8b8b8" />
<rect x="96.90" y="575.30" width="3.20" height="0.60" fill="#b8b8b8" />
<rect x="96.90" y="578.00" width="3.20" height="0.60" fill="#b8b8b8" />
<rect x="96.90" y="580.70" width="3.20" height="0.60" fill="#b8b8b8" />
<rect x="90.40" y="530.80" width="0.70" height="16.00" fill="#cfcfcf" />
<rect x="90.40" y="563.50" width="0.70" height="17.00" fill="#cfcfcf" />
<rect x="100.40" y="585.00" width="1.20" height="0.80" fill="#bbbbbb" />
<rect x="111.76" y="585.00" width="4.00" height="0.80" fill="#bbbbbb" />
<rect x="123.12" y="585.00" width="4.00" height="0.80" fill="#bbbbbb" />
<rect x="134.48" y="585.00" width="4.00" height="0.80" fill="#bbbbbb" />
<rect x="145.84" y="585.00" width="4.00" height="0.80" fill="#bbbbbb" />
<rect x="122.28" y="588.80" width="17.04" height="0.80" fill="#cccccc" />
<rect x="106.94" y="592.20" width="47.71" height="0.80" fill="#d2d2d2" />
<text x="107.30" y="600.50" font-size="5.76" fill="#222" font-weight="normal" textLength="47.70" lengthAdjust="spacingAndGlyphs" >NES:1.733  FDR: 0.014</text>
<defs><linearGradient id="gcb3" x1="0" x2="1"><stop offset="0" stop-color="#e41e26"/><stop offset="0.46" stop-color="#e8303a"/><stop offset="0.47000000000000003" stop-color="#e06c8c"/><stop offset="0.73" stop-color="#e8c4d4"/><stop offset="0.7725" stop-color="#f6f2f6"/><stop offset="0.815" stop-color="#c8c0dc"/><stop offset="0.835" stop-color="#26267e"/><stop offset="0.96" stop-color="#1e1e78"/><stop offset="0.965" stop-color="#ffffff"/><stop offset="1" stop-color="#ffffff"/></linearGradient></defs>
<text x="179.60" y="517.80" font-size="7.3" fill="#2a2a2a" font-weight="normal" font-style="italic" stroke="#2a2a2a" stroke-width="0.18" textLength="61.20" lengthAdjust="spacingAndGlyphs" >‘PRC1 components’</text>
<rect x="192.76" y="522.30" width="34.08" height="0.90" fill="#d8d8d8" />
<line x1="181.40" y1="528.95" x2="238.20" y2="528.95" stroke="#eeeeee" stroke-width="0.4" />
<line x1="181.40" y1="532.10" x2="238.20" y2="532.10" stroke="#eeeeee" stroke-width="0.4" />
<line x1="181.40" y1="535.25" x2="238.20" y2="535.25" stroke="#eeeeee" stroke-width="0.4" />
<line x1="181.40" y1="538.40" x2="238.20" y2="538.40" stroke="#eeeeee" stroke-width="0.4" />
<line x1="181.40" y1="541.55" x2="238.20" y2="541.55" stroke="#eeeeee" stroke-width="0.4" />
<line x1="181.40" y1="544.70" x2="238.20" y2="544.70" stroke="#eeeeee" stroke-width="0.4" />
<line x1="181.40" y1="547.85" x2="238.20" y2="547.85" stroke="#eeeeee" stroke-width="0.4" />
<line x1="192.76" y1="525.80" x2="192.76" y2="551.00" stroke="#eeeeee" stroke-width="0.4" />
<line x1="204.12" y1="525.80" x2="204.12" y2="551.00" stroke="#eeeeee" stroke-width="0.4" />
<line x1="215.48" y1="525.80" x2="215.48" y2="551.00" stroke="#eeeeee" stroke-width="0.4" />
<line x1="226.84" y1="525.80" x2="226.84" y2="551.00" stroke="#eeeeee" stroke-width="0.4" />
<rect x="181.40" y="551.00" width="56.80" height="1.30" fill="#e6e6e6" />
<path d="M181.40,536.38 L183.67,530.84 L185.94,527.82 L188.22,526.30 L190.49,525.80 L192.76,526.81 L196.17,528.32 L199.58,528.82 L204.12,530.84 L209.80,534.12 L213.21,535.38 L216.62,537.14 L221.16,540.42 L226.84,543.94 L232.52,547.47 L238.20,550.50" fill="none" stroke="#34a853" stroke-width="0.95" />
<line x1="184.03" y1="552.40" x2="184.03" y2="560.60" stroke="#000" stroke-width="0.7772907362094648" />
<line x1="185.12" y1="552.40" x2="185.12" y2="560.60" stroke="#000" stroke-width="0.7452911630020463" />
<line x1="186.05" y1="552.40" x2="186.05" y2="560.60" stroke="#000" stroke-width="0.5525151546187983" />
<line x1="188.17" y1="552.40" x2="188.17" y2="560.60" stroke="#000" stroke-width="1.1216148700041493" />
<line x1="195.11" y1="552.40" x2="195.11" y2="560.60" stroke="#000" stroke-width="0.7" />
<line x1="197.16" y1="552.40" x2="197.16" y2="560.60" stroke="#000" stroke-width="0.7" />
<line x1="206.36" y1="552.40" x2="206.36" y2="560.60" stroke="#000" stroke-width="0.7" />
<line x1="207.67" y1="552.40" x2="207.67" y2="560.60" stroke="#000" stroke-width="0.7" />
<line x1="223.91" y1="552.40" x2="223.91" y2="560.60" stroke="#000" stroke-width="0.7" />
<line x1="224.93" y1="552.40" x2="224.93" y2="560.60" stroke="#000" stroke-width="0.7" />
<rect x="181.40" y="561.20" width="56.80" height="2.30" fill="url(#gcb3)" />
<path d="M181.40,570.10 Q198.44,571.50 221.16,572.40 L233.66,572.70 Q237.06,573.50 238.20,575.10 L238.20,572.90 L181.40,572.90 Z" fill="#c4c4c4" stroke="none" stroke-width="1" />
<path d="M181.40,570.10 Q198.44,571.50 221.16,572.40 L233.66,572.70 Q237.06,573.50 238.20,575.10" fill="none" stroke="#707070" stroke-width="0.7" />
<text x="182.54" y="567.90" font-size="6.14" fill="#d42c3c" font-weight="normal" stroke="#d42c3c" stroke-width="0.15" textLength="22.72" lengthAdjust="spacingAndGlyphs" >Group C</text>
<text x="209.80" y="578.70" font-size="6.14" fill="#2f8a80" font-weight="normal" stroke="#2f8a80" stroke-width="0.15" textLength="21.58" lengthAdjust="spacingAndGlyphs" >Group A</text>
<rect x="181.40" y="525.80" width="56.80" height="55.60" fill="none" stroke="#1a1a1a" stroke-width="1.1"/>
<rect x="175.90" y="527.30" width="3.20" height="0.60" fill="#b8b8b8" />
<rect x="175.90" y="530.47" width="3.20" height="0.60" fill="#b8b8b8" />
<rect x="175.90" y="533.64" width="3.20" height="0.60" fill="#b8b8b8" />
<rect x="175.90" y="536.81" width="3.20" height="0.60" fill="#b8b8b8" />
<rect x="175.90" y="539.99" width="3.20" height="0.60" fill="#b8b8b8" />
<rect x="175.90" y="543.16" width="3.20" height="0.60" fill="#b8b8b8" />
<rect x="175.90" y="546.33" width="3.20" height="0.60" fill="#b8b8b8" />
<rect x="175.90" y="549.50" width="3.20" height="0.60" fill="#b8b8b8" />
<rect x="175.90" y="564.50" width="3.20" height="0.60" fill="#b8b8b8" />
<rect x="175.90" y="567.20" width="3.20" height="0.60" fill="#b8b8b8" />
<rect x="175.90" y="569.90" width="3.20" height="0.60" fill="#b8b8b8" />
<rect x="175.90" y="572.60" width="3.20" height="0.60" fill="#b8b8b8" />
<rect x="175.90" y="575.30" width="3.20" height="0.60" fill="#b8b8b8" />
<rect x="175.90" y="578.00" width="3.20" height="0.60" fill="#b8b8b8" />
<rect x="175.90" y="580.70" width="3.20" height="0.60" fill="#b8b8b8" />
<rect x="169.40" y="530.80" width="0.70" height="16.00" fill="#cfcfcf" />
<rect x="169.40" y="563.50" width="0.70" height="17.00" fill="#cfcfcf" />
<rect x="179.40" y="585.00" width="1.20" height="0.80" fill="#bbbbbb" />
<rect x="190.76" y="585.00" width="4.00" height="0.80" fill="#bbbbbb" />
<rect x="202.12" y="585.00" width="4.00" height="0.80" fill="#bbbbbb" />
<rect x="213.48" y="585.00" width="4.00" height="0.80" fill="#bbbbbb" />
<rect x="224.84" y="585.00" width="4.00" height="0.80" fill="#bbbbbb" />
<rect x="201.28" y="588.80" width="17.04" height="0.80" fill="#cccccc" />
<rect x="185.94" y="592.20" width="47.71" height="0.80" fill="#d2d2d2" />
<text x="184.20" y="600.50" font-size="5.76" fill="#222" font-weight="normal" textLength="52.00" lengthAdjust="spacingAndGlyphs" >NES:1.8502  FDR: 0.0121</text>
<defs><linearGradient id="gcb4" x1="0" x2="1"><stop offset="0" stop-color="#e41e26"/><stop offset="0.47" stop-color="#e8303a"/><stop offset="0.48" stop-color="#e06c8c"/><stop offset="0.78" stop-color="#e8c4d4"/><stop offset="0.795" stop-color="#f6f2f6"/><stop offset="0.81" stop-color="#c8c0dc"/><stop offset="0.8300000000000001" stop-color="#26267e"/><stop offset="0.965" stop-color="#1e1e78"/><stop offset="0.97" stop-color="#ffffff"/><stop offset="1" stop-color="#ffffff"/></linearGradient></defs>
<text x="265.00" y="517.80" font-size="7.3" fill="#2a2a2a" font-weight="normal" font-style="italic" stroke="#2a2a2a" stroke-width="0.18" textLength="48.40" lengthAdjust="spacingAndGlyphs" >‘IFNγ signaling’</text>
<rect x="271.72" y="522.30" width="33.96" height="0.90" fill="#d8d8d8" />
<line x1="260.40" y1="528.95" x2="317.00" y2="528.95" stroke="#eeeeee" stroke-width="0.4" />
<line x1="260.40" y1="532.10" x2="317.00" y2="532.10" stroke="#eeeeee" stroke-width="0.4" />
<line x1="260.40" y1="535.25" x2="317.00" y2="535.25" stroke="#eeeeee" stroke-width="0.4" />
<line x1="260.40" y1="538.40" x2="317.00" y2="538.40" stroke="#eeeeee" stroke-width="0.4" />
<line x1="260.40" y1="541.55" x2="317.00" y2="541.55" stroke="#eeeeee" stroke-width="0.4" />
<line x1="260.40" y1="544.70" x2="317.00" y2="544.70" stroke="#eeeeee" stroke-width="0.4" />
<line x1="260.40" y1="547.85" x2="317.00" y2="547.85" stroke="#eeeeee" stroke-width="0.4" />
<line x1="271.72" y1="525.80" x2="271.72" y2="551.00" stroke="#eeeeee" stroke-width="0.4" />
<line x1="283.04" y1="525.80" x2="283.04" y2="551.00" stroke="#eeeeee" stroke-width="0.4" />
<line x1="294.36" y1="525.80" x2="294.36" y2="551.00" stroke="#eeeeee" stroke-width="0.4" />
<line x1="305.68" y1="525.80" x2="305.68" y2="551.00" stroke="#eeeeee" stroke-width="0.4" />
<rect x="260.40" y="551.00" width="56.60" height="1.30" fill="#e6e6e6" />
<path d="M260.40,537.14 L262.66,531.34 L264.93,528.32 L268.32,526.56 L271.72,525.80 L276.25,525.80 L280.78,527.06 L286.44,529.58 L292.10,533.36 L297.76,538.40 L303.42,542.94 L309.08,546.46 L313.60,548.98 L317.00,550.50" fill="none" stroke="#34a853" stroke-width="0.95" />
<line x1="261.15" y1="552.40" x2="261.15" y2="560.60" stroke="#000" stroke-width="1.2691438123098657" />
<line x1="261.63" y1="552.40" x2="261.63" y2="560.60" stroke="#000" stroke-width="1.2065357228911486" />
<line x1="262.25" y1="552.40" x2="262.25" y2="560.60" stroke="#000" stroke-width="0.8004481176551352" />
<line x1="262.80" y1="552.40" x2="262.80" y2="560.60" stroke="#000" stroke-width="1.200915683781338" />
<line x1="263.43" y1="552.40" x2="263.43" y2="560.60" stroke="#000" stroke-width="0.5554681208088" />
<line x1="264.40" y1="552.40" x2="264.40" y2="560.60" stroke="#000" stroke-width="1.119133298047858" />
<line x1="264.92" y1="552.40" x2="264.92" y2="560.60" stroke="#000" stroke-width="1.1695990460394667" />
<line x1="265.38" y1="552.40" x2="265.38" y2="560.60" stroke="#000" stroke-width="0.7063812891151084" />
<line x1="266.16" y1="552.40" x2="266.16" y2="560.60" stroke="#000" stroke-width="0.8356410697018775" />
<line x1="266.78" y1="552.40" x2="266.78" y2="560.60" stroke="#000" stroke-width="0.555561011257086" />
<line x1="267.52" y1="552.40" x2="267.52" y2="560.60" stroke="#000" stroke-width="1.2193161615497747" />
<line x1="268.49" y1="552.40" x2="268.49" y2="560.60" stroke="#000" stroke-width="1.0966781838445154" />
<line x1="268.92" y1="552.40" x2="268.92" y2="560.60" stroke="#000" stroke-width="0.7017718383049291" />
<line x1="269.82" y1="552.40" x2="269.82" y2="560.60" stroke="#000" stroke-width="0.9205022448983501" />
<line x1="270.38" y1="552.40" x2="270.38" y2="560.60" stroke="#000" stroke-width="0.5226395425369091" />
<line x1="270.80" y1="552.40" x2="270.80" y2="560.60" stroke="#000" stroke-width="1.1706110380037116" />
<line x1="271.74" y1="552.40" x2="271.74" y2="560.60" stroke="#000" stroke-width="1.2051622412726786" />
<line x1="272.32" y1="552.40" x2="272.32" y2="560.60" stroke="#000" stroke-width="0.8408659963873537" />
<line x1="272.98" y1="552.40" x2="272.98" y2="560.60" stroke="#000" stroke-width="1.1794736413767883" />
<line x1="273.52" y1="552.40" x2="273.52" y2="560.60" stroke="#000" stroke-width="0.927467838456705" />
<line x1="274.17" y1="552.40" x2="274.17" y2="560.60" stroke="#000" stroke-width="1.1146046264217349" />
<line x1="274.72" y1="552.40" x2="274.72" y2="560.60" stroke="#000" stroke-width="1.0482389874808948" />
<line x1="275.83" y1="552.40" x2="275.83" y2="560.60" stroke="#000" stroke-width="0.5188005284334481" />
<line x1="276.33" y1="552.40" x2="276.33" y2="560.60" stroke="#000" stroke-width="1.0150871172533358" />
<line x1="277.12" y1="552.40" x2="277.12" y2="560.60" stroke="#000" stroke-width="0.9674721504515391" />
<line x1="277.51" y1="552.40" x2="277.51" y2="560.60" stroke="#000" stroke-width="0.8244850501515667" />
<line x1="278.50" y1="552.40" x2="278.50" y2="560.60" stroke="#000" stroke-width="1.224485469690047" />
<line x1="278.78" y1="552.40" x2="278.78" y2="560.60" stroke="#000" stroke-width="0.575871303063398" />
<line x1="279.43" y1="552.40" x2="279.43" y2="560.60" stroke="#000" stroke-width="0.5202536025150835" />
<line x1="280.27" y1="552.40" x2="280.27" y2="560.60" stroke="#000" stroke-width="0.6126607660763836" />
<line x1="281.13" y1="552.40" x2="281.13" y2="560.60" stroke="#000" stroke-width="1.0242586152633417" />
<line x1="281.45" y1="552.40" x2="281.45" y2="560.60" stroke="#000" stroke-width="0.9309268947964344" />
<line x1="282.21" y1="552.40" x2="282.21" y2="560.60" stroke="#000" stroke-width="0.895093410539366" />
<line x1="282.83" y1="552.40" x2="282.83" y2="560.60" stroke="#000" stroke-width="0.6328643571232277" />
<line x1="283.48" y1="552.40" x2="283.48" y2="560.60" stroke="#000" stroke-width="0.802248574504977" />
<line x1="284.40" y1="552.40" x2="284.40" y2="560.60" stroke="#000" stroke-width="0.9400288150135048" />
<line x1="284.76" y1="552.40" x2="284.76" y2="560.60" stroke="#000" stroke-width="1.0687008351378424" />
<line x1="285.81" y1="552.40" x2="285.81" y2="560.60" stroke="#000" stroke-width="1.119399065117073" />
<line x1="286.44" y1="552.40" x2="286.44" y2="560.60" stroke="#000" stroke-width="0.5062582754352571" />
<line x1="286.96" y1="552.40" x2="286.96" y2="560.60" stroke="#000" stroke-width="0.5507931375380571" />
<line x1="287.76" y1="552.40" x2="287.76" y2="560.60" stroke="#000" stroke-width="0.6402377179529626" />
<line x1="288.41" y1="552.40" x2="288.41" y2="560.60" stroke="#000" stroke-width="0.7023247597456088" />
<line x1="289.07" y1="552.40" x2="289.07" y2="560.60" stroke="#000" stroke-width="0.7508938237774911" />
<line x1="289.43" y1="552.40" x2="289.43" y2="560.60" stroke="#000" stroke-width="0.8110968122254221" />
<line x1="290.22" y1="552.40" x2="290.22" y2="560.60" stroke="#000" stroke-width="1.2206034898190725" />
<line x1="290.89" y1="552.40" x2="290.89" y2="560.60" stroke="#000" stroke-width="0.9024969864074797" />
<line x1="291.67" y1="552.40" x2="291.67" y2="560.60" stroke="#000" stroke-width="1.2585736308871787" />
<line x1="292.13" y1="552.40" x2="292.13" y2="560.60" stroke="#000" stroke-width="0.9809436265233222" />
<line x1="292.99" y1="552.40" x2="292.99" y2="560.60" stroke="#000" stroke-width="1.08765809133007" />
<line x1="293.87" y1="552.40" x2="293.87" y2="560.60" stroke="#000" stroke-width="0.7481257634855424" />
<line x1="294.42" y1="552.40" x2="294.42" y2="560.60" stroke="#000" stroke-width="0.9206293270457542" />
<line x1="297.30" y1="552.40" x2="297.30" y2="560.60" stroke="#000" stroke-width="0.7" />
<line x1="301.82" y1="552.40" x2="301.82" y2="560.60" stroke="#000" stroke-width="0.7" />
<line x1="305.27" y1="552.40" x2="305.27" y2="560.60" stroke="#000" stroke-width="0.7" />
<line x1="310.45" y1="552.40" x2="310.45" y2="560.60" stroke="#000" stroke-width="0.7" />
<rect x="260.40" y="561.20" width="56.60" height="2.30" fill="url(#gcb4)" />
<path d="M260.40,570.10 Q277.38,571.50 300.02,572.40 L312.47,572.70 Q315.87,573.50 317.00,575.10 L317.00,572.90 L260.40,572.90 Z" fill="#c4c4c4" stroke="none" stroke-width="1" />
<path d="M260.40,570.10 Q277.38,571.50 300.02,572.40 L312.47,572.70 Q315.87,573.50 317.00,575.10" fill="none" stroke="#707070" stroke-width="0.7" />
<text x="261.53" y="567.90" font-size="6.14" fill="#d42c3c" font-weight="normal" stroke="#d42c3c" stroke-width="0.15" textLength="22.64" lengthAdjust="spacingAndGlyphs" >Group C</text>
<text x="288.70" y="578.70" font-size="6.14" fill="#2f8a80" font-weight="normal" stroke="#2f8a80" stroke-width="0.15" textLength="21.51" lengthAdjust="spacingAndGlyphs" >Group A</text>
<rect x="260.40" y="525.80" width="56.60" height="55.60" fill="none" stroke="#1a1a1a" stroke-width="1.1"/>
<rect x="254.90" y="527.30" width="3.20" height="0.60" fill="#b8b8b8" />
<rect x="254.90" y="530.47" width="3.20" height="0.60" fill="#b8b8b8" />
<rect x="254.90" y="533.64" width="3.20" height="0.60" fill="#b8b8b8" />
<rect x="254.90" y="536.81" width="3.20" height="0.60" fill="#b8b8b8" />
<rect x="254.90" y="539.99" width="3.20" height="0.60" fill="#b8b8b8" />
<rect x="254.90" y="543.16" width="3.20" height="0.60" fill="#b8b8b8" />
<rect x="254.90" y="546.33" width="3.20" height="0.60" fill="#b8b8b8" />
<rect x="254.90" y="549.50" width="3.20" height="0.60" fill="#b8b8b8" />
<rect x="254.90" y="564.50" width="3.20" height="0.60" fill="#b8b8b8" />
<rect x="254.90" y="567.20" width="3.20" height="0.60" fill="#b8b8b8" />
<rect x="254.90" y="569.90" width="3.20" height="0.60" fill="#b8b8b8" />
<rect x="254.90" y="572.60" width="3.20" height="0.60" fill="#b8b8b8" />
<rect x="254.90" y="575.30" width="3.20" height="0.60" fill="#b8b8b8" />
<rect x="254.90" y="578.00" width="3.20" height="0.60" fill="#b8b8b8" />
<rect x="254.90" y="580.70" width="3.20" height="0.60" fill="#b8b8b8" />
<rect x="248.40" y="530.80" width="0.70" height="16.00" fill="#cfcfcf" />
<rect x="248.40" y="563.50" width="0.70" height="17.00" fill="#cfcfcf" />
<rect x="258.40" y="585.00" width="1.20" height="0.80" fill="#bbbbbb" />
<rect x="269.72" y="585.00" width="4.00" height="0.80" fill="#bbbbbb" />
<rect x="281.04" y="585.00" width="4.00" height="0.80" fill="#bbbbbb" />
<rect x="292.36" y="585.00" width="4.00" height="0.80" fill="#bbbbbb" />
<rect x="303.68" y="585.00" width="4.00" height="0.80" fill="#bbbbbb" />
<rect x="280.21" y="588.80" width="16.98" height="0.80" fill="#cccccc" />
<rect x="264.93" y="592.20" width="47.54" height="0.80" fill="#d2d2d2" />
<text x="265.00" y="600.50" font-size="5.76" fill="#222" font-weight="normal" textLength="48.40" lengthAdjust="spacingAndGlyphs" >NES:1.813  FDR&lt;0.001</text>
<defs><linearGradient id="gcb5" x1="0" x2="1"><stop offset="0" stop-color="#e41e26"/><stop offset="0.48" stop-color="#e8303a"/><stop offset="0.49" stop-color="#e06c8c"/><stop offset="0.64" stop-color="#e8c4d4"/><stop offset="0.65" stop-color="#f6f2f6"/><stop offset="0.66" stop-color="#c8c0dc"/><stop offset="0.68" stop-color="#26267e"/><stop offset="0.97" stop-color="#1e1e78"/><stop offset="0.975" stop-color="#ffffff"/><stop offset="1" stop-color="#ffffff"/></linearGradient></defs>
<text x="347.30" y="517.80" font-size="7.3" fill="#2a2a2a" font-weight="normal" font-style="italic" stroke="#2a2a2a" stroke-width="0.18" textLength="43.10" lengthAdjust="spacingAndGlyphs" >‘Proliferation’</text>
<rect x="350.64" y="522.30" width="33.72" height="0.90" fill="#d8d8d8" />
<line x1="339.40" y1="528.95" x2="395.60" y2="528.95" stroke="#eeeeee" stroke-width="0.4" />
<line x1="339.40" y1="532.10" x2="395.60" y2="532.10" stroke="#eeeeee" stroke-width="0.4" />
<line x1="339.40" y1="535.25" x2="395.60" y2="535.25" stroke="#eeeeee" stroke-width="0.4" />
<line x1="339.40" y1="538.40" x2="395.60" y2="538.40" stroke="#eeeeee" stroke-width="0.4" />
<line x1="339.40" y1="541.55" x2="395.60" y2="541.55" stroke="#eeeeee" stroke-width="0.4" />
<line x1="339.40" y1="544.70" x2="395.60" y2="544.70" stroke="#eeeeee" stroke-width="0.4" />
<line x1="339.40" y1="547.85" x2="395.60" y2="547.85" stroke="#eeeeee" stroke-width="0.4" />
<line x1="350.64" y1="525.80" x2="350.64" y2="551.00" stroke="#eeeeee" stroke-width="0.4" />
<line x1="361.88" y1="525.80" x2="361.88" y2="551.00" stroke="#eeeeee" stroke-width="0.4" />
<line x1="373.12" y1="525.80" x2="373.12" y2="551.00" stroke="#eeeeee" stroke-width="0.4" />
<line x1="384.36" y1="525.80" x2="384.36" y2="551.00" stroke="#eeeeee" stroke-width="0.4" />
<rect x="339.40" y="551.00" width="56.20" height="1.30" fill="#e6e6e6" />
<path d="M339.40,526.81 L342.21,527.31 L345.02,528.32 L350.64,530.84 L356.26,533.36 L361.88,535.88 L367.50,538.90 L373.12,542.43 L376.49,545.96 L379.86,548.98 L383.24,550.50 L385.48,550.24 L388.29,547.22 L390.54,540.92 L392.79,533.86 L395.60,527.82" fill="none" stroke="#34a853" stroke-width="0.95" />
<line x1="339.76" y1="552.40" x2="339.76" y2="560.60" stroke="#000" stroke-width="0.7544786373255228" />
<line x1="341.86" y1="552.40" x2="341.86" y2="560.60" stroke="#000" stroke-width="0.5860849432228201" />
<line x1="342.38" y1="552.40" x2="342.38" y2="560.60" stroke="#000" stroke-width="0.5586654938849633" />
<line x1="344.58" y1="552.40" x2="344.58" y2="560.60" stroke="#000" stroke-width="1.1079308031647839" />
<line x1="345.66" y1="552.40" x2="345.66" y2="560.60" stroke="#000" stroke-width="0.9971129116240187" />
<line x1="346.68" y1="552.40" x2="346.68" y2="560.60" stroke="#000" stroke-width="1.01571739736587" />
<line x1="348.56" y1="552.40" x2="348.56" y2="560.60" stroke="#000" stroke-width="0.9139411241591391" />
<line x1="349.96" y1="552.40" x2="349.96" y2="560.60" stroke="#000" stroke-width="0.821211082162584" />
<line x1="351.24" y1="552.40" x2="351.24" y2="560.60" stroke="#000" stroke-width="0.539055965313317" />
<line x1="352.91" y1="552.40" x2="352.91" y2="560.60" stroke="#000" stroke-width="0.6976455347274682" />
<line x1="354.63" y1="552.40" x2="354.63" y2="560.60" stroke="#000" stroke-width="1.1538369620119502" />
<line x1="356.11" y1="552.40" x2="356.11" y2="560.60" stroke="#000" stroke-width="0.86479371665488" />
<line x1="356.98" y1="552.40" x2="356.98" y2="560.60" stroke="#000" stroke-width="0.8083255966156654" />
<line x1="358.12" y1="552.40" x2="358.12" y2="560.60" stroke="#000" stroke-width="1.005458813397099" />
<line x1="359.42" y1="552.40" x2="359.42" y2="560.60" stroke="#000" stroke-width="0.5683250012244663" />
<line x1="360.06" y1="552.40" x2="360.06" y2="560.60" stroke="#000" stroke-width="0.893507929879592" />
<line x1="361.19" y1="552.40" x2="361.19" y2="560.60" stroke="#000" stroke-width="1.2123888684267188" />
<line x1="362.21" y1="552.40" x2="362.21" y2="560.60" stroke="#000" stroke-width="1.001446113780723" />
<line x1="363.16" y1="552.40" x2="363.16" y2="560.60" stroke="#000" stroke-width="1.0344229503335791" />
<line x1="364.20" y1="552.40" x2="364.20" y2="560.60" stroke="#000" stroke-width="1.0592207778707872" />
<line x1="365.05" y1="552.40" x2="365.05" y2="560.60" stroke="#000" stroke-width="0.6962449936938298" />
<line x1="366.18" y1="552.40" x2="366.18" y2="560.60" stroke="#000" stroke-width="0.8087620753404612" />
<line x1="366.95" y1="552.40" x2="366.95" y2="560.60" stroke="#000" stroke-width="1.1598677904858063" />
<line x1="367.93" y1="552.40" x2="367.93" y2="560.60" stroke="#000" stroke-width="1.291366946155383" />
<line x1="368.14" y1="552.40" x2="368.14" y2="560.60" stroke="#000" stroke-width="0.7500930082919371" />
<line x1="368.90" y1="552.40" x2="368.90" y2="560.60" stroke="#000" stroke-width="0.8129783911491464" />
<line x1="369.46" y1="552.40" x2="369.46" y2="560.60" stroke="#000" stroke-width="0.9425949583966646" />
<line x1="370.06" y1="552.40" x2="370.06" y2="560.60" stroke="#000" stroke-width="0.7420819021461427" />
<line x1="371.08" y1="552.40" x2="371.08" y2="560.60" stroke="#000" stroke-width="1.0938843950210524" />
<line x1="371.50" y1="552.40" x2="371.50" y2="560.60" stroke="#000" stroke-width="0.5865746199538604" />
<line x1="372.35" y1="552.40" x2="372.35" y2="560.60" stroke="#000" stroke-width="1.0631603147582624" />
<line x1="376.25" y1="552.40" x2="376.25" y2="560.60" stroke="#000" stroke-width="0.7" />
<line x1="378.89" y1="552.40" x2="378.89" y2="560.60" stroke="#000" stroke-width="1.0132618342737856" />
<line x1="379.67" y1="552.40" x2="379.67" y2="560.60" stroke="#000" stroke-width="0.7086954956173628" />
<line x1="380.43" y1="552.40" x2="380.43" y2="560.60" stroke="#000" stroke-width="0.7576894790808781" />
<line x1="380.75" y1="552.40" x2="380.75" y2="560.60" stroke="#000" stroke-width="1.1762971578073178" />
<line x1="381.34" y1="552.40" x2="381.34" y2="560.60" stroke="#000" stroke-width="1.0449305803003852" />
<line x1="381.99" y1="552.40" x2="381.99" y2="560.60" stroke="#000" stroke-width="0.9783752661237997" />
<line x1="382.66" y1="552.40" x2="382.66" y2="560.60" stroke="#000" stroke-width="0.8031962404082038" />
<line x1="383.58" y1="552.40" x2="383.58" y2="560.60" stroke="#000" stroke-width="0.8735725367169584" />
<line x1="383.99" y1="552.40" x2="383.99" y2="560.60" stroke="#000" stroke-width="0.993673894797293" />
<line x1="384.55" y1="552.40" x2="384.55" y2="560.60" stroke="#000" stroke-width="0.6394773403863205" />
<line x1="385.23" y1="552.40" x2="385.23" y2="560.60" stroke="#000" stroke-width="0.7179214185414222" />
<line x1="385.78" y1="552.40" x2="385.78" y2="560.60" stroke="#000" stroke-width="1.2686292482327781" />
<line x1="386.34" y1="552.40" x2="386.34" y2="560.60" stroke="#000" stroke-width="1.1483465291825614" />
<line x1="387.37" y1="552.40" x2="387.37" y2="560.60" stroke="#000" stroke-width="1.0636792026024389" />
<line x1="387.60" y1="552.40" x2="387.60" y2="560.60" stroke="#000" stroke-width="0.9009616290332014" />
<line x1="388.24" y1="552.40" x2="388.24" y2="560.60" stroke="#000" stroke-width="0.9862896289899112" />
<line x1="389.17" y1="552.40" x2="389.17" y2="560.60" stroke="#000" stroke-width="0.6921818553853545" />
<line x1="389.49" y1="552.40" x2="389.49" y2="560.60" stroke="#000" stroke-width="0.935523659872303" />
<line x1="390.16" y1="552.40" x2="390.16" y2="560.60" stroke="#000" stroke-width="0.747170097770111" />
<line x1="390.95" y1="552.40" x2="390.95" y2="560.60" stroke="#000" stroke-width="1.2155631721198241" />
<line x1="391.55" y1="552.40" x2="391.55" y2="560.60" stroke="#000" stroke-width="0.6079618249582254" />
<line x1="392.37" y1="552.40" x2="392.37" y2="560.60" stroke="#000" stroke-width="1.157877251101519" />
<line x1="392.88" y1="552.40" x2="392.88" y2="560.60" stroke="#000" stroke-width="0.539327307395005" />
<line x1="393.36" y1="552.40" x2="393.36" y2="560.60" stroke="#000" stroke-width="0.8223765604647351" />
<rect x="339.40" y="561.20" width="56.20" height="2.30" fill="url(#gcb5)" />
<path d="M339.40,570.10 Q356.26,571.50 378.74,572.40 L391.10,572.70 Q394.48,573.50 395.60,575.10 L395.60,572.90 L339.40,572.90 Z" fill="#c4c4c4" stroke="none" stroke-width="1" />
<path d="M339.40,570.10 Q356.26,571.50 378.74,572.40 L391.10,572.70 Q394.48,573.50 395.60,575.10" fill="none" stroke="#707070" stroke-width="0.7" />
<text x="340.52" y="567.90" font-size="6.14" fill="#d42c3c" font-weight="normal" stroke="#d42c3c" stroke-width="0.15" textLength="22.48" lengthAdjust="spacingAndGlyphs" >Group C</text>
<text x="367.50" y="578.70" font-size="6.14" fill="#2f8a80" font-weight="normal" stroke="#2f8a80" stroke-width="0.15" textLength="21.36" lengthAdjust="spacingAndGlyphs" >Group A</text>
<rect x="339.40" y="525.80" width="56.20" height="55.60" fill="none" stroke="#1a1a1a" stroke-width="1.1"/>
<rect x="333.90" y="527.30" width="3.20" height="0.60" fill="#b8b8b8" />
<rect x="333.90" y="530.47" width="3.20" height="0.60" fill="#b8b8b8" />
<rect x="333.90" y="533.64" width="3.20" height="0.60" fill="#b8b8b8" />
<rect x="333.90" y="536.81" width="3.20" height="0.60" fill="#b8b8b8" />
<rect x="333.90" y="539.99" width="3.20" height="0.60" fill="#b8b8b8" />
<rect x="333.90" y="543.16" width="3.20" height="0.60" fill="#b8b8b8" />
<rect x="333.90" y="546.33" width="3.20" height="0.60" fill="#b8b8b8" />
<rect x="333.90" y="549.50" width="3.20" height="0.60" fill="#b8b8b8" />
<rect x="333.90" y="564.50" width="3.20" height="0.60" fill="#b8b8b8" />
<rect x="333.90" y="567.20" width="3.20" height="0.60" fill="#b8b8b8" />
<rect x="333.90" y="569.90" width="3.20" height="0.60" fill="#b8b8b8" />
<rect x="333.90" y="572.60" width="3.20" height="0.60" fill="#b8b8b8" />
<rect x="333.90" y="575.30" width="3.20" height="0.60" fill="#b8b8b8" />
<rect x="333.90" y="578.00" width="3.20" height="0.60" fill="#b8b8b8" />
<rect x="333.90" y="580.70" width="3.20" height="0.60" fill="#b8b8b8" />
<rect x="327.40" y="530.80" width="0.70" height="16.00" fill="#cfcfcf" />
<rect x="327.40" y="563.50" width="0.70" height="17.00" fill="#cfcfcf" />
<rect x="337.40" y="585.00" width="1.20" height="0.80" fill="#bbbbbb" />
<rect x="348.64" y="585.00" width="4.00" height="0.80" fill="#bbbbbb" />
<rect x="359.88" y="585.00" width="4.00" height="0.80" fill="#bbbbbb" />
<rect x="371.12" y="585.00" width="4.00" height="0.80" fill="#bbbbbb" />
<rect x="382.36" y="585.00" width="4.00" height="0.80" fill="#bbbbbb" />
<rect x="359.07" y="588.80" width="16.86" height="0.80" fill="#cccccc" />
<rect x="343.90" y="592.20" width="47.21" height="0.80" fill="#d2d2d2" />
<text x="343.00" y="600.50" font-size="5.76" fill="#222" font-weight="normal" textLength="51.40" lengthAdjust="spacingAndGlyphs" >NES:−2.896  FDR&lt;0.001</text>
<text x="408.10" y="495.10" font-size="11.04" fill="#111" font-weight="bold" stroke="#111" stroke-width="0.45" textLength="8.20" lengthAdjust="spacingAndGlyphs" >G</text>
<circle cx="462.20" cy="501.60" r="1.50" fill="#1d3a3a" />
<text x="467.00" y="503.60" font-size="6.34" fill="#333" font-weight="normal" stroke="#333" stroke-width="0.16" textLength="3.90" lengthAdjust="spacingAndGlyphs" >A</text>
<circle cx="479.50" cy="501.60" r="1.50" fill="#1e1e5a" />
<text x="484.30" y="503.60" font-size="6.34" fill="#333" font-weight="normal" stroke="#333" stroke-width="0.16" textLength="3.90" lengthAdjust="spacingAndGlyphs" >B</text>
<circle cx="495.80" cy="501.60" r="1.50" fill="#c83040" />
<text x="498.30" y="503.60" font-size="6.34" fill="#2a4a4a" font-weight="normal" stroke="#2a4a4a" stroke-width="0.16" textLength="4.30" lengthAdjust="spacingAndGlyphs" >C</text>
<text x="-28.85" y="0.00" font-size="8.83" fill="#2a2a2a" font-weight="normal" stroke="#2a2a2a" stroke-width="0.22" textLength="57.70" lengthAdjust="spacingAndGlyphs" transform="translate(413.7,543.6) rotate(-90)">Log2(pseudobulk</text>
<text x="-17.45" y="0.00" font-size="8.83" fill="#2a2a2a" font-weight="normal" stroke="#2a2a2a" stroke-width="0.22" textLength="34.90" lengthAdjust="spacingAndGlyphs" transform="translate(425.5,543.6) rotate(-90)">DNTT exp)</text>
<text x="-30.40" y="0.00" font-size="8.83" fill="#2a2a2a" font-weight="normal" stroke="#2a2a2a" stroke-width="0.22" textLength="60.80" lengthAdjust="spacingAndGlyphs" transform="translate(436.6,543.6) rotate(-90)">(in CD34+ HSPCs)</text>
<line x1="450.30" y1="576.00" x2="453.60" y2="576.00" stroke="#222" stroke-width="1.0" />
<text x="446.60" y="578.60" font-size="7.3" fill="#333" font-weight="normal" stroke="#333" stroke-width="0.18" text-anchor="end" >0</text>
<line x1="450.30" y1="557.37" x2="453.60" y2="557.37" stroke="#222" stroke-width="1.0" />
<text x="446.60" y="559.97" font-size="7.3" fill="#333" font-weight="normal" stroke="#333" stroke-width="0.18" text-anchor="end" >1</text>
<line x1="450.30" y1="538.74" x2="453.60" y2="538.74" stroke="#222" stroke-width="1.0" />
<text x="446.60" y="541.34" font-size="7.3" fill="#333" font-weight="normal" stroke="#333" stroke-width="0.18" text-anchor="end" >2</text>
<line x1="450.30" y1="520.11" x2="453.60" y2="520.11" stroke="#222" stroke-width="1.0" />
<text x="446.60" y="522.71" font-size="7.3" fill="#333" font-weight="normal" stroke="#333" stroke-width="0.18" text-anchor="end" >3</text>
<rect x="459.40" y="573.90" width="19.40" height="2.80" fill="#262650" />
<circle cx="468.70" cy="570.80" r="1.00" fill="#1e1e5a" />
<line x1="468.70" y1="570.80" x2="468.70" y2="574.30" stroke="#1e1e4a" stroke-width="0.6" />
<circle cx="463.00" cy="575.00" r="0.60" fill="#1d3a3a" />
<circle cx="474.00" cy="575.20" r="0.60" fill="#2a2a6a" />
<rect x="484.6" y="520.2" width="19.4" height="26.4" fill="none" stroke="#111" stroke-width="1.25"/>
<rect x="484.60" y="519.00" width="19.40" height="1.80" fill="#1a1a1a" />
<line x1="494.00" y1="546.60" x2="494.00" y2="573.80" stroke="#111" stroke-width="1.3" />
<circle cx="494.00" cy="573.60" r="0.90" fill="#c83040" />
<circle cx="494.00" cy="519.60" r="0.90" fill="#c83040" />
<path d="M468.7,518.4 L468.7,516.9 L494.0,516.9 L494.0,519.3" fill="none" stroke="#1a1a1a" stroke-width="1.2" />
<text x="472.30" y="515.00" font-size="6.34" fill="#333" font-weight="normal" stroke="#333" stroke-width="0.16" textLength="18.00" lengthAdjust="spacingAndGlyphs" >0.0033</text>
<text x="491.10" y="527.00" font-size="5.76" fill="#c8404a" font-weight="normal" textLength="18.00" lengthAdjust="spacingAndGlyphs" >BM157</text>
<text x="494.00" y="533.20" font-size="5.76" fill="#c8404a" font-weight="normal" textLength="12.90" lengthAdjust="spacingAndGlyphs" >P605</text>
<text x="493.20" y="575.00" font-size="5.76" fill="#c8404a" font-weight="normal" textLength="15.20" lengthAdjust="spacingAndGlyphs" >P430</text>
<rect x="453.6" y="508.3" width="59.1" height="70.3" fill="none" stroke="#1a1a1a" stroke-width="1.2"/>
<line x1="468.70" y1="578.60" x2="468.70" y2="581.00" stroke="#222" stroke-width="0.9" />
<line x1="494.00" y1="578.60" x2="494.00" y2="581.00" stroke="#222" stroke-width="0.9" />
<text x="463.80" y="591.60" font-size="8.06" fill="#2a2a2a" font-weight="normal" stroke="#2a2a2a" stroke-width="0.20" textLength="10.00" lengthAdjust="spacingAndGlyphs" >No</text>
<text x="488.20" y="591.60" font-size="8.06" fill="#2a2a2a" font-weight="normal" stroke="#2a2a2a" stroke-width="0.20" textLength="11.10" lengthAdjust="spacingAndGlyphs" >Yes</text>
<text x="459.20" y="603.60" font-size="9.02" fill="#2a2a2a" font-weight="normal" stroke="#2a2a2a" stroke-width="0.23" textLength="48.70" lengthAdjust="spacingAndGlyphs" >Lymphoid blast</text>
<text x="475.40" y="615.00" font-size="9.02" fill="#2a2a2a" font-weight="normal" stroke="#2a2a2a" stroke-width="0.23" textLength="15.10" lengthAdjust="spacingAndGlyphs" >crisis</text>
<rect x="0.5" y="0.5" width="519" height="624" fill="none" stroke="#4a4a4a" stroke-width="1.3"/>
</svg></body></html>
